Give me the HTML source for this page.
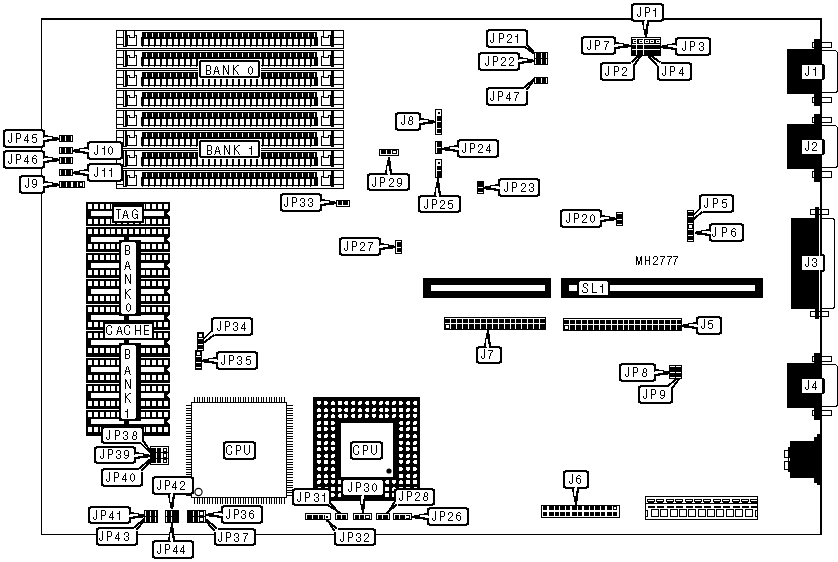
<!DOCTYPE html>
<html><head><meta charset="utf-8"><style>
html,body{margin:0;padding:0;background:#fff;}
svg{display:block;font-family:"Liberation Sans",sans-serif;}
</style></head><body>
<svg width="838" height="562" viewBox="0 0 838 562" shape-rendering="crispEdges">
<defs><filter id="th"><feComponentTransfer><feFuncA type="linear" slope="3" intercept="-1.0"/></feComponentTransfer></filter></defs>
<rect width="838" height="562" fill="#fff"/>
<rect x="41" y="18" width="781" height="2" fill="#000"/>
<rect x="41" y="18" width="1" height="517" fill="#000"/>
<rect x="41" y="534" width="781" height="1" fill="#000"/>
<rect x="820" y="18" width="2" height="517" fill="#000"/>
<rect x="116" y="30" width="25" height="1" fill="#000"/>
<rect x="116" y="31" width="1" height="1" fill="#000"/>
<rect x="123" y="31" width="1" height="1" fill="#000"/>
<rect x="125" y="31" width="2" height="1" fill="#000"/>
<rect x="134" y="31" width="1" height="1" fill="#000"/>
<rect x="116" y="32" width="1" height="1" fill="#000"/>
<rect x="123" y="32" width="1" height="1" fill="#000"/>
<rect x="125" y="32" width="2" height="1" fill="#000"/>
<rect x="134" y="32" width="1" height="1" fill="#000"/>
<rect x="116" y="33" width="1" height="1" fill="#000"/>
<rect x="123" y="33" width="1" height="1" fill="#000"/>
<rect x="125" y="33" width="2" height="1" fill="#000"/>
<rect x="134" y="33" width="1" height="1" fill="#000"/>
<rect x="116" y="34" width="1" height="1" fill="#000"/>
<rect x="123" y="34" width="1" height="1" fill="#000"/>
<rect x="125" y="34" width="2" height="1" fill="#000"/>
<rect x="134" y="34" width="1" height="1" fill="#000"/>
<rect x="116" y="35" width="1" height="1" fill="#000"/>
<rect x="123" y="35" width="1" height="1" fill="#000"/>
<rect x="125" y="35" width="5" height="1" fill="#000"/>
<rect x="134" y="35" width="3" height="1" fill="#000"/>
<rect x="116" y="36" width="1" height="1" fill="#000"/>
<rect x="123" y="36" width="1" height="1" fill="#000"/>
<rect x="125" y="36" width="3" height="1" fill="#000"/>
<rect x="129" y="36" width="1" height="1" fill="#000"/>
<rect x="134" y="36" width="1" height="1" fill="#000"/>
<rect x="136" y="36" width="1" height="1" fill="#000"/>
<rect x="116" y="37" width="8" height="1" fill="#000"/>
<rect x="125" y="37" width="3" height="1" fill="#000"/>
<rect x="129" y="37" width="6" height="1" fill="#000"/>
<rect x="136" y="37" width="1" height="1" fill="#000"/>
<rect x="116" y="38" width="1" height="1" fill="#000"/>
<rect x="123" y="38" width="1" height="1" fill="#000"/>
<rect x="125" y="38" width="3" height="1" fill="#000"/>
<rect x="136" y="38" width="1" height="1" fill="#000"/>
<rect x="116" y="39" width="1" height="1" fill="#000"/>
<rect x="123" y="39" width="1" height="1" fill="#000"/>
<rect x="125" y="39" width="3" height="1" fill="#000"/>
<rect x="136" y="39" width="1" height="1" fill="#000"/>
<rect x="116" y="40" width="1" height="1" fill="#000"/>
<rect x="123" y="40" width="1" height="1" fill="#000"/>
<rect x="125" y="40" width="3" height="1" fill="#000"/>
<rect x="136" y="40" width="1" height="1" fill="#000"/>
<rect x="116" y="41" width="1" height="1" fill="#000"/>
<rect x="123" y="41" width="1" height="1" fill="#000"/>
<rect x="125" y="41" width="3" height="1" fill="#000"/>
<rect x="136" y="41" width="1" height="1" fill="#000"/>
<rect x="116" y="42" width="1" height="1" fill="#000"/>
<rect x="123" y="42" width="1" height="1" fill="#000"/>
<rect x="125" y="42" width="3" height="1" fill="#000"/>
<rect x="136" y="42" width="1" height="1" fill="#000"/>
<rect x="116" y="43" width="1" height="1" fill="#000"/>
<rect x="123" y="43" width="1" height="1" fill="#000"/>
<rect x="125" y="43" width="3" height="1" fill="#000"/>
<rect x="136" y="43" width="1" height="1" fill="#000"/>
<rect x="116" y="44" width="8" height="1" fill="#000"/>
<rect x="125" y="44" width="3" height="1" fill="#000"/>
<rect x="136" y="44" width="1" height="1" fill="#000"/>
<rect x="116" y="45" width="1" height="1" fill="#000"/>
<rect x="123" y="45" width="1" height="1" fill="#000"/>
<rect x="125" y="45" width="12" height="1" fill="#000"/>
<rect x="116" y="46" width="1" height="1" fill="#000"/>
<rect x="123" y="46" width="4" height="1" fill="#000"/>
<rect x="116" y="47" width="1" height="1" fill="#000"/>
<rect x="116" y="48" width="25" height="1" fill="#000"/>
<rect x="316" y="30" width="28" height="1" fill="#000"/>
<rect x="323" y="31" width="1" height="1" fill="#000"/>
<rect x="331" y="31" width="3" height="1" fill="#000"/>
<rect x="343" y="31" width="1" height="1" fill="#000"/>
<rect x="323" y="32" width="1" height="1" fill="#000"/>
<rect x="331" y="32" width="3" height="1" fill="#000"/>
<rect x="343" y="32" width="1" height="1" fill="#000"/>
<rect x="323" y="33" width="1" height="1" fill="#000"/>
<rect x="331" y="33" width="3" height="1" fill="#000"/>
<rect x="343" y="33" width="1" height="1" fill="#000"/>
<rect x="323" y="34" width="1" height="1" fill="#000"/>
<rect x="331" y="34" width="3" height="1" fill="#000"/>
<rect x="343" y="34" width="1" height="1" fill="#000"/>
<rect x="323" y="35" width="1" height="1" fill="#000"/>
<rect x="328" y="35" width="6" height="1" fill="#000"/>
<rect x="343" y="35" width="1" height="1" fill="#000"/>
<rect x="321" y="36" width="3" height="1" fill="#000"/>
<rect x="328" y="36" width="1" height="1" fill="#000"/>
<rect x="330" y="36" width="4" height="1" fill="#000"/>
<rect x="343" y="36" width="1" height="1" fill="#000"/>
<rect x="321" y="37" width="1" height="1" fill="#000"/>
<rect x="323" y="37" width="6" height="1" fill="#000"/>
<rect x="330" y="37" width="14" height="1" fill="#000"/>
<rect x="321" y="38" width="1" height="1" fill="#000"/>
<rect x="330" y="38" width="4" height="1" fill="#000"/>
<rect x="343" y="38" width="1" height="1" fill="#000"/>
<rect x="321" y="39" width="1" height="1" fill="#000"/>
<rect x="330" y="39" width="4" height="1" fill="#000"/>
<rect x="343" y="39" width="1" height="1" fill="#000"/>
<rect x="321" y="40" width="1" height="1" fill="#000"/>
<rect x="330" y="40" width="4" height="1" fill="#000"/>
<rect x="343" y="40" width="1" height="1" fill="#000"/>
<rect x="321" y="41" width="1" height="1" fill="#000"/>
<rect x="330" y="41" width="4" height="1" fill="#000"/>
<rect x="343" y="41" width="1" height="1" fill="#000"/>
<rect x="321" y="42" width="1" height="1" fill="#000"/>
<rect x="330" y="42" width="4" height="1" fill="#000"/>
<rect x="343" y="42" width="1" height="1" fill="#000"/>
<rect x="321" y="43" width="1" height="1" fill="#000"/>
<rect x="330" y="43" width="4" height="1" fill="#000"/>
<rect x="343" y="43" width="1" height="1" fill="#000"/>
<rect x="321" y="44" width="1" height="1" fill="#000"/>
<rect x="330" y="44" width="14" height="1" fill="#000"/>
<rect x="321" y="45" width="13" height="1" fill="#000"/>
<rect x="343" y="45" width="1" height="1" fill="#000"/>
<rect x="331" y="46" width="3" height="1" fill="#000"/>
<rect x="343" y="46" width="1" height="1" fill="#000"/>
<rect x="343" y="47" width="1" height="1" fill="#000"/>
<rect x="316" y="48" width="28" height="1" fill="#000"/>
<rect x="141" y="30" width="176" height="1" fill="#000"/>
<rect x="141" y="48" width="176" height="1" fill="#000"/>
<rect x="142" y="32" width="175" height="5" fill="#000"/>
<rect x="146" y="33" width="1" height="4" fill="#fff"/>
<rect x="152" y="33" width="1" height="4" fill="#fff"/>
<rect x="158" y="33" width="1" height="4" fill="#fff"/>
<rect x="164" y="33" width="1" height="4" fill="#fff"/>
<rect x="170" y="33" width="1" height="4" fill="#fff"/>
<rect x="176" y="33" width="1" height="4" fill="#fff"/>
<rect x="182" y="33" width="1" height="4" fill="#fff"/>
<rect x="188" y="33" width="1" height="4" fill="#fff"/>
<rect x="194" y="33" width="1" height="4" fill="#fff"/>
<rect x="200" y="33" width="1" height="4" fill="#fff"/>
<rect x="206" y="33" width="1" height="4" fill="#fff"/>
<rect x="212" y="33" width="1" height="4" fill="#fff"/>
<rect x="218" y="33" width="1" height="4" fill="#fff"/>
<rect x="224" y="33" width="1" height="4" fill="#fff"/>
<rect x="230" y="33" width="1" height="4" fill="#fff"/>
<rect x="236" y="33" width="1" height="4" fill="#fff"/>
<rect x="242" y="33" width="1" height="4" fill="#fff"/>
<rect x="248" y="33" width="1" height="4" fill="#fff"/>
<rect x="254" y="33" width="1" height="4" fill="#fff"/>
<rect x="260" y="33" width="1" height="4" fill="#fff"/>
<rect x="266" y="33" width="1" height="4" fill="#fff"/>
<rect x="272" y="33" width="1" height="4" fill="#fff"/>
<rect x="278" y="33" width="1" height="4" fill="#fff"/>
<rect x="284" y="33" width="1" height="4" fill="#fff"/>
<rect x="290" y="33" width="1" height="4" fill="#fff"/>
<rect x="296" y="33" width="1" height="4" fill="#fff"/>
<rect x="302" y="33" width="1" height="4" fill="#fff"/>
<rect x="308" y="33" width="1" height="4" fill="#fff"/>
<rect x="314" y="33" width="1" height="4" fill="#fff"/>
<rect x="141" y="37" width="177" height="2" fill="#000"/>
<rect x="141" y="37" width="1" height="9" fill="#000"/>
<rect x="317" y="37" width="1" height="9" fill="#000"/>
<rect x="142" y="39" width="2" height="6" fill="#000"/>
<rect x="142" y="46" width="1" height="1" fill="#000"/>
<rect x="148" y="39" width="2" height="6" fill="#000"/>
<rect x="148" y="46" width="1" height="1" fill="#000"/>
<rect x="154" y="39" width="2" height="6" fill="#000"/>
<rect x="154" y="46" width="1" height="1" fill="#000"/>
<rect x="160" y="39" width="2" height="6" fill="#000"/>
<rect x="160" y="46" width="1" height="1" fill="#000"/>
<rect x="166" y="39" width="2" height="6" fill="#000"/>
<rect x="166" y="46" width="1" height="1" fill="#000"/>
<rect x="172" y="39" width="2" height="6" fill="#000"/>
<rect x="172" y="46" width="1" height="1" fill="#000"/>
<rect x="178" y="39" width="2" height="6" fill="#000"/>
<rect x="178" y="46" width="1" height="1" fill="#000"/>
<rect x="184" y="39" width="2" height="6" fill="#000"/>
<rect x="184" y="46" width="1" height="1" fill="#000"/>
<rect x="190" y="39" width="2" height="6" fill="#000"/>
<rect x="190" y="46" width="1" height="1" fill="#000"/>
<rect x="196" y="39" width="2" height="6" fill="#000"/>
<rect x="196" y="46" width="1" height="1" fill="#000"/>
<rect x="202" y="39" width="2" height="6" fill="#000"/>
<rect x="202" y="46" width="1" height="1" fill="#000"/>
<rect x="208" y="39" width="2" height="6" fill="#000"/>
<rect x="208" y="46" width="1" height="1" fill="#000"/>
<rect x="214" y="39" width="2" height="6" fill="#000"/>
<rect x="214" y="46" width="1" height="1" fill="#000"/>
<rect x="220" y="39" width="2" height="6" fill="#000"/>
<rect x="220" y="46" width="1" height="1" fill="#000"/>
<rect x="226" y="39" width="2" height="6" fill="#000"/>
<rect x="226" y="46" width="1" height="1" fill="#000"/>
<rect x="232" y="39" width="2" height="6" fill="#000"/>
<rect x="232" y="46" width="1" height="1" fill="#000"/>
<rect x="238" y="39" width="2" height="6" fill="#000"/>
<rect x="238" y="46" width="1" height="1" fill="#000"/>
<rect x="244" y="39" width="2" height="6" fill="#000"/>
<rect x="244" y="46" width="1" height="1" fill="#000"/>
<rect x="250" y="39" width="2" height="6" fill="#000"/>
<rect x="250" y="46" width="1" height="1" fill="#000"/>
<rect x="256" y="39" width="2" height="6" fill="#000"/>
<rect x="256" y="46" width="1" height="1" fill="#000"/>
<rect x="262" y="39" width="2" height="6" fill="#000"/>
<rect x="262" y="46" width="1" height="1" fill="#000"/>
<rect x="268" y="39" width="2" height="6" fill="#000"/>
<rect x="268" y="46" width="1" height="1" fill="#000"/>
<rect x="274" y="39" width="2" height="6" fill="#000"/>
<rect x="274" y="46" width="1" height="1" fill="#000"/>
<rect x="280" y="39" width="2" height="6" fill="#000"/>
<rect x="280" y="46" width="1" height="1" fill="#000"/>
<rect x="286" y="39" width="2" height="6" fill="#000"/>
<rect x="286" y="46" width="1" height="1" fill="#000"/>
<rect x="292" y="39" width="2" height="6" fill="#000"/>
<rect x="292" y="46" width="1" height="1" fill="#000"/>
<rect x="298" y="39" width="2" height="6" fill="#000"/>
<rect x="298" y="46" width="1" height="1" fill="#000"/>
<rect x="304" y="39" width="2" height="6" fill="#000"/>
<rect x="304" y="46" width="1" height="1" fill="#000"/>
<rect x="310" y="39" width="2" height="6" fill="#000"/>
<rect x="310" y="46" width="1" height="1" fill="#000"/>
<rect x="142" y="39" width="1" height="6" fill="#000"/>
<rect x="314" y="39" width="3" height="6" fill="#000"/>
<rect x="142" y="45" width="175" height="1" fill="#000"/>
<rect x="116" y="50" width="25" height="1" fill="#000"/>
<rect x="116" y="51" width="1" height="1" fill="#000"/>
<rect x="123" y="51" width="1" height="1" fill="#000"/>
<rect x="125" y="51" width="2" height="1" fill="#000"/>
<rect x="134" y="51" width="1" height="1" fill="#000"/>
<rect x="116" y="52" width="1" height="1" fill="#000"/>
<rect x="123" y="52" width="1" height="1" fill="#000"/>
<rect x="125" y="52" width="2" height="1" fill="#000"/>
<rect x="134" y="52" width="1" height="1" fill="#000"/>
<rect x="116" y="53" width="1" height="1" fill="#000"/>
<rect x="123" y="53" width="1" height="1" fill="#000"/>
<rect x="125" y="53" width="2" height="1" fill="#000"/>
<rect x="134" y="53" width="1" height="1" fill="#000"/>
<rect x="116" y="54" width="1" height="1" fill="#000"/>
<rect x="123" y="54" width="1" height="1" fill="#000"/>
<rect x="125" y="54" width="2" height="1" fill="#000"/>
<rect x="134" y="54" width="1" height="1" fill="#000"/>
<rect x="116" y="55" width="1" height="1" fill="#000"/>
<rect x="123" y="55" width="1" height="1" fill="#000"/>
<rect x="125" y="55" width="5" height="1" fill="#000"/>
<rect x="134" y="55" width="3" height="1" fill="#000"/>
<rect x="116" y="56" width="1" height="1" fill="#000"/>
<rect x="123" y="56" width="1" height="1" fill="#000"/>
<rect x="125" y="56" width="3" height="1" fill="#000"/>
<rect x="129" y="56" width="1" height="1" fill="#000"/>
<rect x="134" y="56" width="1" height="1" fill="#000"/>
<rect x="136" y="56" width="1" height="1" fill="#000"/>
<rect x="116" y="57" width="8" height="1" fill="#000"/>
<rect x="125" y="57" width="3" height="1" fill="#000"/>
<rect x="129" y="57" width="6" height="1" fill="#000"/>
<rect x="136" y="57" width="1" height="1" fill="#000"/>
<rect x="116" y="58" width="1" height="1" fill="#000"/>
<rect x="123" y="58" width="1" height="1" fill="#000"/>
<rect x="125" y="58" width="3" height="1" fill="#000"/>
<rect x="136" y="58" width="1" height="1" fill="#000"/>
<rect x="116" y="59" width="1" height="1" fill="#000"/>
<rect x="123" y="59" width="1" height="1" fill="#000"/>
<rect x="125" y="59" width="3" height="1" fill="#000"/>
<rect x="136" y="59" width="1" height="1" fill="#000"/>
<rect x="116" y="60" width="1" height="1" fill="#000"/>
<rect x="123" y="60" width="1" height="1" fill="#000"/>
<rect x="125" y="60" width="3" height="1" fill="#000"/>
<rect x="136" y="60" width="1" height="1" fill="#000"/>
<rect x="116" y="61" width="1" height="1" fill="#000"/>
<rect x="123" y="61" width="1" height="1" fill="#000"/>
<rect x="125" y="61" width="3" height="1" fill="#000"/>
<rect x="136" y="61" width="1" height="1" fill="#000"/>
<rect x="116" y="62" width="1" height="1" fill="#000"/>
<rect x="123" y="62" width="1" height="1" fill="#000"/>
<rect x="125" y="62" width="3" height="1" fill="#000"/>
<rect x="136" y="62" width="1" height="1" fill="#000"/>
<rect x="116" y="63" width="1" height="1" fill="#000"/>
<rect x="123" y="63" width="1" height="1" fill="#000"/>
<rect x="125" y="63" width="3" height="1" fill="#000"/>
<rect x="136" y="63" width="1" height="1" fill="#000"/>
<rect x="116" y="64" width="8" height="1" fill="#000"/>
<rect x="125" y="64" width="3" height="1" fill="#000"/>
<rect x="136" y="64" width="1" height="1" fill="#000"/>
<rect x="116" y="65" width="1" height="1" fill="#000"/>
<rect x="123" y="65" width="1" height="1" fill="#000"/>
<rect x="125" y="65" width="12" height="1" fill="#000"/>
<rect x="116" y="66" width="1" height="1" fill="#000"/>
<rect x="123" y="66" width="4" height="1" fill="#000"/>
<rect x="116" y="67" width="1" height="1" fill="#000"/>
<rect x="116" y="68" width="25" height="1" fill="#000"/>
<rect x="316" y="50" width="28" height="1" fill="#000"/>
<rect x="323" y="51" width="1" height="1" fill="#000"/>
<rect x="331" y="51" width="3" height="1" fill="#000"/>
<rect x="343" y="51" width="1" height="1" fill="#000"/>
<rect x="323" y="52" width="1" height="1" fill="#000"/>
<rect x="331" y="52" width="3" height="1" fill="#000"/>
<rect x="343" y="52" width="1" height="1" fill="#000"/>
<rect x="323" y="53" width="1" height="1" fill="#000"/>
<rect x="331" y="53" width="3" height="1" fill="#000"/>
<rect x="343" y="53" width="1" height="1" fill="#000"/>
<rect x="323" y="54" width="1" height="1" fill="#000"/>
<rect x="331" y="54" width="3" height="1" fill="#000"/>
<rect x="343" y="54" width="1" height="1" fill="#000"/>
<rect x="323" y="55" width="1" height="1" fill="#000"/>
<rect x="328" y="55" width="6" height="1" fill="#000"/>
<rect x="343" y="55" width="1" height="1" fill="#000"/>
<rect x="321" y="56" width="3" height="1" fill="#000"/>
<rect x="328" y="56" width="1" height="1" fill="#000"/>
<rect x="330" y="56" width="4" height="1" fill="#000"/>
<rect x="343" y="56" width="1" height="1" fill="#000"/>
<rect x="321" y="57" width="1" height="1" fill="#000"/>
<rect x="323" y="57" width="6" height="1" fill="#000"/>
<rect x="330" y="57" width="14" height="1" fill="#000"/>
<rect x="321" y="58" width="1" height="1" fill="#000"/>
<rect x="330" y="58" width="4" height="1" fill="#000"/>
<rect x="343" y="58" width="1" height="1" fill="#000"/>
<rect x="321" y="59" width="1" height="1" fill="#000"/>
<rect x="330" y="59" width="4" height="1" fill="#000"/>
<rect x="343" y="59" width="1" height="1" fill="#000"/>
<rect x="321" y="60" width="1" height="1" fill="#000"/>
<rect x="330" y="60" width="4" height="1" fill="#000"/>
<rect x="343" y="60" width="1" height="1" fill="#000"/>
<rect x="321" y="61" width="1" height="1" fill="#000"/>
<rect x="330" y="61" width="4" height="1" fill="#000"/>
<rect x="343" y="61" width="1" height="1" fill="#000"/>
<rect x="321" y="62" width="1" height="1" fill="#000"/>
<rect x="330" y="62" width="4" height="1" fill="#000"/>
<rect x="343" y="62" width="1" height="1" fill="#000"/>
<rect x="321" y="63" width="1" height="1" fill="#000"/>
<rect x="330" y="63" width="4" height="1" fill="#000"/>
<rect x="343" y="63" width="1" height="1" fill="#000"/>
<rect x="321" y="64" width="1" height="1" fill="#000"/>
<rect x="330" y="64" width="14" height="1" fill="#000"/>
<rect x="321" y="65" width="13" height="1" fill="#000"/>
<rect x="343" y="65" width="1" height="1" fill="#000"/>
<rect x="331" y="66" width="3" height="1" fill="#000"/>
<rect x="343" y="66" width="1" height="1" fill="#000"/>
<rect x="343" y="67" width="1" height="1" fill="#000"/>
<rect x="316" y="68" width="28" height="1" fill="#000"/>
<rect x="141" y="50" width="176" height="1" fill="#000"/>
<rect x="141" y="68" width="176" height="1" fill="#000"/>
<rect x="142" y="52" width="175" height="5" fill="#000"/>
<rect x="146" y="53" width="1" height="4" fill="#fff"/>
<rect x="152" y="53" width="1" height="4" fill="#fff"/>
<rect x="158" y="53" width="1" height="4" fill="#fff"/>
<rect x="164" y="53" width="1" height="4" fill="#fff"/>
<rect x="170" y="53" width="1" height="4" fill="#fff"/>
<rect x="176" y="53" width="1" height="4" fill="#fff"/>
<rect x="182" y="53" width="1" height="4" fill="#fff"/>
<rect x="188" y="53" width="1" height="4" fill="#fff"/>
<rect x="194" y="53" width="1" height="4" fill="#fff"/>
<rect x="200" y="53" width="1" height="4" fill="#fff"/>
<rect x="206" y="53" width="1" height="4" fill="#fff"/>
<rect x="212" y="53" width="1" height="4" fill="#fff"/>
<rect x="218" y="53" width="1" height="4" fill="#fff"/>
<rect x="224" y="53" width="1" height="4" fill="#fff"/>
<rect x="230" y="53" width="1" height="4" fill="#fff"/>
<rect x="236" y="53" width="1" height="4" fill="#fff"/>
<rect x="242" y="53" width="1" height="4" fill="#fff"/>
<rect x="248" y="53" width="1" height="4" fill="#fff"/>
<rect x="254" y="53" width="1" height="4" fill="#fff"/>
<rect x="260" y="53" width="1" height="4" fill="#fff"/>
<rect x="266" y="53" width="1" height="4" fill="#fff"/>
<rect x="272" y="53" width="1" height="4" fill="#fff"/>
<rect x="278" y="53" width="1" height="4" fill="#fff"/>
<rect x="284" y="53" width="1" height="4" fill="#fff"/>
<rect x="290" y="53" width="1" height="4" fill="#fff"/>
<rect x="296" y="53" width="1" height="4" fill="#fff"/>
<rect x="302" y="53" width="1" height="4" fill="#fff"/>
<rect x="308" y="53" width="1" height="4" fill="#fff"/>
<rect x="314" y="53" width="1" height="4" fill="#fff"/>
<rect x="141" y="57" width="177" height="2" fill="#000"/>
<rect x="141" y="57" width="1" height="9" fill="#000"/>
<rect x="317" y="57" width="1" height="9" fill="#000"/>
<rect x="142" y="59" width="2" height="6" fill="#000"/>
<rect x="142" y="66" width="1" height="1" fill="#000"/>
<rect x="148" y="59" width="2" height="6" fill="#000"/>
<rect x="148" y="66" width="1" height="1" fill="#000"/>
<rect x="154" y="59" width="2" height="6" fill="#000"/>
<rect x="154" y="66" width="1" height="1" fill="#000"/>
<rect x="160" y="59" width="2" height="6" fill="#000"/>
<rect x="160" y="66" width="1" height="1" fill="#000"/>
<rect x="166" y="59" width="2" height="6" fill="#000"/>
<rect x="166" y="66" width="1" height="1" fill="#000"/>
<rect x="172" y="59" width="2" height="6" fill="#000"/>
<rect x="172" y="66" width="1" height="1" fill="#000"/>
<rect x="178" y="59" width="2" height="6" fill="#000"/>
<rect x="178" y="66" width="1" height="1" fill="#000"/>
<rect x="184" y="59" width="2" height="6" fill="#000"/>
<rect x="184" y="66" width="1" height="1" fill="#000"/>
<rect x="190" y="59" width="2" height="6" fill="#000"/>
<rect x="190" y="66" width="1" height="1" fill="#000"/>
<rect x="196" y="59" width="2" height="6" fill="#000"/>
<rect x="196" y="66" width="1" height="1" fill="#000"/>
<rect x="202" y="59" width="2" height="6" fill="#000"/>
<rect x="202" y="66" width="1" height="1" fill="#000"/>
<rect x="208" y="59" width="2" height="6" fill="#000"/>
<rect x="208" y="66" width="1" height="1" fill="#000"/>
<rect x="214" y="59" width="2" height="6" fill="#000"/>
<rect x="214" y="66" width="1" height="1" fill="#000"/>
<rect x="220" y="59" width="2" height="6" fill="#000"/>
<rect x="220" y="66" width="1" height="1" fill="#000"/>
<rect x="226" y="59" width="2" height="6" fill="#000"/>
<rect x="226" y="66" width="1" height="1" fill="#000"/>
<rect x="232" y="59" width="2" height="6" fill="#000"/>
<rect x="232" y="66" width="1" height="1" fill="#000"/>
<rect x="238" y="59" width="2" height="6" fill="#000"/>
<rect x="238" y="66" width="1" height="1" fill="#000"/>
<rect x="244" y="59" width="2" height="6" fill="#000"/>
<rect x="244" y="66" width="1" height="1" fill="#000"/>
<rect x="250" y="59" width="2" height="6" fill="#000"/>
<rect x="250" y="66" width="1" height="1" fill="#000"/>
<rect x="256" y="59" width="2" height="6" fill="#000"/>
<rect x="256" y="66" width="1" height="1" fill="#000"/>
<rect x="262" y="59" width="2" height="6" fill="#000"/>
<rect x="262" y="66" width="1" height="1" fill="#000"/>
<rect x="268" y="59" width="2" height="6" fill="#000"/>
<rect x="268" y="66" width="1" height="1" fill="#000"/>
<rect x="274" y="59" width="2" height="6" fill="#000"/>
<rect x="274" y="66" width="1" height="1" fill="#000"/>
<rect x="280" y="59" width="2" height="6" fill="#000"/>
<rect x="280" y="66" width="1" height="1" fill="#000"/>
<rect x="286" y="59" width="2" height="6" fill="#000"/>
<rect x="286" y="66" width="1" height="1" fill="#000"/>
<rect x="292" y="59" width="2" height="6" fill="#000"/>
<rect x="292" y="66" width="1" height="1" fill="#000"/>
<rect x="298" y="59" width="2" height="6" fill="#000"/>
<rect x="298" y="66" width="1" height="1" fill="#000"/>
<rect x="304" y="59" width="2" height="6" fill="#000"/>
<rect x="304" y="66" width="1" height="1" fill="#000"/>
<rect x="310" y="59" width="2" height="6" fill="#000"/>
<rect x="310" y="66" width="1" height="1" fill="#000"/>
<rect x="142" y="59" width="1" height="6" fill="#000"/>
<rect x="314" y="59" width="3" height="6" fill="#000"/>
<rect x="142" y="65" width="175" height="1" fill="#000"/>
<rect x="116" y="70" width="25" height="1" fill="#000"/>
<rect x="116" y="71" width="1" height="1" fill="#000"/>
<rect x="123" y="71" width="1" height="1" fill="#000"/>
<rect x="125" y="71" width="2" height="1" fill="#000"/>
<rect x="134" y="71" width="1" height="1" fill="#000"/>
<rect x="116" y="72" width="1" height="1" fill="#000"/>
<rect x="123" y="72" width="1" height="1" fill="#000"/>
<rect x="125" y="72" width="2" height="1" fill="#000"/>
<rect x="134" y="72" width="1" height="1" fill="#000"/>
<rect x="116" y="73" width="1" height="1" fill="#000"/>
<rect x="123" y="73" width="1" height="1" fill="#000"/>
<rect x="125" y="73" width="2" height="1" fill="#000"/>
<rect x="134" y="73" width="1" height="1" fill="#000"/>
<rect x="116" y="74" width="1" height="1" fill="#000"/>
<rect x="123" y="74" width="1" height="1" fill="#000"/>
<rect x="125" y="74" width="2" height="1" fill="#000"/>
<rect x="134" y="74" width="1" height="1" fill="#000"/>
<rect x="116" y="75" width="1" height="1" fill="#000"/>
<rect x="123" y="75" width="1" height="1" fill="#000"/>
<rect x="125" y="75" width="5" height="1" fill="#000"/>
<rect x="134" y="75" width="3" height="1" fill="#000"/>
<rect x="116" y="76" width="1" height="1" fill="#000"/>
<rect x="123" y="76" width="1" height="1" fill="#000"/>
<rect x="125" y="76" width="3" height="1" fill="#000"/>
<rect x="129" y="76" width="1" height="1" fill="#000"/>
<rect x="134" y="76" width="1" height="1" fill="#000"/>
<rect x="136" y="76" width="1" height="1" fill="#000"/>
<rect x="116" y="77" width="8" height="1" fill="#000"/>
<rect x="125" y="77" width="3" height="1" fill="#000"/>
<rect x="129" y="77" width="6" height="1" fill="#000"/>
<rect x="136" y="77" width="1" height="1" fill="#000"/>
<rect x="116" y="78" width="1" height="1" fill="#000"/>
<rect x="123" y="78" width="1" height="1" fill="#000"/>
<rect x="125" y="78" width="3" height="1" fill="#000"/>
<rect x="136" y="78" width="1" height="1" fill="#000"/>
<rect x="116" y="79" width="1" height="1" fill="#000"/>
<rect x="123" y="79" width="1" height="1" fill="#000"/>
<rect x="125" y="79" width="3" height="1" fill="#000"/>
<rect x="136" y="79" width="1" height="1" fill="#000"/>
<rect x="116" y="80" width="1" height="1" fill="#000"/>
<rect x="123" y="80" width="1" height="1" fill="#000"/>
<rect x="125" y="80" width="3" height="1" fill="#000"/>
<rect x="136" y="80" width="1" height="1" fill="#000"/>
<rect x="116" y="81" width="1" height="1" fill="#000"/>
<rect x="123" y="81" width="1" height="1" fill="#000"/>
<rect x="125" y="81" width="3" height="1" fill="#000"/>
<rect x="136" y="81" width="1" height="1" fill="#000"/>
<rect x="116" y="82" width="1" height="1" fill="#000"/>
<rect x="123" y="82" width="1" height="1" fill="#000"/>
<rect x="125" y="82" width="3" height="1" fill="#000"/>
<rect x="136" y="82" width="1" height="1" fill="#000"/>
<rect x="116" y="83" width="1" height="1" fill="#000"/>
<rect x="123" y="83" width="1" height="1" fill="#000"/>
<rect x="125" y="83" width="3" height="1" fill="#000"/>
<rect x="136" y="83" width="1" height="1" fill="#000"/>
<rect x="116" y="84" width="8" height="1" fill="#000"/>
<rect x="125" y="84" width="3" height="1" fill="#000"/>
<rect x="136" y="84" width="1" height="1" fill="#000"/>
<rect x="116" y="85" width="1" height="1" fill="#000"/>
<rect x="123" y="85" width="1" height="1" fill="#000"/>
<rect x="125" y="85" width="12" height="1" fill="#000"/>
<rect x="116" y="86" width="1" height="1" fill="#000"/>
<rect x="123" y="86" width="4" height="1" fill="#000"/>
<rect x="116" y="87" width="1" height="1" fill="#000"/>
<rect x="116" y="88" width="25" height="1" fill="#000"/>
<rect x="316" y="70" width="28" height="1" fill="#000"/>
<rect x="323" y="71" width="1" height="1" fill="#000"/>
<rect x="331" y="71" width="3" height="1" fill="#000"/>
<rect x="343" y="71" width="1" height="1" fill="#000"/>
<rect x="323" y="72" width="1" height="1" fill="#000"/>
<rect x="331" y="72" width="3" height="1" fill="#000"/>
<rect x="343" y="72" width="1" height="1" fill="#000"/>
<rect x="323" y="73" width="1" height="1" fill="#000"/>
<rect x="331" y="73" width="3" height="1" fill="#000"/>
<rect x="343" y="73" width="1" height="1" fill="#000"/>
<rect x="323" y="74" width="1" height="1" fill="#000"/>
<rect x="331" y="74" width="3" height="1" fill="#000"/>
<rect x="343" y="74" width="1" height="1" fill="#000"/>
<rect x="323" y="75" width="1" height="1" fill="#000"/>
<rect x="328" y="75" width="6" height="1" fill="#000"/>
<rect x="343" y="75" width="1" height="1" fill="#000"/>
<rect x="321" y="76" width="3" height="1" fill="#000"/>
<rect x="328" y="76" width="1" height="1" fill="#000"/>
<rect x="330" y="76" width="4" height="1" fill="#000"/>
<rect x="343" y="76" width="1" height="1" fill="#000"/>
<rect x="321" y="77" width="1" height="1" fill="#000"/>
<rect x="323" y="77" width="6" height="1" fill="#000"/>
<rect x="330" y="77" width="14" height="1" fill="#000"/>
<rect x="321" y="78" width="1" height="1" fill="#000"/>
<rect x="330" y="78" width="4" height="1" fill="#000"/>
<rect x="343" y="78" width="1" height="1" fill="#000"/>
<rect x="321" y="79" width="1" height="1" fill="#000"/>
<rect x="330" y="79" width="4" height="1" fill="#000"/>
<rect x="343" y="79" width="1" height="1" fill="#000"/>
<rect x="321" y="80" width="1" height="1" fill="#000"/>
<rect x="330" y="80" width="4" height="1" fill="#000"/>
<rect x="343" y="80" width="1" height="1" fill="#000"/>
<rect x="321" y="81" width="1" height="1" fill="#000"/>
<rect x="330" y="81" width="4" height="1" fill="#000"/>
<rect x="343" y="81" width="1" height="1" fill="#000"/>
<rect x="321" y="82" width="1" height="1" fill="#000"/>
<rect x="330" y="82" width="4" height="1" fill="#000"/>
<rect x="343" y="82" width="1" height="1" fill="#000"/>
<rect x="321" y="83" width="1" height="1" fill="#000"/>
<rect x="330" y="83" width="4" height="1" fill="#000"/>
<rect x="343" y="83" width="1" height="1" fill="#000"/>
<rect x="321" y="84" width="1" height="1" fill="#000"/>
<rect x="330" y="84" width="14" height="1" fill="#000"/>
<rect x="321" y="85" width="13" height="1" fill="#000"/>
<rect x="343" y="85" width="1" height="1" fill="#000"/>
<rect x="331" y="86" width="3" height="1" fill="#000"/>
<rect x="343" y="86" width="1" height="1" fill="#000"/>
<rect x="343" y="87" width="1" height="1" fill="#000"/>
<rect x="316" y="88" width="28" height="1" fill="#000"/>
<rect x="141" y="70" width="176" height="1" fill="#000"/>
<rect x="141" y="88" width="176" height="1" fill="#000"/>
<rect x="142" y="72" width="175" height="5" fill="#000"/>
<rect x="146" y="73" width="1" height="4" fill="#fff"/>
<rect x="152" y="73" width="1" height="4" fill="#fff"/>
<rect x="158" y="73" width="1" height="4" fill="#fff"/>
<rect x="164" y="73" width="1" height="4" fill="#fff"/>
<rect x="170" y="73" width="1" height="4" fill="#fff"/>
<rect x="176" y="73" width="1" height="4" fill="#fff"/>
<rect x="182" y="73" width="1" height="4" fill="#fff"/>
<rect x="188" y="73" width="1" height="4" fill="#fff"/>
<rect x="194" y="73" width="1" height="4" fill="#fff"/>
<rect x="200" y="73" width="1" height="4" fill="#fff"/>
<rect x="206" y="73" width="1" height="4" fill="#fff"/>
<rect x="212" y="73" width="1" height="4" fill="#fff"/>
<rect x="218" y="73" width="1" height="4" fill="#fff"/>
<rect x="224" y="73" width="1" height="4" fill="#fff"/>
<rect x="230" y="73" width="1" height="4" fill="#fff"/>
<rect x="236" y="73" width="1" height="4" fill="#fff"/>
<rect x="242" y="73" width="1" height="4" fill="#fff"/>
<rect x="248" y="73" width="1" height="4" fill="#fff"/>
<rect x="254" y="73" width="1" height="4" fill="#fff"/>
<rect x="260" y="73" width="1" height="4" fill="#fff"/>
<rect x="266" y="73" width="1" height="4" fill="#fff"/>
<rect x="272" y="73" width="1" height="4" fill="#fff"/>
<rect x="278" y="73" width="1" height="4" fill="#fff"/>
<rect x="284" y="73" width="1" height="4" fill="#fff"/>
<rect x="290" y="73" width="1" height="4" fill="#fff"/>
<rect x="296" y="73" width="1" height="4" fill="#fff"/>
<rect x="302" y="73" width="1" height="4" fill="#fff"/>
<rect x="308" y="73" width="1" height="4" fill="#fff"/>
<rect x="314" y="73" width="1" height="4" fill="#fff"/>
<rect x="141" y="77" width="177" height="2" fill="#000"/>
<rect x="141" y="77" width="1" height="9" fill="#000"/>
<rect x="317" y="77" width="1" height="9" fill="#000"/>
<rect x="142" y="79" width="2" height="6" fill="#000"/>
<rect x="142" y="86" width="1" height="1" fill="#000"/>
<rect x="148" y="79" width="2" height="6" fill="#000"/>
<rect x="148" y="86" width="1" height="1" fill="#000"/>
<rect x="154" y="79" width="2" height="6" fill="#000"/>
<rect x="154" y="86" width="1" height="1" fill="#000"/>
<rect x="160" y="79" width="2" height="6" fill="#000"/>
<rect x="160" y="86" width="1" height="1" fill="#000"/>
<rect x="166" y="79" width="2" height="6" fill="#000"/>
<rect x="166" y="86" width="1" height="1" fill="#000"/>
<rect x="172" y="79" width="2" height="6" fill="#000"/>
<rect x="172" y="86" width="1" height="1" fill="#000"/>
<rect x="178" y="79" width="2" height="6" fill="#000"/>
<rect x="178" y="86" width="1" height="1" fill="#000"/>
<rect x="184" y="79" width="2" height="6" fill="#000"/>
<rect x="184" y="86" width="1" height="1" fill="#000"/>
<rect x="190" y="79" width="2" height="6" fill="#000"/>
<rect x="190" y="86" width="1" height="1" fill="#000"/>
<rect x="196" y="79" width="2" height="6" fill="#000"/>
<rect x="196" y="86" width="1" height="1" fill="#000"/>
<rect x="202" y="79" width="2" height="6" fill="#000"/>
<rect x="202" y="86" width="1" height="1" fill="#000"/>
<rect x="208" y="79" width="2" height="6" fill="#000"/>
<rect x="208" y="86" width="1" height="1" fill="#000"/>
<rect x="214" y="79" width="2" height="6" fill="#000"/>
<rect x="214" y="86" width="1" height="1" fill="#000"/>
<rect x="220" y="79" width="2" height="6" fill="#000"/>
<rect x="220" y="86" width="1" height="1" fill="#000"/>
<rect x="226" y="79" width="2" height="6" fill="#000"/>
<rect x="226" y="86" width="1" height="1" fill="#000"/>
<rect x="232" y="79" width="2" height="6" fill="#000"/>
<rect x="232" y="86" width="1" height="1" fill="#000"/>
<rect x="238" y="79" width="2" height="6" fill="#000"/>
<rect x="238" y="86" width="1" height="1" fill="#000"/>
<rect x="244" y="79" width="2" height="6" fill="#000"/>
<rect x="244" y="86" width="1" height="1" fill="#000"/>
<rect x="250" y="79" width="2" height="6" fill="#000"/>
<rect x="250" y="86" width="1" height="1" fill="#000"/>
<rect x="256" y="79" width="2" height="6" fill="#000"/>
<rect x="256" y="86" width="1" height="1" fill="#000"/>
<rect x="262" y="79" width="2" height="6" fill="#000"/>
<rect x="262" y="86" width="1" height="1" fill="#000"/>
<rect x="268" y="79" width="2" height="6" fill="#000"/>
<rect x="268" y="86" width="1" height="1" fill="#000"/>
<rect x="274" y="79" width="2" height="6" fill="#000"/>
<rect x="274" y="86" width="1" height="1" fill="#000"/>
<rect x="280" y="79" width="2" height="6" fill="#000"/>
<rect x="280" y="86" width="1" height="1" fill="#000"/>
<rect x="286" y="79" width="2" height="6" fill="#000"/>
<rect x="286" y="86" width="1" height="1" fill="#000"/>
<rect x="292" y="79" width="2" height="6" fill="#000"/>
<rect x="292" y="86" width="1" height="1" fill="#000"/>
<rect x="298" y="79" width="2" height="6" fill="#000"/>
<rect x="298" y="86" width="1" height="1" fill="#000"/>
<rect x="304" y="79" width="2" height="6" fill="#000"/>
<rect x="304" y="86" width="1" height="1" fill="#000"/>
<rect x="310" y="79" width="2" height="6" fill="#000"/>
<rect x="310" y="86" width="1" height="1" fill="#000"/>
<rect x="142" y="79" width="1" height="6" fill="#000"/>
<rect x="314" y="79" width="3" height="6" fill="#000"/>
<rect x="142" y="85" width="175" height="1" fill="#000"/>
<rect x="116" y="90" width="25" height="1" fill="#000"/>
<rect x="116" y="91" width="1" height="1" fill="#000"/>
<rect x="123" y="91" width="1" height="1" fill="#000"/>
<rect x="125" y="91" width="2" height="1" fill="#000"/>
<rect x="134" y="91" width="1" height="1" fill="#000"/>
<rect x="116" y="92" width="1" height="1" fill="#000"/>
<rect x="123" y="92" width="1" height="1" fill="#000"/>
<rect x="125" y="92" width="2" height="1" fill="#000"/>
<rect x="134" y="92" width="1" height="1" fill="#000"/>
<rect x="116" y="93" width="1" height="1" fill="#000"/>
<rect x="123" y="93" width="1" height="1" fill="#000"/>
<rect x="125" y="93" width="2" height="1" fill="#000"/>
<rect x="134" y="93" width="1" height="1" fill="#000"/>
<rect x="116" y="94" width="1" height="1" fill="#000"/>
<rect x="123" y="94" width="1" height="1" fill="#000"/>
<rect x="125" y="94" width="2" height="1" fill="#000"/>
<rect x="134" y="94" width="1" height="1" fill="#000"/>
<rect x="116" y="95" width="1" height="1" fill="#000"/>
<rect x="123" y="95" width="1" height="1" fill="#000"/>
<rect x="125" y="95" width="5" height="1" fill="#000"/>
<rect x="134" y="95" width="3" height="1" fill="#000"/>
<rect x="116" y="96" width="1" height="1" fill="#000"/>
<rect x="123" y="96" width="1" height="1" fill="#000"/>
<rect x="125" y="96" width="3" height="1" fill="#000"/>
<rect x="129" y="96" width="1" height="1" fill="#000"/>
<rect x="134" y="96" width="1" height="1" fill="#000"/>
<rect x="136" y="96" width="1" height="1" fill="#000"/>
<rect x="116" y="97" width="8" height="1" fill="#000"/>
<rect x="125" y="97" width="3" height="1" fill="#000"/>
<rect x="129" y="97" width="6" height="1" fill="#000"/>
<rect x="136" y="97" width="1" height="1" fill="#000"/>
<rect x="116" y="98" width="1" height="1" fill="#000"/>
<rect x="123" y="98" width="1" height="1" fill="#000"/>
<rect x="125" y="98" width="3" height="1" fill="#000"/>
<rect x="136" y="98" width="1" height="1" fill="#000"/>
<rect x="116" y="99" width="1" height="1" fill="#000"/>
<rect x="123" y="99" width="1" height="1" fill="#000"/>
<rect x="125" y="99" width="3" height="1" fill="#000"/>
<rect x="136" y="99" width="1" height="1" fill="#000"/>
<rect x="116" y="100" width="1" height="1" fill="#000"/>
<rect x="123" y="100" width="1" height="1" fill="#000"/>
<rect x="125" y="100" width="3" height="1" fill="#000"/>
<rect x="136" y="100" width="1" height="1" fill="#000"/>
<rect x="116" y="101" width="1" height="1" fill="#000"/>
<rect x="123" y="101" width="1" height="1" fill="#000"/>
<rect x="125" y="101" width="3" height="1" fill="#000"/>
<rect x="136" y="101" width="1" height="1" fill="#000"/>
<rect x="116" y="102" width="1" height="1" fill="#000"/>
<rect x="123" y="102" width="1" height="1" fill="#000"/>
<rect x="125" y="102" width="3" height="1" fill="#000"/>
<rect x="136" y="102" width="1" height="1" fill="#000"/>
<rect x="116" y="103" width="1" height="1" fill="#000"/>
<rect x="123" y="103" width="1" height="1" fill="#000"/>
<rect x="125" y="103" width="3" height="1" fill="#000"/>
<rect x="136" y="103" width="1" height="1" fill="#000"/>
<rect x="116" y="104" width="8" height="1" fill="#000"/>
<rect x="125" y="104" width="3" height="1" fill="#000"/>
<rect x="136" y="104" width="1" height="1" fill="#000"/>
<rect x="116" y="105" width="1" height="1" fill="#000"/>
<rect x="123" y="105" width="1" height="1" fill="#000"/>
<rect x="125" y="105" width="12" height="1" fill="#000"/>
<rect x="116" y="106" width="1" height="1" fill="#000"/>
<rect x="123" y="106" width="4" height="1" fill="#000"/>
<rect x="116" y="107" width="1" height="1" fill="#000"/>
<rect x="116" y="108" width="25" height="1" fill="#000"/>
<rect x="316" y="90" width="28" height="1" fill="#000"/>
<rect x="323" y="91" width="1" height="1" fill="#000"/>
<rect x="331" y="91" width="3" height="1" fill="#000"/>
<rect x="343" y="91" width="1" height="1" fill="#000"/>
<rect x="323" y="92" width="1" height="1" fill="#000"/>
<rect x="331" y="92" width="3" height="1" fill="#000"/>
<rect x="343" y="92" width="1" height="1" fill="#000"/>
<rect x="323" y="93" width="1" height="1" fill="#000"/>
<rect x="331" y="93" width="3" height="1" fill="#000"/>
<rect x="343" y="93" width="1" height="1" fill="#000"/>
<rect x="323" y="94" width="1" height="1" fill="#000"/>
<rect x="331" y="94" width="3" height="1" fill="#000"/>
<rect x="343" y="94" width="1" height="1" fill="#000"/>
<rect x="323" y="95" width="1" height="1" fill="#000"/>
<rect x="328" y="95" width="6" height="1" fill="#000"/>
<rect x="343" y="95" width="1" height="1" fill="#000"/>
<rect x="321" y="96" width="3" height="1" fill="#000"/>
<rect x="328" y="96" width="1" height="1" fill="#000"/>
<rect x="330" y="96" width="4" height="1" fill="#000"/>
<rect x="343" y="96" width="1" height="1" fill="#000"/>
<rect x="321" y="97" width="1" height="1" fill="#000"/>
<rect x="323" y="97" width="6" height="1" fill="#000"/>
<rect x="330" y="97" width="14" height="1" fill="#000"/>
<rect x="321" y="98" width="1" height="1" fill="#000"/>
<rect x="330" y="98" width="4" height="1" fill="#000"/>
<rect x="343" y="98" width="1" height="1" fill="#000"/>
<rect x="321" y="99" width="1" height="1" fill="#000"/>
<rect x="330" y="99" width="4" height="1" fill="#000"/>
<rect x="343" y="99" width="1" height="1" fill="#000"/>
<rect x="321" y="100" width="1" height="1" fill="#000"/>
<rect x="330" y="100" width="4" height="1" fill="#000"/>
<rect x="343" y="100" width="1" height="1" fill="#000"/>
<rect x="321" y="101" width="1" height="1" fill="#000"/>
<rect x="330" y="101" width="4" height="1" fill="#000"/>
<rect x="343" y="101" width="1" height="1" fill="#000"/>
<rect x="321" y="102" width="1" height="1" fill="#000"/>
<rect x="330" y="102" width="4" height="1" fill="#000"/>
<rect x="343" y="102" width="1" height="1" fill="#000"/>
<rect x="321" y="103" width="1" height="1" fill="#000"/>
<rect x="330" y="103" width="4" height="1" fill="#000"/>
<rect x="343" y="103" width="1" height="1" fill="#000"/>
<rect x="321" y="104" width="1" height="1" fill="#000"/>
<rect x="330" y="104" width="14" height="1" fill="#000"/>
<rect x="321" y="105" width="13" height="1" fill="#000"/>
<rect x="343" y="105" width="1" height="1" fill="#000"/>
<rect x="331" y="106" width="3" height="1" fill="#000"/>
<rect x="343" y="106" width="1" height="1" fill="#000"/>
<rect x="343" y="107" width="1" height="1" fill="#000"/>
<rect x="316" y="108" width="28" height="1" fill="#000"/>
<rect x="141" y="90" width="176" height="1" fill="#000"/>
<rect x="141" y="108" width="176" height="1" fill="#000"/>
<rect x="142" y="92" width="175" height="5" fill="#000"/>
<rect x="146" y="93" width="1" height="4" fill="#fff"/>
<rect x="152" y="93" width="1" height="4" fill="#fff"/>
<rect x="158" y="93" width="1" height="4" fill="#fff"/>
<rect x="164" y="93" width="1" height="4" fill="#fff"/>
<rect x="170" y="93" width="1" height="4" fill="#fff"/>
<rect x="176" y="93" width="1" height="4" fill="#fff"/>
<rect x="182" y="93" width="1" height="4" fill="#fff"/>
<rect x="188" y="93" width="1" height="4" fill="#fff"/>
<rect x="194" y="93" width="1" height="4" fill="#fff"/>
<rect x="200" y="93" width="1" height="4" fill="#fff"/>
<rect x="206" y="93" width="1" height="4" fill="#fff"/>
<rect x="212" y="93" width="1" height="4" fill="#fff"/>
<rect x="218" y="93" width="1" height="4" fill="#fff"/>
<rect x="224" y="93" width="1" height="4" fill="#fff"/>
<rect x="230" y="93" width="1" height="4" fill="#fff"/>
<rect x="236" y="93" width="1" height="4" fill="#fff"/>
<rect x="242" y="93" width="1" height="4" fill="#fff"/>
<rect x="248" y="93" width="1" height="4" fill="#fff"/>
<rect x="254" y="93" width="1" height="4" fill="#fff"/>
<rect x="260" y="93" width="1" height="4" fill="#fff"/>
<rect x="266" y="93" width="1" height="4" fill="#fff"/>
<rect x="272" y="93" width="1" height="4" fill="#fff"/>
<rect x="278" y="93" width="1" height="4" fill="#fff"/>
<rect x="284" y="93" width="1" height="4" fill="#fff"/>
<rect x="290" y="93" width="1" height="4" fill="#fff"/>
<rect x="296" y="93" width="1" height="4" fill="#fff"/>
<rect x="302" y="93" width="1" height="4" fill="#fff"/>
<rect x="308" y="93" width="1" height="4" fill="#fff"/>
<rect x="314" y="93" width="1" height="4" fill="#fff"/>
<rect x="141" y="97" width="177" height="2" fill="#000"/>
<rect x="141" y="97" width="1" height="9" fill="#000"/>
<rect x="317" y="97" width="1" height="9" fill="#000"/>
<rect x="142" y="99" width="2" height="6" fill="#000"/>
<rect x="142" y="106" width="1" height="1" fill="#000"/>
<rect x="148" y="99" width="2" height="6" fill="#000"/>
<rect x="148" y="106" width="1" height="1" fill="#000"/>
<rect x="154" y="99" width="2" height="6" fill="#000"/>
<rect x="154" y="106" width="1" height="1" fill="#000"/>
<rect x="160" y="99" width="2" height="6" fill="#000"/>
<rect x="160" y="106" width="1" height="1" fill="#000"/>
<rect x="166" y="99" width="2" height="6" fill="#000"/>
<rect x="166" y="106" width="1" height="1" fill="#000"/>
<rect x="172" y="99" width="2" height="6" fill="#000"/>
<rect x="172" y="106" width="1" height="1" fill="#000"/>
<rect x="178" y="99" width="2" height="6" fill="#000"/>
<rect x="178" y="106" width="1" height="1" fill="#000"/>
<rect x="184" y="99" width="2" height="6" fill="#000"/>
<rect x="184" y="106" width="1" height="1" fill="#000"/>
<rect x="190" y="99" width="2" height="6" fill="#000"/>
<rect x="190" y="106" width="1" height="1" fill="#000"/>
<rect x="196" y="99" width="2" height="6" fill="#000"/>
<rect x="196" y="106" width="1" height="1" fill="#000"/>
<rect x="202" y="99" width="2" height="6" fill="#000"/>
<rect x="202" y="106" width="1" height="1" fill="#000"/>
<rect x="208" y="99" width="2" height="6" fill="#000"/>
<rect x="208" y="106" width="1" height="1" fill="#000"/>
<rect x="214" y="99" width="2" height="6" fill="#000"/>
<rect x="214" y="106" width="1" height="1" fill="#000"/>
<rect x="220" y="99" width="2" height="6" fill="#000"/>
<rect x="220" y="106" width="1" height="1" fill="#000"/>
<rect x="226" y="99" width="2" height="6" fill="#000"/>
<rect x="226" y="106" width="1" height="1" fill="#000"/>
<rect x="232" y="99" width="2" height="6" fill="#000"/>
<rect x="232" y="106" width="1" height="1" fill="#000"/>
<rect x="238" y="99" width="2" height="6" fill="#000"/>
<rect x="238" y="106" width="1" height="1" fill="#000"/>
<rect x="244" y="99" width="2" height="6" fill="#000"/>
<rect x="244" y="106" width="1" height="1" fill="#000"/>
<rect x="250" y="99" width="2" height="6" fill="#000"/>
<rect x="250" y="106" width="1" height="1" fill="#000"/>
<rect x="256" y="99" width="2" height="6" fill="#000"/>
<rect x="256" y="106" width="1" height="1" fill="#000"/>
<rect x="262" y="99" width="2" height="6" fill="#000"/>
<rect x="262" y="106" width="1" height="1" fill="#000"/>
<rect x="268" y="99" width="2" height="6" fill="#000"/>
<rect x="268" y="106" width="1" height="1" fill="#000"/>
<rect x="274" y="99" width="2" height="6" fill="#000"/>
<rect x="274" y="106" width="1" height="1" fill="#000"/>
<rect x="280" y="99" width="2" height="6" fill="#000"/>
<rect x="280" y="106" width="1" height="1" fill="#000"/>
<rect x="286" y="99" width="2" height="6" fill="#000"/>
<rect x="286" y="106" width="1" height="1" fill="#000"/>
<rect x="292" y="99" width="2" height="6" fill="#000"/>
<rect x="292" y="106" width="1" height="1" fill="#000"/>
<rect x="298" y="99" width="2" height="6" fill="#000"/>
<rect x="298" y="106" width="1" height="1" fill="#000"/>
<rect x="304" y="99" width="2" height="6" fill="#000"/>
<rect x="304" y="106" width="1" height="1" fill="#000"/>
<rect x="310" y="99" width="2" height="6" fill="#000"/>
<rect x="310" y="106" width="1" height="1" fill="#000"/>
<rect x="142" y="99" width="1" height="6" fill="#000"/>
<rect x="314" y="99" width="3" height="6" fill="#000"/>
<rect x="142" y="105" width="175" height="1" fill="#000"/>
<rect x="116" y="110" width="25" height="1" fill="#000"/>
<rect x="116" y="111" width="1" height="1" fill="#000"/>
<rect x="123" y="111" width="1" height="1" fill="#000"/>
<rect x="125" y="111" width="2" height="1" fill="#000"/>
<rect x="134" y="111" width="1" height="1" fill="#000"/>
<rect x="116" y="112" width="1" height="1" fill="#000"/>
<rect x="123" y="112" width="1" height="1" fill="#000"/>
<rect x="125" y="112" width="2" height="1" fill="#000"/>
<rect x="134" y="112" width="1" height="1" fill="#000"/>
<rect x="116" y="113" width="1" height="1" fill="#000"/>
<rect x="123" y="113" width="1" height="1" fill="#000"/>
<rect x="125" y="113" width="2" height="1" fill="#000"/>
<rect x="134" y="113" width="1" height="1" fill="#000"/>
<rect x="116" y="114" width="1" height="1" fill="#000"/>
<rect x="123" y="114" width="1" height="1" fill="#000"/>
<rect x="125" y="114" width="2" height="1" fill="#000"/>
<rect x="134" y="114" width="1" height="1" fill="#000"/>
<rect x="116" y="115" width="1" height="1" fill="#000"/>
<rect x="123" y="115" width="1" height="1" fill="#000"/>
<rect x="125" y="115" width="5" height="1" fill="#000"/>
<rect x="134" y="115" width="3" height="1" fill="#000"/>
<rect x="116" y="116" width="1" height="1" fill="#000"/>
<rect x="123" y="116" width="1" height="1" fill="#000"/>
<rect x="125" y="116" width="3" height="1" fill="#000"/>
<rect x="129" y="116" width="1" height="1" fill="#000"/>
<rect x="134" y="116" width="1" height="1" fill="#000"/>
<rect x="136" y="116" width="1" height="1" fill="#000"/>
<rect x="116" y="117" width="8" height="1" fill="#000"/>
<rect x="125" y="117" width="3" height="1" fill="#000"/>
<rect x="129" y="117" width="6" height="1" fill="#000"/>
<rect x="136" y="117" width="1" height="1" fill="#000"/>
<rect x="116" y="118" width="1" height="1" fill="#000"/>
<rect x="123" y="118" width="1" height="1" fill="#000"/>
<rect x="125" y="118" width="3" height="1" fill="#000"/>
<rect x="136" y="118" width="1" height="1" fill="#000"/>
<rect x="116" y="119" width="1" height="1" fill="#000"/>
<rect x="123" y="119" width="1" height="1" fill="#000"/>
<rect x="125" y="119" width="3" height="1" fill="#000"/>
<rect x="136" y="119" width="1" height="1" fill="#000"/>
<rect x="116" y="120" width="1" height="1" fill="#000"/>
<rect x="123" y="120" width="1" height="1" fill="#000"/>
<rect x="125" y="120" width="3" height="1" fill="#000"/>
<rect x="136" y="120" width="1" height="1" fill="#000"/>
<rect x="116" y="121" width="1" height="1" fill="#000"/>
<rect x="123" y="121" width="1" height="1" fill="#000"/>
<rect x="125" y="121" width="3" height="1" fill="#000"/>
<rect x="136" y="121" width="1" height="1" fill="#000"/>
<rect x="116" y="122" width="1" height="1" fill="#000"/>
<rect x="123" y="122" width="1" height="1" fill="#000"/>
<rect x="125" y="122" width="3" height="1" fill="#000"/>
<rect x="136" y="122" width="1" height="1" fill="#000"/>
<rect x="116" y="123" width="1" height="1" fill="#000"/>
<rect x="123" y="123" width="1" height="1" fill="#000"/>
<rect x="125" y="123" width="3" height="1" fill="#000"/>
<rect x="136" y="123" width="1" height="1" fill="#000"/>
<rect x="116" y="124" width="8" height="1" fill="#000"/>
<rect x="125" y="124" width="3" height="1" fill="#000"/>
<rect x="136" y="124" width="1" height="1" fill="#000"/>
<rect x="116" y="125" width="1" height="1" fill="#000"/>
<rect x="123" y="125" width="1" height="1" fill="#000"/>
<rect x="125" y="125" width="12" height="1" fill="#000"/>
<rect x="116" y="126" width="1" height="1" fill="#000"/>
<rect x="123" y="126" width="4" height="1" fill="#000"/>
<rect x="116" y="127" width="1" height="1" fill="#000"/>
<rect x="116" y="128" width="25" height="1" fill="#000"/>
<rect x="316" y="110" width="28" height="1" fill="#000"/>
<rect x="323" y="111" width="1" height="1" fill="#000"/>
<rect x="331" y="111" width="3" height="1" fill="#000"/>
<rect x="343" y="111" width="1" height="1" fill="#000"/>
<rect x="323" y="112" width="1" height="1" fill="#000"/>
<rect x="331" y="112" width="3" height="1" fill="#000"/>
<rect x="343" y="112" width="1" height="1" fill="#000"/>
<rect x="323" y="113" width="1" height="1" fill="#000"/>
<rect x="331" y="113" width="3" height="1" fill="#000"/>
<rect x="343" y="113" width="1" height="1" fill="#000"/>
<rect x="323" y="114" width="1" height="1" fill="#000"/>
<rect x="331" y="114" width="3" height="1" fill="#000"/>
<rect x="343" y="114" width="1" height="1" fill="#000"/>
<rect x="323" y="115" width="1" height="1" fill="#000"/>
<rect x="328" y="115" width="6" height="1" fill="#000"/>
<rect x="343" y="115" width="1" height="1" fill="#000"/>
<rect x="321" y="116" width="3" height="1" fill="#000"/>
<rect x="328" y="116" width="1" height="1" fill="#000"/>
<rect x="330" y="116" width="4" height="1" fill="#000"/>
<rect x="343" y="116" width="1" height="1" fill="#000"/>
<rect x="321" y="117" width="1" height="1" fill="#000"/>
<rect x="323" y="117" width="6" height="1" fill="#000"/>
<rect x="330" y="117" width="14" height="1" fill="#000"/>
<rect x="321" y="118" width="1" height="1" fill="#000"/>
<rect x="330" y="118" width="4" height="1" fill="#000"/>
<rect x="343" y="118" width="1" height="1" fill="#000"/>
<rect x="321" y="119" width="1" height="1" fill="#000"/>
<rect x="330" y="119" width="4" height="1" fill="#000"/>
<rect x="343" y="119" width="1" height="1" fill="#000"/>
<rect x="321" y="120" width="1" height="1" fill="#000"/>
<rect x="330" y="120" width="4" height="1" fill="#000"/>
<rect x="343" y="120" width="1" height="1" fill="#000"/>
<rect x="321" y="121" width="1" height="1" fill="#000"/>
<rect x="330" y="121" width="4" height="1" fill="#000"/>
<rect x="343" y="121" width="1" height="1" fill="#000"/>
<rect x="321" y="122" width="1" height="1" fill="#000"/>
<rect x="330" y="122" width="4" height="1" fill="#000"/>
<rect x="343" y="122" width="1" height="1" fill="#000"/>
<rect x="321" y="123" width="1" height="1" fill="#000"/>
<rect x="330" y="123" width="4" height="1" fill="#000"/>
<rect x="343" y="123" width="1" height="1" fill="#000"/>
<rect x="321" y="124" width="1" height="1" fill="#000"/>
<rect x="330" y="124" width="14" height="1" fill="#000"/>
<rect x="321" y="125" width="13" height="1" fill="#000"/>
<rect x="343" y="125" width="1" height="1" fill="#000"/>
<rect x="331" y="126" width="3" height="1" fill="#000"/>
<rect x="343" y="126" width="1" height="1" fill="#000"/>
<rect x="343" y="127" width="1" height="1" fill="#000"/>
<rect x="316" y="128" width="28" height="1" fill="#000"/>
<rect x="141" y="110" width="176" height="1" fill="#000"/>
<rect x="141" y="128" width="176" height="1" fill="#000"/>
<rect x="142" y="112" width="175" height="5" fill="#000"/>
<rect x="146" y="113" width="1" height="4" fill="#fff"/>
<rect x="152" y="113" width="1" height="4" fill="#fff"/>
<rect x="158" y="113" width="1" height="4" fill="#fff"/>
<rect x="164" y="113" width="1" height="4" fill="#fff"/>
<rect x="170" y="113" width="1" height="4" fill="#fff"/>
<rect x="176" y="113" width="1" height="4" fill="#fff"/>
<rect x="182" y="113" width="1" height="4" fill="#fff"/>
<rect x="188" y="113" width="1" height="4" fill="#fff"/>
<rect x="194" y="113" width="1" height="4" fill="#fff"/>
<rect x="200" y="113" width="1" height="4" fill="#fff"/>
<rect x="206" y="113" width="1" height="4" fill="#fff"/>
<rect x="212" y="113" width="1" height="4" fill="#fff"/>
<rect x="218" y="113" width="1" height="4" fill="#fff"/>
<rect x="224" y="113" width="1" height="4" fill="#fff"/>
<rect x="230" y="113" width="1" height="4" fill="#fff"/>
<rect x="236" y="113" width="1" height="4" fill="#fff"/>
<rect x="242" y="113" width="1" height="4" fill="#fff"/>
<rect x="248" y="113" width="1" height="4" fill="#fff"/>
<rect x="254" y="113" width="1" height="4" fill="#fff"/>
<rect x="260" y="113" width="1" height="4" fill="#fff"/>
<rect x="266" y="113" width="1" height="4" fill="#fff"/>
<rect x="272" y="113" width="1" height="4" fill="#fff"/>
<rect x="278" y="113" width="1" height="4" fill="#fff"/>
<rect x="284" y="113" width="1" height="4" fill="#fff"/>
<rect x="290" y="113" width="1" height="4" fill="#fff"/>
<rect x="296" y="113" width="1" height="4" fill="#fff"/>
<rect x="302" y="113" width="1" height="4" fill="#fff"/>
<rect x="308" y="113" width="1" height="4" fill="#fff"/>
<rect x="314" y="113" width="1" height="4" fill="#fff"/>
<rect x="141" y="117" width="177" height="2" fill="#000"/>
<rect x="141" y="117" width="1" height="9" fill="#000"/>
<rect x="317" y="117" width="1" height="9" fill="#000"/>
<rect x="142" y="119" width="2" height="6" fill="#000"/>
<rect x="142" y="126" width="1" height="1" fill="#000"/>
<rect x="148" y="119" width="2" height="6" fill="#000"/>
<rect x="148" y="126" width="1" height="1" fill="#000"/>
<rect x="154" y="119" width="2" height="6" fill="#000"/>
<rect x="154" y="126" width="1" height="1" fill="#000"/>
<rect x="160" y="119" width="2" height="6" fill="#000"/>
<rect x="160" y="126" width="1" height="1" fill="#000"/>
<rect x="166" y="119" width="2" height="6" fill="#000"/>
<rect x="166" y="126" width="1" height="1" fill="#000"/>
<rect x="172" y="119" width="2" height="6" fill="#000"/>
<rect x="172" y="126" width="1" height="1" fill="#000"/>
<rect x="178" y="119" width="2" height="6" fill="#000"/>
<rect x="178" y="126" width="1" height="1" fill="#000"/>
<rect x="184" y="119" width="2" height="6" fill="#000"/>
<rect x="184" y="126" width="1" height="1" fill="#000"/>
<rect x="190" y="119" width="2" height="6" fill="#000"/>
<rect x="190" y="126" width="1" height="1" fill="#000"/>
<rect x="196" y="119" width="2" height="6" fill="#000"/>
<rect x="196" y="126" width="1" height="1" fill="#000"/>
<rect x="202" y="119" width="2" height="6" fill="#000"/>
<rect x="202" y="126" width="1" height="1" fill="#000"/>
<rect x="208" y="119" width="2" height="6" fill="#000"/>
<rect x="208" y="126" width="1" height="1" fill="#000"/>
<rect x="214" y="119" width="2" height="6" fill="#000"/>
<rect x="214" y="126" width="1" height="1" fill="#000"/>
<rect x="220" y="119" width="2" height="6" fill="#000"/>
<rect x="220" y="126" width="1" height="1" fill="#000"/>
<rect x="226" y="119" width="2" height="6" fill="#000"/>
<rect x="226" y="126" width="1" height="1" fill="#000"/>
<rect x="232" y="119" width="2" height="6" fill="#000"/>
<rect x="232" y="126" width="1" height="1" fill="#000"/>
<rect x="238" y="119" width="2" height="6" fill="#000"/>
<rect x="238" y="126" width="1" height="1" fill="#000"/>
<rect x="244" y="119" width="2" height="6" fill="#000"/>
<rect x="244" y="126" width="1" height="1" fill="#000"/>
<rect x="250" y="119" width="2" height="6" fill="#000"/>
<rect x="250" y="126" width="1" height="1" fill="#000"/>
<rect x="256" y="119" width="2" height="6" fill="#000"/>
<rect x="256" y="126" width="1" height="1" fill="#000"/>
<rect x="262" y="119" width="2" height="6" fill="#000"/>
<rect x="262" y="126" width="1" height="1" fill="#000"/>
<rect x="268" y="119" width="2" height="6" fill="#000"/>
<rect x="268" y="126" width="1" height="1" fill="#000"/>
<rect x="274" y="119" width="2" height="6" fill="#000"/>
<rect x="274" y="126" width="1" height="1" fill="#000"/>
<rect x="280" y="119" width="2" height="6" fill="#000"/>
<rect x="280" y="126" width="1" height="1" fill="#000"/>
<rect x="286" y="119" width="2" height="6" fill="#000"/>
<rect x="286" y="126" width="1" height="1" fill="#000"/>
<rect x="292" y="119" width="2" height="6" fill="#000"/>
<rect x="292" y="126" width="1" height="1" fill="#000"/>
<rect x="298" y="119" width="2" height="6" fill="#000"/>
<rect x="298" y="126" width="1" height="1" fill="#000"/>
<rect x="304" y="119" width="2" height="6" fill="#000"/>
<rect x="304" y="126" width="1" height="1" fill="#000"/>
<rect x="310" y="119" width="2" height="6" fill="#000"/>
<rect x="310" y="126" width="1" height="1" fill="#000"/>
<rect x="142" y="119" width="1" height="6" fill="#000"/>
<rect x="314" y="119" width="3" height="6" fill="#000"/>
<rect x="142" y="125" width="175" height="1" fill="#000"/>
<rect x="116" y="130" width="25" height="1" fill="#000"/>
<rect x="116" y="131" width="1" height="1" fill="#000"/>
<rect x="123" y="131" width="1" height="1" fill="#000"/>
<rect x="125" y="131" width="2" height="1" fill="#000"/>
<rect x="134" y="131" width="1" height="1" fill="#000"/>
<rect x="116" y="132" width="1" height="1" fill="#000"/>
<rect x="123" y="132" width="1" height="1" fill="#000"/>
<rect x="125" y="132" width="2" height="1" fill="#000"/>
<rect x="134" y="132" width="1" height="1" fill="#000"/>
<rect x="116" y="133" width="1" height="1" fill="#000"/>
<rect x="123" y="133" width="1" height="1" fill="#000"/>
<rect x="125" y="133" width="2" height="1" fill="#000"/>
<rect x="134" y="133" width="1" height="1" fill="#000"/>
<rect x="116" y="134" width="1" height="1" fill="#000"/>
<rect x="123" y="134" width="1" height="1" fill="#000"/>
<rect x="125" y="134" width="2" height="1" fill="#000"/>
<rect x="134" y="134" width="1" height="1" fill="#000"/>
<rect x="116" y="135" width="1" height="1" fill="#000"/>
<rect x="123" y="135" width="1" height="1" fill="#000"/>
<rect x="125" y="135" width="5" height="1" fill="#000"/>
<rect x="134" y="135" width="3" height="1" fill="#000"/>
<rect x="116" y="136" width="1" height="1" fill="#000"/>
<rect x="123" y="136" width="1" height="1" fill="#000"/>
<rect x="125" y="136" width="3" height="1" fill="#000"/>
<rect x="129" y="136" width="1" height="1" fill="#000"/>
<rect x="134" y="136" width="1" height="1" fill="#000"/>
<rect x="136" y="136" width="1" height="1" fill="#000"/>
<rect x="116" y="137" width="8" height="1" fill="#000"/>
<rect x="125" y="137" width="3" height="1" fill="#000"/>
<rect x="129" y="137" width="6" height="1" fill="#000"/>
<rect x="136" y="137" width="1" height="1" fill="#000"/>
<rect x="116" y="138" width="1" height="1" fill="#000"/>
<rect x="123" y="138" width="1" height="1" fill="#000"/>
<rect x="125" y="138" width="3" height="1" fill="#000"/>
<rect x="136" y="138" width="1" height="1" fill="#000"/>
<rect x="116" y="139" width="1" height="1" fill="#000"/>
<rect x="123" y="139" width="1" height="1" fill="#000"/>
<rect x="125" y="139" width="3" height="1" fill="#000"/>
<rect x="136" y="139" width="1" height="1" fill="#000"/>
<rect x="116" y="140" width="1" height="1" fill="#000"/>
<rect x="123" y="140" width="1" height="1" fill="#000"/>
<rect x="125" y="140" width="3" height="1" fill="#000"/>
<rect x="136" y="140" width="1" height="1" fill="#000"/>
<rect x="116" y="141" width="1" height="1" fill="#000"/>
<rect x="123" y="141" width="1" height="1" fill="#000"/>
<rect x="125" y="141" width="3" height="1" fill="#000"/>
<rect x="136" y="141" width="1" height="1" fill="#000"/>
<rect x="116" y="142" width="1" height="1" fill="#000"/>
<rect x="123" y="142" width="1" height="1" fill="#000"/>
<rect x="125" y="142" width="3" height="1" fill="#000"/>
<rect x="136" y="142" width="1" height="1" fill="#000"/>
<rect x="116" y="143" width="1" height="1" fill="#000"/>
<rect x="123" y="143" width="1" height="1" fill="#000"/>
<rect x="125" y="143" width="3" height="1" fill="#000"/>
<rect x="136" y="143" width="1" height="1" fill="#000"/>
<rect x="116" y="144" width="8" height="1" fill="#000"/>
<rect x="125" y="144" width="3" height="1" fill="#000"/>
<rect x="136" y="144" width="1" height="1" fill="#000"/>
<rect x="116" y="145" width="1" height="1" fill="#000"/>
<rect x="123" y="145" width="1" height="1" fill="#000"/>
<rect x="125" y="145" width="12" height="1" fill="#000"/>
<rect x="116" y="146" width="1" height="1" fill="#000"/>
<rect x="123" y="146" width="4" height="1" fill="#000"/>
<rect x="116" y="147" width="1" height="1" fill="#000"/>
<rect x="116" y="148" width="25" height="1" fill="#000"/>
<rect x="316" y="130" width="28" height="1" fill="#000"/>
<rect x="323" y="131" width="1" height="1" fill="#000"/>
<rect x="331" y="131" width="3" height="1" fill="#000"/>
<rect x="343" y="131" width="1" height="1" fill="#000"/>
<rect x="323" y="132" width="1" height="1" fill="#000"/>
<rect x="331" y="132" width="3" height="1" fill="#000"/>
<rect x="343" y="132" width="1" height="1" fill="#000"/>
<rect x="323" y="133" width="1" height="1" fill="#000"/>
<rect x="331" y="133" width="3" height="1" fill="#000"/>
<rect x="343" y="133" width="1" height="1" fill="#000"/>
<rect x="323" y="134" width="1" height="1" fill="#000"/>
<rect x="331" y="134" width="3" height="1" fill="#000"/>
<rect x="343" y="134" width="1" height="1" fill="#000"/>
<rect x="323" y="135" width="1" height="1" fill="#000"/>
<rect x="328" y="135" width="6" height="1" fill="#000"/>
<rect x="343" y="135" width="1" height="1" fill="#000"/>
<rect x="321" y="136" width="3" height="1" fill="#000"/>
<rect x="328" y="136" width="1" height="1" fill="#000"/>
<rect x="330" y="136" width="4" height="1" fill="#000"/>
<rect x="343" y="136" width="1" height="1" fill="#000"/>
<rect x="321" y="137" width="1" height="1" fill="#000"/>
<rect x="323" y="137" width="6" height="1" fill="#000"/>
<rect x="330" y="137" width="14" height="1" fill="#000"/>
<rect x="321" y="138" width="1" height="1" fill="#000"/>
<rect x="330" y="138" width="4" height="1" fill="#000"/>
<rect x="343" y="138" width="1" height="1" fill="#000"/>
<rect x="321" y="139" width="1" height="1" fill="#000"/>
<rect x="330" y="139" width="4" height="1" fill="#000"/>
<rect x="343" y="139" width="1" height="1" fill="#000"/>
<rect x="321" y="140" width="1" height="1" fill="#000"/>
<rect x="330" y="140" width="4" height="1" fill="#000"/>
<rect x="343" y="140" width="1" height="1" fill="#000"/>
<rect x="321" y="141" width="1" height="1" fill="#000"/>
<rect x="330" y="141" width="4" height="1" fill="#000"/>
<rect x="343" y="141" width="1" height="1" fill="#000"/>
<rect x="321" y="142" width="1" height="1" fill="#000"/>
<rect x="330" y="142" width="4" height="1" fill="#000"/>
<rect x="343" y="142" width="1" height="1" fill="#000"/>
<rect x="321" y="143" width="1" height="1" fill="#000"/>
<rect x="330" y="143" width="4" height="1" fill="#000"/>
<rect x="343" y="143" width="1" height="1" fill="#000"/>
<rect x="321" y="144" width="1" height="1" fill="#000"/>
<rect x="330" y="144" width="14" height="1" fill="#000"/>
<rect x="321" y="145" width="13" height="1" fill="#000"/>
<rect x="343" y="145" width="1" height="1" fill="#000"/>
<rect x="331" y="146" width="3" height="1" fill="#000"/>
<rect x="343" y="146" width="1" height="1" fill="#000"/>
<rect x="343" y="147" width="1" height="1" fill="#000"/>
<rect x="316" y="148" width="28" height="1" fill="#000"/>
<rect x="141" y="130" width="176" height="1" fill="#000"/>
<rect x="141" y="148" width="176" height="1" fill="#000"/>
<rect x="142" y="132" width="175" height="5" fill="#000"/>
<rect x="146" y="133" width="1" height="4" fill="#fff"/>
<rect x="152" y="133" width="1" height="4" fill="#fff"/>
<rect x="158" y="133" width="1" height="4" fill="#fff"/>
<rect x="164" y="133" width="1" height="4" fill="#fff"/>
<rect x="170" y="133" width="1" height="4" fill="#fff"/>
<rect x="176" y="133" width="1" height="4" fill="#fff"/>
<rect x="182" y="133" width="1" height="4" fill="#fff"/>
<rect x="188" y="133" width="1" height="4" fill="#fff"/>
<rect x="194" y="133" width="1" height="4" fill="#fff"/>
<rect x="200" y="133" width="1" height="4" fill="#fff"/>
<rect x="206" y="133" width="1" height="4" fill="#fff"/>
<rect x="212" y="133" width="1" height="4" fill="#fff"/>
<rect x="218" y="133" width="1" height="4" fill="#fff"/>
<rect x="224" y="133" width="1" height="4" fill="#fff"/>
<rect x="230" y="133" width="1" height="4" fill="#fff"/>
<rect x="236" y="133" width="1" height="4" fill="#fff"/>
<rect x="242" y="133" width="1" height="4" fill="#fff"/>
<rect x="248" y="133" width="1" height="4" fill="#fff"/>
<rect x="254" y="133" width="1" height="4" fill="#fff"/>
<rect x="260" y="133" width="1" height="4" fill="#fff"/>
<rect x="266" y="133" width="1" height="4" fill="#fff"/>
<rect x="272" y="133" width="1" height="4" fill="#fff"/>
<rect x="278" y="133" width="1" height="4" fill="#fff"/>
<rect x="284" y="133" width="1" height="4" fill="#fff"/>
<rect x="290" y="133" width="1" height="4" fill="#fff"/>
<rect x="296" y="133" width="1" height="4" fill="#fff"/>
<rect x="302" y="133" width="1" height="4" fill="#fff"/>
<rect x="308" y="133" width="1" height="4" fill="#fff"/>
<rect x="314" y="133" width="1" height="4" fill="#fff"/>
<rect x="141" y="137" width="177" height="2" fill="#000"/>
<rect x="141" y="137" width="1" height="9" fill="#000"/>
<rect x="317" y="137" width="1" height="9" fill="#000"/>
<rect x="142" y="139" width="2" height="6" fill="#000"/>
<rect x="142" y="146" width="1" height="1" fill="#000"/>
<rect x="148" y="139" width="2" height="6" fill="#000"/>
<rect x="148" y="146" width="1" height="1" fill="#000"/>
<rect x="154" y="139" width="2" height="6" fill="#000"/>
<rect x="154" y="146" width="1" height="1" fill="#000"/>
<rect x="160" y="139" width="2" height="6" fill="#000"/>
<rect x="160" y="146" width="1" height="1" fill="#000"/>
<rect x="166" y="139" width="2" height="6" fill="#000"/>
<rect x="166" y="146" width="1" height="1" fill="#000"/>
<rect x="172" y="139" width="2" height="6" fill="#000"/>
<rect x="172" y="146" width="1" height="1" fill="#000"/>
<rect x="178" y="139" width="2" height="6" fill="#000"/>
<rect x="178" y="146" width="1" height="1" fill="#000"/>
<rect x="184" y="139" width="2" height="6" fill="#000"/>
<rect x="184" y="146" width="1" height="1" fill="#000"/>
<rect x="190" y="139" width="2" height="6" fill="#000"/>
<rect x="190" y="146" width="1" height="1" fill="#000"/>
<rect x="196" y="139" width="2" height="6" fill="#000"/>
<rect x="196" y="146" width="1" height="1" fill="#000"/>
<rect x="202" y="139" width="2" height="6" fill="#000"/>
<rect x="202" y="146" width="1" height="1" fill="#000"/>
<rect x="208" y="139" width="2" height="6" fill="#000"/>
<rect x="208" y="146" width="1" height="1" fill="#000"/>
<rect x="214" y="139" width="2" height="6" fill="#000"/>
<rect x="214" y="146" width="1" height="1" fill="#000"/>
<rect x="220" y="139" width="2" height="6" fill="#000"/>
<rect x="220" y="146" width="1" height="1" fill="#000"/>
<rect x="226" y="139" width="2" height="6" fill="#000"/>
<rect x="226" y="146" width="1" height="1" fill="#000"/>
<rect x="232" y="139" width="2" height="6" fill="#000"/>
<rect x="232" y="146" width="1" height="1" fill="#000"/>
<rect x="238" y="139" width="2" height="6" fill="#000"/>
<rect x="238" y="146" width="1" height="1" fill="#000"/>
<rect x="244" y="139" width="2" height="6" fill="#000"/>
<rect x="244" y="146" width="1" height="1" fill="#000"/>
<rect x="250" y="139" width="2" height="6" fill="#000"/>
<rect x="250" y="146" width="1" height="1" fill="#000"/>
<rect x="256" y="139" width="2" height="6" fill="#000"/>
<rect x="256" y="146" width="1" height="1" fill="#000"/>
<rect x="262" y="139" width="2" height="6" fill="#000"/>
<rect x="262" y="146" width="1" height="1" fill="#000"/>
<rect x="268" y="139" width="2" height="6" fill="#000"/>
<rect x="268" y="146" width="1" height="1" fill="#000"/>
<rect x="274" y="139" width="2" height="6" fill="#000"/>
<rect x="274" y="146" width="1" height="1" fill="#000"/>
<rect x="280" y="139" width="2" height="6" fill="#000"/>
<rect x="280" y="146" width="1" height="1" fill="#000"/>
<rect x="286" y="139" width="2" height="6" fill="#000"/>
<rect x="286" y="146" width="1" height="1" fill="#000"/>
<rect x="292" y="139" width="2" height="6" fill="#000"/>
<rect x="292" y="146" width="1" height="1" fill="#000"/>
<rect x="298" y="139" width="2" height="6" fill="#000"/>
<rect x="298" y="146" width="1" height="1" fill="#000"/>
<rect x="304" y="139" width="2" height="6" fill="#000"/>
<rect x="304" y="146" width="1" height="1" fill="#000"/>
<rect x="310" y="139" width="2" height="6" fill="#000"/>
<rect x="310" y="146" width="1" height="1" fill="#000"/>
<rect x="142" y="139" width="1" height="6" fill="#000"/>
<rect x="314" y="139" width="3" height="6" fill="#000"/>
<rect x="142" y="145" width="175" height="1" fill="#000"/>
<rect x="116" y="150" width="25" height="1" fill="#000"/>
<rect x="116" y="151" width="1" height="1" fill="#000"/>
<rect x="123" y="151" width="1" height="1" fill="#000"/>
<rect x="125" y="151" width="2" height="1" fill="#000"/>
<rect x="134" y="151" width="1" height="1" fill="#000"/>
<rect x="116" y="152" width="1" height="1" fill="#000"/>
<rect x="123" y="152" width="1" height="1" fill="#000"/>
<rect x="125" y="152" width="2" height="1" fill="#000"/>
<rect x="134" y="152" width="1" height="1" fill="#000"/>
<rect x="116" y="153" width="1" height="1" fill="#000"/>
<rect x="123" y="153" width="1" height="1" fill="#000"/>
<rect x="125" y="153" width="2" height="1" fill="#000"/>
<rect x="134" y="153" width="1" height="1" fill="#000"/>
<rect x="116" y="154" width="1" height="1" fill="#000"/>
<rect x="123" y="154" width="1" height="1" fill="#000"/>
<rect x="125" y="154" width="2" height="1" fill="#000"/>
<rect x="134" y="154" width="1" height="1" fill="#000"/>
<rect x="116" y="155" width="1" height="1" fill="#000"/>
<rect x="123" y="155" width="1" height="1" fill="#000"/>
<rect x="125" y="155" width="5" height="1" fill="#000"/>
<rect x="134" y="155" width="3" height="1" fill="#000"/>
<rect x="116" y="156" width="1" height="1" fill="#000"/>
<rect x="123" y="156" width="1" height="1" fill="#000"/>
<rect x="125" y="156" width="3" height="1" fill="#000"/>
<rect x="129" y="156" width="1" height="1" fill="#000"/>
<rect x="134" y="156" width="1" height="1" fill="#000"/>
<rect x="136" y="156" width="1" height="1" fill="#000"/>
<rect x="116" y="157" width="8" height="1" fill="#000"/>
<rect x="125" y="157" width="3" height="1" fill="#000"/>
<rect x="129" y="157" width="6" height="1" fill="#000"/>
<rect x="136" y="157" width="1" height="1" fill="#000"/>
<rect x="116" y="158" width="1" height="1" fill="#000"/>
<rect x="123" y="158" width="1" height="1" fill="#000"/>
<rect x="125" y="158" width="3" height="1" fill="#000"/>
<rect x="136" y="158" width="1" height="1" fill="#000"/>
<rect x="116" y="159" width="1" height="1" fill="#000"/>
<rect x="123" y="159" width="1" height="1" fill="#000"/>
<rect x="125" y="159" width="3" height="1" fill="#000"/>
<rect x="136" y="159" width="1" height="1" fill="#000"/>
<rect x="116" y="160" width="1" height="1" fill="#000"/>
<rect x="123" y="160" width="1" height="1" fill="#000"/>
<rect x="125" y="160" width="3" height="1" fill="#000"/>
<rect x="136" y="160" width="1" height="1" fill="#000"/>
<rect x="116" y="161" width="1" height="1" fill="#000"/>
<rect x="123" y="161" width="1" height="1" fill="#000"/>
<rect x="125" y="161" width="3" height="1" fill="#000"/>
<rect x="136" y="161" width="1" height="1" fill="#000"/>
<rect x="116" y="162" width="1" height="1" fill="#000"/>
<rect x="123" y="162" width="1" height="1" fill="#000"/>
<rect x="125" y="162" width="3" height="1" fill="#000"/>
<rect x="136" y="162" width="1" height="1" fill="#000"/>
<rect x="116" y="163" width="1" height="1" fill="#000"/>
<rect x="123" y="163" width="1" height="1" fill="#000"/>
<rect x="125" y="163" width="3" height="1" fill="#000"/>
<rect x="136" y="163" width="1" height="1" fill="#000"/>
<rect x="116" y="164" width="8" height="1" fill="#000"/>
<rect x="125" y="164" width="3" height="1" fill="#000"/>
<rect x="136" y="164" width="1" height="1" fill="#000"/>
<rect x="116" y="165" width="1" height="1" fill="#000"/>
<rect x="123" y="165" width="1" height="1" fill="#000"/>
<rect x="125" y="165" width="12" height="1" fill="#000"/>
<rect x="116" y="166" width="1" height="1" fill="#000"/>
<rect x="123" y="166" width="4" height="1" fill="#000"/>
<rect x="116" y="167" width="1" height="1" fill="#000"/>
<rect x="116" y="168" width="25" height="1" fill="#000"/>
<rect x="316" y="150" width="28" height="1" fill="#000"/>
<rect x="323" y="151" width="1" height="1" fill="#000"/>
<rect x="331" y="151" width="3" height="1" fill="#000"/>
<rect x="343" y="151" width="1" height="1" fill="#000"/>
<rect x="323" y="152" width="1" height="1" fill="#000"/>
<rect x="331" y="152" width="3" height="1" fill="#000"/>
<rect x="343" y="152" width="1" height="1" fill="#000"/>
<rect x="323" y="153" width="1" height="1" fill="#000"/>
<rect x="331" y="153" width="3" height="1" fill="#000"/>
<rect x="343" y="153" width="1" height="1" fill="#000"/>
<rect x="323" y="154" width="1" height="1" fill="#000"/>
<rect x="331" y="154" width="3" height="1" fill="#000"/>
<rect x="343" y="154" width="1" height="1" fill="#000"/>
<rect x="323" y="155" width="1" height="1" fill="#000"/>
<rect x="328" y="155" width="6" height="1" fill="#000"/>
<rect x="343" y="155" width="1" height="1" fill="#000"/>
<rect x="321" y="156" width="3" height="1" fill="#000"/>
<rect x="328" y="156" width="1" height="1" fill="#000"/>
<rect x="330" y="156" width="4" height="1" fill="#000"/>
<rect x="343" y="156" width="1" height="1" fill="#000"/>
<rect x="321" y="157" width="1" height="1" fill="#000"/>
<rect x="323" y="157" width="6" height="1" fill="#000"/>
<rect x="330" y="157" width="14" height="1" fill="#000"/>
<rect x="321" y="158" width="1" height="1" fill="#000"/>
<rect x="330" y="158" width="4" height="1" fill="#000"/>
<rect x="343" y="158" width="1" height="1" fill="#000"/>
<rect x="321" y="159" width="1" height="1" fill="#000"/>
<rect x="330" y="159" width="4" height="1" fill="#000"/>
<rect x="343" y="159" width="1" height="1" fill="#000"/>
<rect x="321" y="160" width="1" height="1" fill="#000"/>
<rect x="330" y="160" width="4" height="1" fill="#000"/>
<rect x="343" y="160" width="1" height="1" fill="#000"/>
<rect x="321" y="161" width="1" height="1" fill="#000"/>
<rect x="330" y="161" width="4" height="1" fill="#000"/>
<rect x="343" y="161" width="1" height="1" fill="#000"/>
<rect x="321" y="162" width="1" height="1" fill="#000"/>
<rect x="330" y="162" width="4" height="1" fill="#000"/>
<rect x="343" y="162" width="1" height="1" fill="#000"/>
<rect x="321" y="163" width="1" height="1" fill="#000"/>
<rect x="330" y="163" width="4" height="1" fill="#000"/>
<rect x="343" y="163" width="1" height="1" fill="#000"/>
<rect x="321" y="164" width="1" height="1" fill="#000"/>
<rect x="330" y="164" width="14" height="1" fill="#000"/>
<rect x="321" y="165" width="13" height="1" fill="#000"/>
<rect x="343" y="165" width="1" height="1" fill="#000"/>
<rect x="331" y="166" width="3" height="1" fill="#000"/>
<rect x="343" y="166" width="1" height="1" fill="#000"/>
<rect x="343" y="167" width="1" height="1" fill="#000"/>
<rect x="316" y="168" width="28" height="1" fill="#000"/>
<rect x="141" y="150" width="176" height="1" fill="#000"/>
<rect x="141" y="168" width="176" height="1" fill="#000"/>
<rect x="142" y="152" width="175" height="5" fill="#000"/>
<rect x="146" y="153" width="1" height="4" fill="#fff"/>
<rect x="152" y="153" width="1" height="4" fill="#fff"/>
<rect x="158" y="153" width="1" height="4" fill="#fff"/>
<rect x="164" y="153" width="1" height="4" fill="#fff"/>
<rect x="170" y="153" width="1" height="4" fill="#fff"/>
<rect x="176" y="153" width="1" height="4" fill="#fff"/>
<rect x="182" y="153" width="1" height="4" fill="#fff"/>
<rect x="188" y="153" width="1" height="4" fill="#fff"/>
<rect x="194" y="153" width="1" height="4" fill="#fff"/>
<rect x="200" y="153" width="1" height="4" fill="#fff"/>
<rect x="206" y="153" width="1" height="4" fill="#fff"/>
<rect x="212" y="153" width="1" height="4" fill="#fff"/>
<rect x="218" y="153" width="1" height="4" fill="#fff"/>
<rect x="224" y="153" width="1" height="4" fill="#fff"/>
<rect x="230" y="153" width="1" height="4" fill="#fff"/>
<rect x="236" y="153" width="1" height="4" fill="#fff"/>
<rect x="242" y="153" width="1" height="4" fill="#fff"/>
<rect x="248" y="153" width="1" height="4" fill="#fff"/>
<rect x="254" y="153" width="1" height="4" fill="#fff"/>
<rect x="260" y="153" width="1" height="4" fill="#fff"/>
<rect x="266" y="153" width="1" height="4" fill="#fff"/>
<rect x="272" y="153" width="1" height="4" fill="#fff"/>
<rect x="278" y="153" width="1" height="4" fill="#fff"/>
<rect x="284" y="153" width="1" height="4" fill="#fff"/>
<rect x="290" y="153" width="1" height="4" fill="#fff"/>
<rect x="296" y="153" width="1" height="4" fill="#fff"/>
<rect x="302" y="153" width="1" height="4" fill="#fff"/>
<rect x="308" y="153" width="1" height="4" fill="#fff"/>
<rect x="314" y="153" width="1" height="4" fill="#fff"/>
<rect x="141" y="157" width="177" height="2" fill="#000"/>
<rect x="141" y="157" width="1" height="9" fill="#000"/>
<rect x="317" y="157" width="1" height="9" fill="#000"/>
<rect x="142" y="159" width="2" height="6" fill="#000"/>
<rect x="142" y="166" width="1" height="1" fill="#000"/>
<rect x="148" y="159" width="2" height="6" fill="#000"/>
<rect x="148" y="166" width="1" height="1" fill="#000"/>
<rect x="154" y="159" width="2" height="6" fill="#000"/>
<rect x="154" y="166" width="1" height="1" fill="#000"/>
<rect x="160" y="159" width="2" height="6" fill="#000"/>
<rect x="160" y="166" width="1" height="1" fill="#000"/>
<rect x="166" y="159" width="2" height="6" fill="#000"/>
<rect x="166" y="166" width="1" height="1" fill="#000"/>
<rect x="172" y="159" width="2" height="6" fill="#000"/>
<rect x="172" y="166" width="1" height="1" fill="#000"/>
<rect x="178" y="159" width="2" height="6" fill="#000"/>
<rect x="178" y="166" width="1" height="1" fill="#000"/>
<rect x="184" y="159" width="2" height="6" fill="#000"/>
<rect x="184" y="166" width="1" height="1" fill="#000"/>
<rect x="190" y="159" width="2" height="6" fill="#000"/>
<rect x="190" y="166" width="1" height="1" fill="#000"/>
<rect x="196" y="159" width="2" height="6" fill="#000"/>
<rect x="196" y="166" width="1" height="1" fill="#000"/>
<rect x="202" y="159" width="2" height="6" fill="#000"/>
<rect x="202" y="166" width="1" height="1" fill="#000"/>
<rect x="208" y="159" width="2" height="6" fill="#000"/>
<rect x="208" y="166" width="1" height="1" fill="#000"/>
<rect x="214" y="159" width="2" height="6" fill="#000"/>
<rect x="214" y="166" width="1" height="1" fill="#000"/>
<rect x="220" y="159" width="2" height="6" fill="#000"/>
<rect x="220" y="166" width="1" height="1" fill="#000"/>
<rect x="226" y="159" width="2" height="6" fill="#000"/>
<rect x="226" y="166" width="1" height="1" fill="#000"/>
<rect x="232" y="159" width="2" height="6" fill="#000"/>
<rect x="232" y="166" width="1" height="1" fill="#000"/>
<rect x="238" y="159" width="2" height="6" fill="#000"/>
<rect x="238" y="166" width="1" height="1" fill="#000"/>
<rect x="244" y="159" width="2" height="6" fill="#000"/>
<rect x="244" y="166" width="1" height="1" fill="#000"/>
<rect x="250" y="159" width="2" height="6" fill="#000"/>
<rect x="250" y="166" width="1" height="1" fill="#000"/>
<rect x="256" y="159" width="2" height="6" fill="#000"/>
<rect x="256" y="166" width="1" height="1" fill="#000"/>
<rect x="262" y="159" width="2" height="6" fill="#000"/>
<rect x="262" y="166" width="1" height="1" fill="#000"/>
<rect x="268" y="159" width="2" height="6" fill="#000"/>
<rect x="268" y="166" width="1" height="1" fill="#000"/>
<rect x="274" y="159" width="2" height="6" fill="#000"/>
<rect x="274" y="166" width="1" height="1" fill="#000"/>
<rect x="280" y="159" width="2" height="6" fill="#000"/>
<rect x="280" y="166" width="1" height="1" fill="#000"/>
<rect x="286" y="159" width="2" height="6" fill="#000"/>
<rect x="286" y="166" width="1" height="1" fill="#000"/>
<rect x="292" y="159" width="2" height="6" fill="#000"/>
<rect x="292" y="166" width="1" height="1" fill="#000"/>
<rect x="298" y="159" width="2" height="6" fill="#000"/>
<rect x="298" y="166" width="1" height="1" fill="#000"/>
<rect x="304" y="159" width="2" height="6" fill="#000"/>
<rect x="304" y="166" width="1" height="1" fill="#000"/>
<rect x="310" y="159" width="2" height="6" fill="#000"/>
<rect x="310" y="166" width="1" height="1" fill="#000"/>
<rect x="142" y="159" width="1" height="6" fill="#000"/>
<rect x="314" y="159" width="3" height="6" fill="#000"/>
<rect x="142" y="165" width="175" height="1" fill="#000"/>
<rect x="116" y="170" width="25" height="1" fill="#000"/>
<rect x="116" y="171" width="1" height="1" fill="#000"/>
<rect x="123" y="171" width="1" height="1" fill="#000"/>
<rect x="125" y="171" width="2" height="1" fill="#000"/>
<rect x="134" y="171" width="1" height="1" fill="#000"/>
<rect x="116" y="172" width="1" height="1" fill="#000"/>
<rect x="123" y="172" width="1" height="1" fill="#000"/>
<rect x="125" y="172" width="2" height="1" fill="#000"/>
<rect x="134" y="172" width="1" height="1" fill="#000"/>
<rect x="116" y="173" width="1" height="1" fill="#000"/>
<rect x="123" y="173" width="1" height="1" fill="#000"/>
<rect x="125" y="173" width="2" height="1" fill="#000"/>
<rect x="134" y="173" width="1" height="1" fill="#000"/>
<rect x="116" y="174" width="1" height="1" fill="#000"/>
<rect x="123" y="174" width="1" height="1" fill="#000"/>
<rect x="125" y="174" width="2" height="1" fill="#000"/>
<rect x="134" y="174" width="1" height="1" fill="#000"/>
<rect x="116" y="175" width="1" height="1" fill="#000"/>
<rect x="123" y="175" width="1" height="1" fill="#000"/>
<rect x="125" y="175" width="5" height="1" fill="#000"/>
<rect x="134" y="175" width="3" height="1" fill="#000"/>
<rect x="116" y="176" width="1" height="1" fill="#000"/>
<rect x="123" y="176" width="1" height="1" fill="#000"/>
<rect x="125" y="176" width="3" height="1" fill="#000"/>
<rect x="129" y="176" width="1" height="1" fill="#000"/>
<rect x="134" y="176" width="1" height="1" fill="#000"/>
<rect x="136" y="176" width="1" height="1" fill="#000"/>
<rect x="116" y="177" width="8" height="1" fill="#000"/>
<rect x="125" y="177" width="3" height="1" fill="#000"/>
<rect x="129" y="177" width="6" height="1" fill="#000"/>
<rect x="136" y="177" width="1" height="1" fill="#000"/>
<rect x="116" y="178" width="1" height="1" fill="#000"/>
<rect x="123" y="178" width="1" height="1" fill="#000"/>
<rect x="125" y="178" width="3" height="1" fill="#000"/>
<rect x="136" y="178" width="1" height="1" fill="#000"/>
<rect x="116" y="179" width="1" height="1" fill="#000"/>
<rect x="123" y="179" width="1" height="1" fill="#000"/>
<rect x="125" y="179" width="3" height="1" fill="#000"/>
<rect x="136" y="179" width="1" height="1" fill="#000"/>
<rect x="116" y="180" width="1" height="1" fill="#000"/>
<rect x="123" y="180" width="1" height="1" fill="#000"/>
<rect x="125" y="180" width="3" height="1" fill="#000"/>
<rect x="136" y="180" width="1" height="1" fill="#000"/>
<rect x="116" y="181" width="1" height="1" fill="#000"/>
<rect x="123" y="181" width="1" height="1" fill="#000"/>
<rect x="125" y="181" width="3" height="1" fill="#000"/>
<rect x="136" y="181" width="1" height="1" fill="#000"/>
<rect x="116" y="182" width="1" height="1" fill="#000"/>
<rect x="123" y="182" width="1" height="1" fill="#000"/>
<rect x="125" y="182" width="3" height="1" fill="#000"/>
<rect x="136" y="182" width="1" height="1" fill="#000"/>
<rect x="116" y="183" width="1" height="1" fill="#000"/>
<rect x="123" y="183" width="1" height="1" fill="#000"/>
<rect x="125" y="183" width="3" height="1" fill="#000"/>
<rect x="136" y="183" width="1" height="1" fill="#000"/>
<rect x="116" y="184" width="8" height="1" fill="#000"/>
<rect x="125" y="184" width="3" height="1" fill="#000"/>
<rect x="136" y="184" width="1" height="1" fill="#000"/>
<rect x="116" y="185" width="1" height="1" fill="#000"/>
<rect x="123" y="185" width="1" height="1" fill="#000"/>
<rect x="125" y="185" width="12" height="1" fill="#000"/>
<rect x="116" y="186" width="1" height="1" fill="#000"/>
<rect x="123" y="186" width="4" height="1" fill="#000"/>
<rect x="116" y="187" width="1" height="1" fill="#000"/>
<rect x="116" y="188" width="25" height="1" fill="#000"/>
<rect x="316" y="170" width="28" height="1" fill="#000"/>
<rect x="323" y="171" width="1" height="1" fill="#000"/>
<rect x="331" y="171" width="3" height="1" fill="#000"/>
<rect x="343" y="171" width="1" height="1" fill="#000"/>
<rect x="323" y="172" width="1" height="1" fill="#000"/>
<rect x="331" y="172" width="3" height="1" fill="#000"/>
<rect x="343" y="172" width="1" height="1" fill="#000"/>
<rect x="323" y="173" width="1" height="1" fill="#000"/>
<rect x="331" y="173" width="3" height="1" fill="#000"/>
<rect x="343" y="173" width="1" height="1" fill="#000"/>
<rect x="323" y="174" width="1" height="1" fill="#000"/>
<rect x="331" y="174" width="3" height="1" fill="#000"/>
<rect x="343" y="174" width="1" height="1" fill="#000"/>
<rect x="323" y="175" width="1" height="1" fill="#000"/>
<rect x="328" y="175" width="6" height="1" fill="#000"/>
<rect x="343" y="175" width="1" height="1" fill="#000"/>
<rect x="321" y="176" width="3" height="1" fill="#000"/>
<rect x="328" y="176" width="1" height="1" fill="#000"/>
<rect x="330" y="176" width="4" height="1" fill="#000"/>
<rect x="343" y="176" width="1" height="1" fill="#000"/>
<rect x="321" y="177" width="1" height="1" fill="#000"/>
<rect x="323" y="177" width="6" height="1" fill="#000"/>
<rect x="330" y="177" width="14" height="1" fill="#000"/>
<rect x="321" y="178" width="1" height="1" fill="#000"/>
<rect x="330" y="178" width="4" height="1" fill="#000"/>
<rect x="343" y="178" width="1" height="1" fill="#000"/>
<rect x="321" y="179" width="1" height="1" fill="#000"/>
<rect x="330" y="179" width="4" height="1" fill="#000"/>
<rect x="343" y="179" width="1" height="1" fill="#000"/>
<rect x="321" y="180" width="1" height="1" fill="#000"/>
<rect x="330" y="180" width="4" height="1" fill="#000"/>
<rect x="343" y="180" width="1" height="1" fill="#000"/>
<rect x="321" y="181" width="1" height="1" fill="#000"/>
<rect x="330" y="181" width="4" height="1" fill="#000"/>
<rect x="343" y="181" width="1" height="1" fill="#000"/>
<rect x="321" y="182" width="1" height="1" fill="#000"/>
<rect x="330" y="182" width="4" height="1" fill="#000"/>
<rect x="343" y="182" width="1" height="1" fill="#000"/>
<rect x="321" y="183" width="1" height="1" fill="#000"/>
<rect x="330" y="183" width="4" height="1" fill="#000"/>
<rect x="343" y="183" width="1" height="1" fill="#000"/>
<rect x="321" y="184" width="1" height="1" fill="#000"/>
<rect x="330" y="184" width="14" height="1" fill="#000"/>
<rect x="321" y="185" width="13" height="1" fill="#000"/>
<rect x="343" y="185" width="1" height="1" fill="#000"/>
<rect x="331" y="186" width="3" height="1" fill="#000"/>
<rect x="343" y="186" width="1" height="1" fill="#000"/>
<rect x="343" y="187" width="1" height="1" fill="#000"/>
<rect x="316" y="188" width="28" height="1" fill="#000"/>
<rect x="141" y="170" width="176" height="1" fill="#000"/>
<rect x="141" y="188" width="176" height="1" fill="#000"/>
<rect x="142" y="172" width="175" height="5" fill="#000"/>
<rect x="146" y="173" width="1" height="4" fill="#fff"/>
<rect x="152" y="173" width="1" height="4" fill="#fff"/>
<rect x="158" y="173" width="1" height="4" fill="#fff"/>
<rect x="164" y="173" width="1" height="4" fill="#fff"/>
<rect x="170" y="173" width="1" height="4" fill="#fff"/>
<rect x="176" y="173" width="1" height="4" fill="#fff"/>
<rect x="182" y="173" width="1" height="4" fill="#fff"/>
<rect x="188" y="173" width="1" height="4" fill="#fff"/>
<rect x="194" y="173" width="1" height="4" fill="#fff"/>
<rect x="200" y="173" width="1" height="4" fill="#fff"/>
<rect x="206" y="173" width="1" height="4" fill="#fff"/>
<rect x="212" y="173" width="1" height="4" fill="#fff"/>
<rect x="218" y="173" width="1" height="4" fill="#fff"/>
<rect x="224" y="173" width="1" height="4" fill="#fff"/>
<rect x="230" y="173" width="1" height="4" fill="#fff"/>
<rect x="236" y="173" width="1" height="4" fill="#fff"/>
<rect x="242" y="173" width="1" height="4" fill="#fff"/>
<rect x="248" y="173" width="1" height="4" fill="#fff"/>
<rect x="254" y="173" width="1" height="4" fill="#fff"/>
<rect x="260" y="173" width="1" height="4" fill="#fff"/>
<rect x="266" y="173" width="1" height="4" fill="#fff"/>
<rect x="272" y="173" width="1" height="4" fill="#fff"/>
<rect x="278" y="173" width="1" height="4" fill="#fff"/>
<rect x="284" y="173" width="1" height="4" fill="#fff"/>
<rect x="290" y="173" width="1" height="4" fill="#fff"/>
<rect x="296" y="173" width="1" height="4" fill="#fff"/>
<rect x="302" y="173" width="1" height="4" fill="#fff"/>
<rect x="308" y="173" width="1" height="4" fill="#fff"/>
<rect x="314" y="173" width="1" height="4" fill="#fff"/>
<rect x="141" y="177" width="177" height="2" fill="#000"/>
<rect x="141" y="177" width="1" height="9" fill="#000"/>
<rect x="317" y="177" width="1" height="9" fill="#000"/>
<rect x="142" y="179" width="2" height="6" fill="#000"/>
<rect x="142" y="186" width="1" height="1" fill="#000"/>
<rect x="148" y="179" width="2" height="6" fill="#000"/>
<rect x="148" y="186" width="1" height="1" fill="#000"/>
<rect x="154" y="179" width="2" height="6" fill="#000"/>
<rect x="154" y="186" width="1" height="1" fill="#000"/>
<rect x="160" y="179" width="2" height="6" fill="#000"/>
<rect x="160" y="186" width="1" height="1" fill="#000"/>
<rect x="166" y="179" width="2" height="6" fill="#000"/>
<rect x="166" y="186" width="1" height="1" fill="#000"/>
<rect x="172" y="179" width="2" height="6" fill="#000"/>
<rect x="172" y="186" width="1" height="1" fill="#000"/>
<rect x="178" y="179" width="2" height="6" fill="#000"/>
<rect x="178" y="186" width="1" height="1" fill="#000"/>
<rect x="184" y="179" width="2" height="6" fill="#000"/>
<rect x="184" y="186" width="1" height="1" fill="#000"/>
<rect x="190" y="179" width="2" height="6" fill="#000"/>
<rect x="190" y="186" width="1" height="1" fill="#000"/>
<rect x="196" y="179" width="2" height="6" fill="#000"/>
<rect x="196" y="186" width="1" height="1" fill="#000"/>
<rect x="202" y="179" width="2" height="6" fill="#000"/>
<rect x="202" y="186" width="1" height="1" fill="#000"/>
<rect x="208" y="179" width="2" height="6" fill="#000"/>
<rect x="208" y="186" width="1" height="1" fill="#000"/>
<rect x="214" y="179" width="2" height="6" fill="#000"/>
<rect x="214" y="186" width="1" height="1" fill="#000"/>
<rect x="220" y="179" width="2" height="6" fill="#000"/>
<rect x="220" y="186" width="1" height="1" fill="#000"/>
<rect x="226" y="179" width="2" height="6" fill="#000"/>
<rect x="226" y="186" width="1" height="1" fill="#000"/>
<rect x="232" y="179" width="2" height="6" fill="#000"/>
<rect x="232" y="186" width="1" height="1" fill="#000"/>
<rect x="238" y="179" width="2" height="6" fill="#000"/>
<rect x="238" y="186" width="1" height="1" fill="#000"/>
<rect x="244" y="179" width="2" height="6" fill="#000"/>
<rect x="244" y="186" width="1" height="1" fill="#000"/>
<rect x="250" y="179" width="2" height="6" fill="#000"/>
<rect x="250" y="186" width="1" height="1" fill="#000"/>
<rect x="256" y="179" width="2" height="6" fill="#000"/>
<rect x="256" y="186" width="1" height="1" fill="#000"/>
<rect x="262" y="179" width="2" height="6" fill="#000"/>
<rect x="262" y="186" width="1" height="1" fill="#000"/>
<rect x="268" y="179" width="2" height="6" fill="#000"/>
<rect x="268" y="186" width="1" height="1" fill="#000"/>
<rect x="274" y="179" width="2" height="6" fill="#000"/>
<rect x="274" y="186" width="1" height="1" fill="#000"/>
<rect x="280" y="179" width="2" height="6" fill="#000"/>
<rect x="280" y="186" width="1" height="1" fill="#000"/>
<rect x="286" y="179" width="2" height="6" fill="#000"/>
<rect x="286" y="186" width="1" height="1" fill="#000"/>
<rect x="292" y="179" width="2" height="6" fill="#000"/>
<rect x="292" y="186" width="1" height="1" fill="#000"/>
<rect x="298" y="179" width="2" height="6" fill="#000"/>
<rect x="298" y="186" width="1" height="1" fill="#000"/>
<rect x="304" y="179" width="2" height="6" fill="#000"/>
<rect x="304" y="186" width="1" height="1" fill="#000"/>
<rect x="310" y="179" width="2" height="6" fill="#000"/>
<rect x="310" y="186" width="1" height="1" fill="#000"/>
<rect x="142" y="179" width="1" height="6" fill="#000"/>
<rect x="314" y="179" width="3" height="6" fill="#000"/>
<rect x="142" y="185" width="175" height="1" fill="#000"/>
<rect x="198" y="59" width="63" height="20" fill="#fff"/>
<rect x="200" y="60" width="59" height="18" fill="#000"/>
<rect x="199" y="61" width="61" height="16" fill="#000"/>
<rect x="201" y="62" width="57" height="14" fill="#fff"/>
<rect x="198" y="139" width="63" height="20" fill="#fff"/>
<rect x="200" y="140" width="59" height="18" fill="#000"/>
<rect x="199" y="141" width="61" height="16" fill="#000"/>
<rect x="201" y="142" width="57" height="14" fill="#fff"/>
<rect x="206" y="65" width="1" height="10" fill="#000"/>
<rect x="206" y="65" width="4" height="1" fill="#000"/>
<rect x="210" y="66" width="1" height="4" fill="#000"/>
<rect x="206" y="70" width="4" height="1" fill="#000"/>
<rect x="210" y="71" width="1" height="3" fill="#000"/>
<rect x="206" y="74" width="4" height="1" fill="#000"/>
<rect x="216" y="66" width="1" height="1" fill="#000"/>
<rect x="215" y="67" width="1" height="3" fill="#000"/>
<rect x="217" y="67" width="1" height="3" fill="#000"/>
<rect x="214" y="70" width="1" height="4" fill="#000"/>
<rect x="218" y="70" width="1" height="4" fill="#000"/>
<rect x="214" y="71" width="5" height="1" fill="#000"/>
<rect x="213" y="74" width="1" height="1" fill="#000"/>
<rect x="219" y="74" width="1" height="1" fill="#000"/>
<rect x="223" y="65" width="1" height="10" fill="#000"/>
<rect x="228" y="65" width="1" height="10" fill="#000"/>
<rect x="224" y="66" width="1" height="2" fill="#000"/>
<rect x="225" y="68" width="1" height="2" fill="#000"/>
<rect x="226" y="70" width="1" height="2" fill="#000"/>
<rect x="227" y="72" width="1" height="2" fill="#000"/>
<rect x="233" y="65" width="1" height="10" fill="#000"/>
<rect x="237" y="65" width="2" height="1" fill="#000"/>
<rect x="236" y="66" width="1" height="1" fill="#000"/>
<rect x="235" y="67" width="1" height="1" fill="#000"/>
<rect x="234" y="68" width="1" height="2" fill="#000"/>
<rect x="235" y="70" width="1" height="1" fill="#000"/>
<rect x="236" y="71" width="1" height="1" fill="#000"/>
<rect x="237" y="72" width="1" height="2" fill="#000"/>
<rect x="238" y="74" width="1" height="1" fill="#000"/>
<rect x="250" y="66" width="1" height="1" fill="#000"/>
<rect x="249" y="67" width="1" height="1" fill="#000"/>
<rect x="251" y="67" width="1" height="1" fill="#000"/>
<rect x="248" y="68" width="1" height="5" fill="#000"/>
<rect x="252" y="68" width="1" height="5" fill="#000"/>
<rect x="249" y="73" width="1" height="1" fill="#000"/>
<rect x="251" y="73" width="1" height="1" fill="#000"/>
<rect x="250" y="74" width="1" height="1" fill="#000"/>
<rect x="207" y="145" width="1" height="10" fill="#000"/>
<rect x="207" y="145" width="4" height="1" fill="#000"/>
<rect x="211" y="146" width="1" height="4" fill="#000"/>
<rect x="207" y="150" width="4" height="1" fill="#000"/>
<rect x="211" y="151" width="1" height="3" fill="#000"/>
<rect x="207" y="154" width="4" height="1" fill="#000"/>
<rect x="217" y="146" width="1" height="1" fill="#000"/>
<rect x="216" y="147" width="1" height="3" fill="#000"/>
<rect x="218" y="147" width="1" height="3" fill="#000"/>
<rect x="215" y="150" width="1" height="4" fill="#000"/>
<rect x="219" y="150" width="1" height="4" fill="#000"/>
<rect x="215" y="151" width="5" height="1" fill="#000"/>
<rect x="214" y="154" width="1" height="1" fill="#000"/>
<rect x="220" y="154" width="1" height="1" fill="#000"/>
<rect x="224" y="145" width="1" height="10" fill="#000"/>
<rect x="229" y="145" width="1" height="10" fill="#000"/>
<rect x="225" y="146" width="1" height="2" fill="#000"/>
<rect x="226" y="148" width="1" height="2" fill="#000"/>
<rect x="227" y="150" width="1" height="2" fill="#000"/>
<rect x="228" y="152" width="1" height="2" fill="#000"/>
<rect x="234" y="145" width="1" height="10" fill="#000"/>
<rect x="238" y="145" width="2" height="1" fill="#000"/>
<rect x="237" y="146" width="1" height="1" fill="#000"/>
<rect x="236" y="147" width="1" height="1" fill="#000"/>
<rect x="235" y="148" width="1" height="2" fill="#000"/>
<rect x="236" y="150" width="1" height="1" fill="#000"/>
<rect x="237" y="151" width="1" height="1" fill="#000"/>
<rect x="238" y="152" width="1" height="2" fill="#000"/>
<rect x="239" y="154" width="1" height="1" fill="#000"/>
<rect x="251" y="146" width="1" height="9" fill="#000"/>
<rect x="249" y="148" width="2" height="1" fill="#000"/>
<rect x="86" y="202" width="84" height="234" fill="#000"/>
<rect x="88" y="204" width="4" height="5" fill="#fff"/>
<rect x="88" y="219" width="4" height="5" fill="#fff"/>
<rect x="94" y="204" width="4" height="5" fill="#fff"/>
<rect x="94" y="219" width="4" height="5" fill="#fff"/>
<rect x="100" y="204" width="4" height="5" fill="#fff"/>
<rect x="100" y="219" width="4" height="5" fill="#fff"/>
<rect x="106" y="204" width="4" height="5" fill="#fff"/>
<rect x="106" y="219" width="4" height="5" fill="#fff"/>
<rect x="111" y="204" width="4" height="5" fill="#fff"/>
<rect x="111" y="219" width="4" height="5" fill="#fff"/>
<rect x="117" y="204" width="4" height="5" fill="#fff"/>
<rect x="117" y="219" width="4" height="5" fill="#fff"/>
<rect x="123" y="204" width="4" height="5" fill="#fff"/>
<rect x="123" y="219" width="4" height="5" fill="#fff"/>
<rect x="129" y="204" width="4" height="5" fill="#fff"/>
<rect x="129" y="219" width="4" height="5" fill="#fff"/>
<rect x="135" y="204" width="4" height="5" fill="#fff"/>
<rect x="135" y="219" width="4" height="5" fill="#fff"/>
<rect x="141" y="204" width="4" height="5" fill="#fff"/>
<rect x="141" y="219" width="4" height="5" fill="#fff"/>
<rect x="146" y="204" width="4" height="5" fill="#fff"/>
<rect x="146" y="219" width="4" height="5" fill="#fff"/>
<rect x="152" y="204" width="4" height="5" fill="#fff"/>
<rect x="152" y="219" width="4" height="5" fill="#fff"/>
<rect x="158" y="204" width="4" height="5" fill="#fff"/>
<rect x="158" y="219" width="4" height="5" fill="#fff"/>
<rect x="164" y="204" width="4" height="5" fill="#fff"/>
<rect x="164" y="219" width="4" height="5" fill="#fff"/>
<rect x="91" y="211" width="73" height="5" fill="#fff"/>
<rect x="169" y="211" width="1" height="5" fill="#fff"/>
<rect x="168" y="212" width="1" height="3" fill="#fff"/>
<rect x="167" y="213" width="1" height="1" fill="#fff"/>
<rect x="86" y="226" width="84" height="1" fill="#fff"/>
<rect x="88" y="229" width="4" height="5" fill="#fff"/>
<rect x="88" y="244" width="4" height="5" fill="#fff"/>
<rect x="94" y="229" width="4" height="5" fill="#fff"/>
<rect x="94" y="244" width="4" height="5" fill="#fff"/>
<rect x="100" y="229" width="4" height="5" fill="#fff"/>
<rect x="100" y="244" width="4" height="5" fill="#fff"/>
<rect x="106" y="229" width="4" height="5" fill="#fff"/>
<rect x="106" y="244" width="4" height="5" fill="#fff"/>
<rect x="111" y="229" width="4" height="5" fill="#fff"/>
<rect x="111" y="244" width="4" height="5" fill="#fff"/>
<rect x="117" y="229" width="4" height="5" fill="#fff"/>
<rect x="117" y="244" width="4" height="5" fill="#fff"/>
<rect x="123" y="229" width="4" height="5" fill="#fff"/>
<rect x="123" y="244" width="4" height="5" fill="#fff"/>
<rect x="129" y="229" width="4" height="5" fill="#fff"/>
<rect x="129" y="244" width="4" height="5" fill="#fff"/>
<rect x="135" y="229" width="4" height="5" fill="#fff"/>
<rect x="135" y="244" width="4" height="5" fill="#fff"/>
<rect x="141" y="229" width="4" height="5" fill="#fff"/>
<rect x="141" y="244" width="4" height="5" fill="#fff"/>
<rect x="146" y="229" width="4" height="5" fill="#fff"/>
<rect x="146" y="244" width="4" height="5" fill="#fff"/>
<rect x="152" y="229" width="4" height="5" fill="#fff"/>
<rect x="152" y="244" width="4" height="5" fill="#fff"/>
<rect x="158" y="229" width="4" height="5" fill="#fff"/>
<rect x="158" y="244" width="4" height="5" fill="#fff"/>
<rect x="164" y="229" width="4" height="5" fill="#fff"/>
<rect x="164" y="244" width="4" height="5" fill="#fff"/>
<rect x="91" y="237" width="73" height="5" fill="#fff"/>
<rect x="169" y="237" width="1" height="5" fill="#fff"/>
<rect x="168" y="238" width="1" height="3" fill="#fff"/>
<rect x="167" y="239" width="1" height="1" fill="#fff"/>
<rect x="86" y="252" width="84" height="1" fill="#fff"/>
<rect x="88" y="255" width="4" height="5" fill="#fff"/>
<rect x="88" y="270" width="4" height="5" fill="#fff"/>
<rect x="94" y="255" width="4" height="5" fill="#fff"/>
<rect x="94" y="270" width="4" height="5" fill="#fff"/>
<rect x="100" y="255" width="4" height="5" fill="#fff"/>
<rect x="100" y="270" width="4" height="5" fill="#fff"/>
<rect x="106" y="255" width="4" height="5" fill="#fff"/>
<rect x="106" y="270" width="4" height="5" fill="#fff"/>
<rect x="111" y="255" width="4" height="5" fill="#fff"/>
<rect x="111" y="270" width="4" height="5" fill="#fff"/>
<rect x="117" y="255" width="4" height="5" fill="#fff"/>
<rect x="117" y="270" width="4" height="5" fill="#fff"/>
<rect x="123" y="255" width="4" height="5" fill="#fff"/>
<rect x="123" y="270" width="4" height="5" fill="#fff"/>
<rect x="129" y="255" width="4" height="5" fill="#fff"/>
<rect x="129" y="270" width="4" height="5" fill="#fff"/>
<rect x="135" y="255" width="4" height="5" fill="#fff"/>
<rect x="135" y="270" width="4" height="5" fill="#fff"/>
<rect x="141" y="255" width="4" height="5" fill="#fff"/>
<rect x="141" y="270" width="4" height="5" fill="#fff"/>
<rect x="146" y="255" width="4" height="5" fill="#fff"/>
<rect x="146" y="270" width="4" height="5" fill="#fff"/>
<rect x="152" y="255" width="4" height="5" fill="#fff"/>
<rect x="152" y="270" width="4" height="5" fill="#fff"/>
<rect x="158" y="255" width="4" height="5" fill="#fff"/>
<rect x="158" y="270" width="4" height="5" fill="#fff"/>
<rect x="164" y="255" width="4" height="5" fill="#fff"/>
<rect x="164" y="270" width="4" height="5" fill="#fff"/>
<rect x="91" y="263" width="73" height="5" fill="#fff"/>
<rect x="169" y="263" width="1" height="5" fill="#fff"/>
<rect x="168" y="264" width="1" height="3" fill="#fff"/>
<rect x="167" y="265" width="1" height="1" fill="#fff"/>
<rect x="86" y="278" width="84" height="1" fill="#fff"/>
<rect x="88" y="281" width="4" height="5" fill="#fff"/>
<rect x="88" y="296" width="4" height="5" fill="#fff"/>
<rect x="94" y="281" width="4" height="5" fill="#fff"/>
<rect x="94" y="296" width="4" height="5" fill="#fff"/>
<rect x="100" y="281" width="4" height="5" fill="#fff"/>
<rect x="100" y="296" width="4" height="5" fill="#fff"/>
<rect x="106" y="281" width="4" height="5" fill="#fff"/>
<rect x="106" y="296" width="4" height="5" fill="#fff"/>
<rect x="111" y="281" width="4" height="5" fill="#fff"/>
<rect x="111" y="296" width="4" height="5" fill="#fff"/>
<rect x="117" y="281" width="4" height="5" fill="#fff"/>
<rect x="117" y="296" width="4" height="5" fill="#fff"/>
<rect x="123" y="281" width="4" height="5" fill="#fff"/>
<rect x="123" y="296" width="4" height="5" fill="#fff"/>
<rect x="129" y="281" width="4" height="5" fill="#fff"/>
<rect x="129" y="296" width="4" height="5" fill="#fff"/>
<rect x="135" y="281" width="4" height="5" fill="#fff"/>
<rect x="135" y="296" width="4" height="5" fill="#fff"/>
<rect x="141" y="281" width="4" height="5" fill="#fff"/>
<rect x="141" y="296" width="4" height="5" fill="#fff"/>
<rect x="146" y="281" width="4" height="5" fill="#fff"/>
<rect x="146" y="296" width="4" height="5" fill="#fff"/>
<rect x="152" y="281" width="4" height="5" fill="#fff"/>
<rect x="152" y="296" width="4" height="5" fill="#fff"/>
<rect x="158" y="281" width="4" height="5" fill="#fff"/>
<rect x="158" y="296" width="4" height="5" fill="#fff"/>
<rect x="164" y="281" width="4" height="5" fill="#fff"/>
<rect x="164" y="296" width="4" height="5" fill="#fff"/>
<rect x="91" y="289" width="73" height="5" fill="#fff"/>
<rect x="169" y="289" width="1" height="5" fill="#fff"/>
<rect x="168" y="290" width="1" height="3" fill="#fff"/>
<rect x="167" y="291" width="1" height="1" fill="#fff"/>
<rect x="86" y="304" width="84" height="1" fill="#fff"/>
<rect x="88" y="307" width="4" height="5" fill="#fff"/>
<rect x="88" y="322" width="4" height="5" fill="#fff"/>
<rect x="94" y="307" width="4" height="5" fill="#fff"/>
<rect x="94" y="322" width="4" height="5" fill="#fff"/>
<rect x="100" y="307" width="4" height="5" fill="#fff"/>
<rect x="100" y="322" width="4" height="5" fill="#fff"/>
<rect x="106" y="307" width="4" height="5" fill="#fff"/>
<rect x="106" y="322" width="4" height="5" fill="#fff"/>
<rect x="111" y="307" width="4" height="5" fill="#fff"/>
<rect x="111" y="322" width="4" height="5" fill="#fff"/>
<rect x="117" y="307" width="4" height="5" fill="#fff"/>
<rect x="117" y="322" width="4" height="5" fill="#fff"/>
<rect x="123" y="307" width="4" height="5" fill="#fff"/>
<rect x="123" y="322" width="4" height="5" fill="#fff"/>
<rect x="129" y="307" width="4" height="5" fill="#fff"/>
<rect x="129" y="322" width="4" height="5" fill="#fff"/>
<rect x="135" y="307" width="4" height="5" fill="#fff"/>
<rect x="135" y="322" width="4" height="5" fill="#fff"/>
<rect x="141" y="307" width="4" height="5" fill="#fff"/>
<rect x="141" y="322" width="4" height="5" fill="#fff"/>
<rect x="146" y="307" width="4" height="5" fill="#fff"/>
<rect x="146" y="322" width="4" height="5" fill="#fff"/>
<rect x="152" y="307" width="4" height="5" fill="#fff"/>
<rect x="152" y="322" width="4" height="5" fill="#fff"/>
<rect x="158" y="307" width="4" height="5" fill="#fff"/>
<rect x="158" y="322" width="4" height="5" fill="#fff"/>
<rect x="164" y="307" width="4" height="5" fill="#fff"/>
<rect x="164" y="322" width="4" height="5" fill="#fff"/>
<rect x="91" y="315" width="73" height="5" fill="#fff"/>
<rect x="169" y="315" width="1" height="5" fill="#fff"/>
<rect x="168" y="316" width="1" height="3" fill="#fff"/>
<rect x="167" y="317" width="1" height="1" fill="#fff"/>
<rect x="86" y="330" width="84" height="1" fill="#fff"/>
<rect x="88" y="333" width="4" height="5" fill="#fff"/>
<rect x="88" y="348" width="4" height="5" fill="#fff"/>
<rect x="94" y="333" width="4" height="5" fill="#fff"/>
<rect x="94" y="348" width="4" height="5" fill="#fff"/>
<rect x="100" y="333" width="4" height="5" fill="#fff"/>
<rect x="100" y="348" width="4" height="5" fill="#fff"/>
<rect x="106" y="333" width="4" height="5" fill="#fff"/>
<rect x="106" y="348" width="4" height="5" fill="#fff"/>
<rect x="111" y="333" width="4" height="5" fill="#fff"/>
<rect x="111" y="348" width="4" height="5" fill="#fff"/>
<rect x="117" y="333" width="4" height="5" fill="#fff"/>
<rect x="117" y="348" width="4" height="5" fill="#fff"/>
<rect x="123" y="333" width="4" height="5" fill="#fff"/>
<rect x="123" y="348" width="4" height="5" fill="#fff"/>
<rect x="129" y="333" width="4" height="5" fill="#fff"/>
<rect x="129" y="348" width="4" height="5" fill="#fff"/>
<rect x="135" y="333" width="4" height="5" fill="#fff"/>
<rect x="135" y="348" width="4" height="5" fill="#fff"/>
<rect x="141" y="333" width="4" height="5" fill="#fff"/>
<rect x="141" y="348" width="4" height="5" fill="#fff"/>
<rect x="146" y="333" width="4" height="5" fill="#fff"/>
<rect x="146" y="348" width="4" height="5" fill="#fff"/>
<rect x="152" y="333" width="4" height="5" fill="#fff"/>
<rect x="152" y="348" width="4" height="5" fill="#fff"/>
<rect x="158" y="333" width="4" height="5" fill="#fff"/>
<rect x="158" y="348" width="4" height="5" fill="#fff"/>
<rect x="164" y="333" width="4" height="5" fill="#fff"/>
<rect x="164" y="348" width="4" height="5" fill="#fff"/>
<rect x="91" y="340" width="73" height="5" fill="#fff"/>
<rect x="169" y="340" width="1" height="5" fill="#fff"/>
<rect x="168" y="341" width="1" height="3" fill="#fff"/>
<rect x="167" y="342" width="1" height="1" fill="#fff"/>
<rect x="86" y="357" width="84" height="1" fill="#fff"/>
<rect x="88" y="360" width="4" height="5" fill="#fff"/>
<rect x="88" y="375" width="4" height="5" fill="#fff"/>
<rect x="94" y="360" width="4" height="5" fill="#fff"/>
<rect x="94" y="375" width="4" height="5" fill="#fff"/>
<rect x="100" y="360" width="4" height="5" fill="#fff"/>
<rect x="100" y="375" width="4" height="5" fill="#fff"/>
<rect x="106" y="360" width="4" height="5" fill="#fff"/>
<rect x="106" y="375" width="4" height="5" fill="#fff"/>
<rect x="111" y="360" width="4" height="5" fill="#fff"/>
<rect x="111" y="375" width="4" height="5" fill="#fff"/>
<rect x="117" y="360" width="4" height="5" fill="#fff"/>
<rect x="117" y="375" width="4" height="5" fill="#fff"/>
<rect x="123" y="360" width="4" height="5" fill="#fff"/>
<rect x="123" y="375" width="4" height="5" fill="#fff"/>
<rect x="129" y="360" width="4" height="5" fill="#fff"/>
<rect x="129" y="375" width="4" height="5" fill="#fff"/>
<rect x="135" y="360" width="4" height="5" fill="#fff"/>
<rect x="135" y="375" width="4" height="5" fill="#fff"/>
<rect x="141" y="360" width="4" height="5" fill="#fff"/>
<rect x="141" y="375" width="4" height="5" fill="#fff"/>
<rect x="146" y="360" width="4" height="5" fill="#fff"/>
<rect x="146" y="375" width="4" height="5" fill="#fff"/>
<rect x="152" y="360" width="4" height="5" fill="#fff"/>
<rect x="152" y="375" width="4" height="5" fill="#fff"/>
<rect x="158" y="360" width="4" height="5" fill="#fff"/>
<rect x="158" y="375" width="4" height="5" fill="#fff"/>
<rect x="164" y="360" width="4" height="5" fill="#fff"/>
<rect x="164" y="375" width="4" height="5" fill="#fff"/>
<rect x="91" y="367" width="73" height="5" fill="#fff"/>
<rect x="169" y="367" width="1" height="5" fill="#fff"/>
<rect x="168" y="368" width="1" height="3" fill="#fff"/>
<rect x="167" y="369" width="1" height="1" fill="#fff"/>
<rect x="86" y="383" width="84" height="1" fill="#fff"/>
<rect x="88" y="386" width="4" height="5" fill="#fff"/>
<rect x="88" y="401" width="4" height="5" fill="#fff"/>
<rect x="94" y="386" width="4" height="5" fill="#fff"/>
<rect x="94" y="401" width="4" height="5" fill="#fff"/>
<rect x="100" y="386" width="4" height="5" fill="#fff"/>
<rect x="100" y="401" width="4" height="5" fill="#fff"/>
<rect x="106" y="386" width="4" height="5" fill="#fff"/>
<rect x="106" y="401" width="4" height="5" fill="#fff"/>
<rect x="111" y="386" width="4" height="5" fill="#fff"/>
<rect x="111" y="401" width="4" height="5" fill="#fff"/>
<rect x="117" y="386" width="4" height="5" fill="#fff"/>
<rect x="117" y="401" width="4" height="5" fill="#fff"/>
<rect x="123" y="386" width="4" height="5" fill="#fff"/>
<rect x="123" y="401" width="4" height="5" fill="#fff"/>
<rect x="129" y="386" width="4" height="5" fill="#fff"/>
<rect x="129" y="401" width="4" height="5" fill="#fff"/>
<rect x="135" y="386" width="4" height="5" fill="#fff"/>
<rect x="135" y="401" width="4" height="5" fill="#fff"/>
<rect x="141" y="386" width="4" height="5" fill="#fff"/>
<rect x="141" y="401" width="4" height="5" fill="#fff"/>
<rect x="146" y="386" width="4" height="5" fill="#fff"/>
<rect x="146" y="401" width="4" height="5" fill="#fff"/>
<rect x="152" y="386" width="4" height="5" fill="#fff"/>
<rect x="152" y="401" width="4" height="5" fill="#fff"/>
<rect x="158" y="386" width="4" height="5" fill="#fff"/>
<rect x="158" y="401" width="4" height="5" fill="#fff"/>
<rect x="164" y="386" width="4" height="5" fill="#fff"/>
<rect x="164" y="401" width="4" height="5" fill="#fff"/>
<rect x="91" y="393" width="73" height="5" fill="#fff"/>
<rect x="169" y="393" width="1" height="5" fill="#fff"/>
<rect x="168" y="394" width="1" height="3" fill="#fff"/>
<rect x="167" y="395" width="1" height="1" fill="#fff"/>
<rect x="86" y="409" width="84" height="1" fill="#fff"/>
<rect x="88" y="412" width="4" height="5" fill="#fff"/>
<rect x="88" y="427" width="4" height="5" fill="#fff"/>
<rect x="94" y="412" width="4" height="5" fill="#fff"/>
<rect x="94" y="427" width="4" height="5" fill="#fff"/>
<rect x="100" y="412" width="4" height="5" fill="#fff"/>
<rect x="100" y="427" width="4" height="5" fill="#fff"/>
<rect x="106" y="412" width="4" height="5" fill="#fff"/>
<rect x="106" y="427" width="4" height="5" fill="#fff"/>
<rect x="111" y="412" width="4" height="5" fill="#fff"/>
<rect x="111" y="427" width="4" height="5" fill="#fff"/>
<rect x="117" y="412" width="4" height="5" fill="#fff"/>
<rect x="117" y="427" width="4" height="5" fill="#fff"/>
<rect x="123" y="412" width="4" height="5" fill="#fff"/>
<rect x="123" y="427" width="4" height="5" fill="#fff"/>
<rect x="129" y="412" width="4" height="5" fill="#fff"/>
<rect x="129" y="427" width="4" height="5" fill="#fff"/>
<rect x="135" y="412" width="4" height="5" fill="#fff"/>
<rect x="135" y="427" width="4" height="5" fill="#fff"/>
<rect x="141" y="412" width="4" height="5" fill="#fff"/>
<rect x="141" y="427" width="4" height="5" fill="#fff"/>
<rect x="146" y="412" width="4" height="5" fill="#fff"/>
<rect x="146" y="427" width="4" height="5" fill="#fff"/>
<rect x="152" y="412" width="4" height="5" fill="#fff"/>
<rect x="152" y="427" width="4" height="5" fill="#fff"/>
<rect x="158" y="412" width="4" height="5" fill="#fff"/>
<rect x="158" y="427" width="4" height="5" fill="#fff"/>
<rect x="164" y="412" width="4" height="5" fill="#fff"/>
<rect x="164" y="427" width="4" height="5" fill="#fff"/>
<rect x="91" y="419" width="73" height="5" fill="#fff"/>
<rect x="169" y="419" width="1" height="5" fill="#fff"/>
<rect x="168" y="420" width="1" height="3" fill="#fff"/>
<rect x="167" y="421" width="1" height="1" fill="#fff"/>
<rect x="112" y="204" width="32" height="19" fill="#000"/>
<rect x="112" y="205" width="32" height="18" fill="#000"/>
<rect x="114" y="207" width="28" height="14" fill="#fff"/>
<rect x="116" y="209" width="5" height="1" fill="#000"/>
<rect x="118" y="210" width="1" height="9" fill="#000"/>
<rect x="125" y="210" width="1" height="1" fill="#000"/>
<rect x="124" y="211" width="1" height="3" fill="#000"/>
<rect x="126" y="211" width="1" height="3" fill="#000"/>
<rect x="123" y="214" width="1" height="4" fill="#000"/>
<rect x="127" y="214" width="1" height="4" fill="#000"/>
<rect x="123" y="215" width="5" height="1" fill="#000"/>
<rect x="122" y="218" width="1" height="1" fill="#000"/>
<rect x="128" y="218" width="1" height="1" fill="#000"/>
<rect x="134" y="209" width="2" height="1" fill="#000"/>
<rect x="133" y="210" width="1" height="1" fill="#000"/>
<rect x="136" y="210" width="1" height="1" fill="#000"/>
<rect x="137" y="211" width="1" height="1" fill="#000"/>
<rect x="132" y="211" width="1" height="6" fill="#000"/>
<rect x="135" y="214" width="3" height="1" fill="#000"/>
<rect x="137" y="215" width="1" height="4" fill="#000"/>
<rect x="133" y="217" width="1" height="1" fill="#000"/>
<rect x="136" y="217" width="1" height="1" fill="#000"/>
<rect x="134" y="218" width="2" height="1" fill="#000"/>
<rect x="103" y="322" width="51" height="18" fill="#000"/>
<rect x="105" y="324" width="47" height="14" fill="#fff"/>
<rect x="108" y="325" width="3" height="1" fill="#000"/>
<rect x="107" y="326" width="1" height="1" fill="#000"/>
<rect x="111" y="326" width="1" height="2" fill="#000"/>
<rect x="106" y="327" width="1" height="6" fill="#000"/>
<rect x="107" y="333" width="1" height="1" fill="#000"/>
<rect x="111" y="331" width="1" height="3" fill="#000"/>
<rect x="108" y="334" width="3" height="1" fill="#000"/>
<rect x="119" y="326" width="1" height="1" fill="#000"/>
<rect x="118" y="327" width="1" height="3" fill="#000"/>
<rect x="120" y="327" width="1" height="3" fill="#000"/>
<rect x="117" y="330" width="1" height="4" fill="#000"/>
<rect x="121" y="330" width="1" height="4" fill="#000"/>
<rect x="117" y="331" width="5" height="1" fill="#000"/>
<rect x="116" y="334" width="1" height="1" fill="#000"/>
<rect x="122" y="334" width="1" height="1" fill="#000"/>
<rect x="126" y="325" width="3" height="1" fill="#000"/>
<rect x="125" y="326" width="1" height="1" fill="#000"/>
<rect x="129" y="326" width="1" height="2" fill="#000"/>
<rect x="124" y="327" width="1" height="6" fill="#000"/>
<rect x="125" y="333" width="1" height="1" fill="#000"/>
<rect x="129" y="331" width="1" height="3" fill="#000"/>
<rect x="126" y="334" width="3" height="1" fill="#000"/>
<rect x="135" y="325" width="1" height="10" fill="#000"/>
<rect x="140" y="325" width="1" height="10" fill="#000"/>
<rect x="136" y="330" width="4" height="1" fill="#000"/>
<rect x="144" y="325" width="1" height="10" fill="#000"/>
<rect x="144" y="325" width="5" height="1" fill="#000"/>
<rect x="145" y="330" width="4" height="1" fill="#000"/>
<rect x="144" y="334" width="5" height="1" fill="#000"/>
<rect x="119" y="240" width="22" height="76" fill="#000"/>
<rect x="121" y="242" width="15" height="72" fill="#fff"/>
<rect x="121" y="242" width="1" height="1" fill="#000"/>
<rect x="135" y="242" width="1" height="1" fill="#000"/>
<rect x="121" y="313" width="1" height="1" fill="#000"/>
<rect x="135" y="313" width="1" height="1" fill="#000"/>
<rect x="119" y="343" width="22" height="78" fill="#000"/>
<rect x="121" y="345" width="15" height="74" fill="#fff"/>
<rect x="121" y="345" width="1" height="1" fill="#000"/>
<rect x="135" y="345" width="1" height="1" fill="#000"/>
<rect x="121" y="418" width="1" height="1" fill="#000"/>
<rect x="135" y="418" width="1" height="1" fill="#000"/>
<rect x="124" y="235" width="5" height="6" fill="#000"/>
<rect x="124" y="314" width="5" height="9" fill="#000"/>
<rect x="124" y="338" width="5" height="7" fill="#000"/>
<rect x="124" y="419" width="5" height="6" fill="#000"/>
<rect x="125" y="245" width="1" height="10" fill="#000"/>
<rect x="125" y="245" width="4" height="1" fill="#000"/>
<rect x="129" y="246" width="1" height="4" fill="#000"/>
<rect x="125" y="250" width="4" height="1" fill="#000"/>
<rect x="129" y="251" width="1" height="3" fill="#000"/>
<rect x="125" y="254" width="4" height="1" fill="#000"/>
<rect x="127" y="261" width="1" height="1" fill="#000"/>
<rect x="126" y="262" width="1" height="3" fill="#000"/>
<rect x="128" y="262" width="1" height="3" fill="#000"/>
<rect x="125" y="265" width="1" height="4" fill="#000"/>
<rect x="129" y="265" width="1" height="4" fill="#000"/>
<rect x="125" y="266" width="5" height="1" fill="#000"/>
<rect x="124" y="269" width="1" height="1" fill="#000"/>
<rect x="130" y="269" width="1" height="1" fill="#000"/>
<rect x="125" y="274" width="1" height="10" fill="#000"/>
<rect x="130" y="274" width="1" height="10" fill="#000"/>
<rect x="126" y="275" width="1" height="2" fill="#000"/>
<rect x="127" y="277" width="1" height="2" fill="#000"/>
<rect x="128" y="279" width="1" height="2" fill="#000"/>
<rect x="129" y="281" width="1" height="2" fill="#000"/>
<rect x="125" y="289" width="1" height="10" fill="#000"/>
<rect x="129" y="289" width="2" height="1" fill="#000"/>
<rect x="128" y="290" width="1" height="1" fill="#000"/>
<rect x="127" y="291" width="1" height="1" fill="#000"/>
<rect x="126" y="292" width="1" height="2" fill="#000"/>
<rect x="127" y="294" width="1" height="1" fill="#000"/>
<rect x="128" y="295" width="1" height="1" fill="#000"/>
<rect x="129" y="296" width="1" height="2" fill="#000"/>
<rect x="130" y="298" width="1" height="1" fill="#000"/>
<rect x="128" y="303" width="1" height="1" fill="#000"/>
<rect x="127" y="304" width="1" height="1" fill="#000"/>
<rect x="129" y="304" width="1" height="1" fill="#000"/>
<rect x="126" y="305" width="1" height="5" fill="#000"/>
<rect x="130" y="305" width="1" height="5" fill="#000"/>
<rect x="127" y="310" width="1" height="1" fill="#000"/>
<rect x="129" y="310" width="1" height="1" fill="#000"/>
<rect x="128" y="311" width="1" height="1" fill="#000"/>
<rect x="125" y="349" width="1" height="10" fill="#000"/>
<rect x="125" y="349" width="4" height="1" fill="#000"/>
<rect x="129" y="350" width="1" height="4" fill="#000"/>
<rect x="125" y="354" width="4" height="1" fill="#000"/>
<rect x="129" y="355" width="1" height="3" fill="#000"/>
<rect x="125" y="358" width="4" height="1" fill="#000"/>
<rect x="127" y="366" width="1" height="1" fill="#000"/>
<rect x="126" y="367" width="1" height="3" fill="#000"/>
<rect x="128" y="367" width="1" height="3" fill="#000"/>
<rect x="125" y="370" width="1" height="4" fill="#000"/>
<rect x="129" y="370" width="1" height="4" fill="#000"/>
<rect x="125" y="371" width="5" height="1" fill="#000"/>
<rect x="124" y="374" width="1" height="1" fill="#000"/>
<rect x="130" y="374" width="1" height="1" fill="#000"/>
<rect x="125" y="379" width="1" height="10" fill="#000"/>
<rect x="130" y="379" width="1" height="10" fill="#000"/>
<rect x="126" y="380" width="1" height="2" fill="#000"/>
<rect x="127" y="382" width="1" height="2" fill="#000"/>
<rect x="128" y="384" width="1" height="2" fill="#000"/>
<rect x="129" y="386" width="1" height="2" fill="#000"/>
<rect x="125" y="393" width="1" height="10" fill="#000"/>
<rect x="129" y="393" width="2" height="1" fill="#000"/>
<rect x="128" y="394" width="1" height="1" fill="#000"/>
<rect x="127" y="395" width="1" height="1" fill="#000"/>
<rect x="126" y="396" width="1" height="2" fill="#000"/>
<rect x="127" y="398" width="1" height="1" fill="#000"/>
<rect x="128" y="399" width="1" height="1" fill="#000"/>
<rect x="129" y="400" width="1" height="2" fill="#000"/>
<rect x="130" y="402" width="1" height="1" fill="#000"/>
<rect x="127" y="409" width="1" height="9" fill="#000"/>
<rect x="125" y="411" width="2" height="1" fill="#000"/>
<rect x="787" y="49" width="33" height="45" fill="#000"/>
<rect x="814" y="39" width="8" height="67" fill="#000"/>
<rect x="812" y="42" width="20" height="1" fill="#000"/>
<rect x="812" y="47" width="20" height="1" fill="#000"/>
<rect x="812" y="42" width="1" height="6" fill="#000"/>
<rect x="831" y="42" width="1" height="6" fill="#000"/>
<rect x="813" y="43" width="1" height="4" fill="#fff"/>
<rect x="822" y="43" width="9" height="4" fill="#fff"/>
<rect x="812" y="97" width="20" height="1" fill="#000"/>
<rect x="812" y="102" width="20" height="1" fill="#000"/>
<rect x="812" y="97" width="1" height="6" fill="#000"/>
<rect x="831" y="97" width="1" height="6" fill="#000"/>
<rect x="813" y="98" width="1" height="4" fill="#fff"/>
<rect x="822" y="98" width="9" height="4" fill="#fff"/>
<path d="M821.5 50.5 H834.5 Q837.5 50.5 837.5 53.5 V89.5 Q837.5 92.5 834.5 92.5 H821.5" fill="none" stroke="#000" stroke-width="1"/>
<rect x="822" y="64" width="3" height="16" fill="#000"/>
<rect x="824" y="64" width="1" height="1" fill="#fff"/>
<rect x="824" y="79" width="1" height="1" fill="#fff"/>
<rect x="802" y="65" width="20" height="14" fill="#fff"/>
<rect x="808" y="66" width="1" height="9" fill="#000"/>
<rect x="806" y="75" width="2" height="1" fill="#000"/>
<rect x="805" y="73" width="1" height="2" fill="#000"/>
<rect x="815" y="67" width="1" height="9" fill="#000"/>
<rect x="813" y="69" width="2" height="1" fill="#000"/>
<rect x="787" y="124" width="33" height="45" fill="#000"/>
<rect x="814" y="114" width="8" height="68" fill="#000"/>
<rect x="812" y="117" width="20" height="1" fill="#000"/>
<rect x="812" y="122" width="20" height="1" fill="#000"/>
<rect x="812" y="117" width="1" height="6" fill="#000"/>
<rect x="831" y="117" width="1" height="6" fill="#000"/>
<rect x="813" y="118" width="1" height="4" fill="#fff"/>
<rect x="822" y="118" width="9" height="4" fill="#fff"/>
<rect x="812" y="171" width="20" height="1" fill="#000"/>
<rect x="812" y="177" width="20" height="1" fill="#000"/>
<rect x="812" y="171" width="1" height="7" fill="#000"/>
<rect x="831" y="171" width="1" height="7" fill="#000"/>
<rect x="813" y="172" width="1" height="5" fill="#fff"/>
<rect x="822" y="172" width="9" height="5" fill="#fff"/>
<path d="M821.5 125.5 H834.5 Q837.5 125.5 837.5 128.5 V164.5 Q837.5 167.5 834.5 167.5 H821.5" fill="none" stroke="#000" stroke-width="1"/>
<rect x="822" y="139" width="3" height="16" fill="#000"/>
<rect x="824" y="139" width="1" height="1" fill="#fff"/>
<rect x="824" y="154" width="1" height="1" fill="#fff"/>
<rect x="802" y="140" width="20" height="14" fill="#fff"/>
<rect x="808" y="141" width="1" height="9" fill="#000"/>
<rect x="806" y="150" width="2" height="1" fill="#000"/>
<rect x="805" y="148" width="1" height="2" fill="#000"/>
<rect x="813" y="142" width="3" height="1" fill="#000"/>
<rect x="812" y="143" width="1" height="2" fill="#000"/>
<rect x="816" y="143" width="1" height="3" fill="#000"/>
<rect x="815" y="146" width="1" height="1" fill="#000"/>
<rect x="814" y="147" width="1" height="1" fill="#000"/>
<rect x="813" y="148" width="1" height="1" fill="#000"/>
<rect x="812" y="149" width="1" height="1" fill="#000"/>
<rect x="812" y="150" width="5" height="1" fill="#000"/>
<rect x="787" y="363" width="33" height="45" fill="#000"/>
<rect x="814" y="353" width="8" height="67" fill="#000"/>
<rect x="812" y="356" width="20" height="1" fill="#000"/>
<rect x="812" y="361" width="20" height="1" fill="#000"/>
<rect x="812" y="356" width="1" height="6" fill="#000"/>
<rect x="831" y="356" width="1" height="6" fill="#000"/>
<rect x="813" y="357" width="1" height="4" fill="#fff"/>
<rect x="822" y="357" width="9" height="4" fill="#fff"/>
<rect x="812" y="410" width="20" height="1" fill="#000"/>
<rect x="812" y="415" width="20" height="1" fill="#000"/>
<rect x="812" y="410" width="1" height="6" fill="#000"/>
<rect x="831" y="410" width="1" height="6" fill="#000"/>
<rect x="813" y="411" width="1" height="4" fill="#fff"/>
<rect x="822" y="411" width="9" height="4" fill="#fff"/>
<path d="M821.5 364.5 H834.5 Q837.5 364.5 837.5 367.5 V403.5 Q837.5 406.5 834.5 406.5 H821.5" fill="none" stroke="#000" stroke-width="1"/>
<rect x="822" y="378" width="3" height="16" fill="#000"/>
<rect x="824" y="378" width="1" height="1" fill="#fff"/>
<rect x="824" y="393" width="1" height="1" fill="#fff"/>
<rect x="802" y="379" width="20" height="14" fill="#fff"/>
<rect x="808" y="380" width="1" height="9" fill="#000"/>
<rect x="806" y="389" width="2" height="1" fill="#000"/>
<rect x="805" y="387" width="1" height="2" fill="#000"/>
<rect x="815" y="381" width="1" height="9" fill="#000"/>
<rect x="814" y="383" width="1" height="1" fill="#000"/>
<rect x="813" y="384" width="1" height="2" fill="#000"/>
<rect x="812" y="386" width="1" height="2" fill="#000"/>
<rect x="812" y="387" width="5" height="1" fill="#000"/>
<rect x="791" y="218" width="28" height="91" fill="#000"/>
<rect x="815" y="207" width="4" height="112" fill="#000"/>
<rect x="819" y="207" width="1" height="112" fill="#fff"/>
<rect x="810" y="209" width="19" height="1" fill="#000"/>
<rect x="810" y="214" width="19" height="1" fill="#000"/>
<rect x="810" y="209" width="1" height="6" fill="#000"/>
<rect x="828" y="209" width="1" height="6" fill="#000"/>
<rect x="811" y="210" width="4" height="4" fill="#fff"/>
<rect x="822" y="210" width="6" height="4" fill="#fff"/>
<rect x="810" y="311" width="19" height="1" fill="#000"/>
<rect x="810" y="316" width="19" height="1" fill="#000"/>
<rect x="810" y="311" width="1" height="6" fill="#000"/>
<rect x="828" y="311" width="1" height="6" fill="#000"/>
<rect x="811" y="312" width="4" height="4" fill="#fff"/>
<rect x="822" y="312" width="6" height="4" fill="#fff"/>
<path d="M821.5 218.5 H832.5 Q834.5 218.5 834.5 221.5 V305.5 Q834.5 308.5 832.5 308.5 H821.5" fill="none" stroke="#000" stroke-width="1"/>
<rect x="822" y="254" width="3" height="18" fill="#000"/>
<rect x="824" y="254" width="1" height="1" fill="#fff"/>
<rect x="824" y="271" width="1" height="1" fill="#fff"/>
<rect x="802" y="256" width="21" height="14" fill="#fff"/>
<rect x="808" y="257" width="1" height="9" fill="#000"/>
<rect x="806" y="266" width="2" height="1" fill="#000"/>
<rect x="805" y="264" width="1" height="2" fill="#000"/>
<rect x="813" y="258" width="3" height="1" fill="#000"/>
<rect x="812" y="259" width="1" height="2" fill="#000"/>
<rect x="816" y="259" width="1" height="3" fill="#000"/>
<rect x="814" y="262" width="2" height="1" fill="#000"/>
<rect x="816" y="263" width="1" height="3" fill="#000"/>
<rect x="812" y="264" width="1" height="2" fill="#000"/>
<rect x="813" y="266" width="3" height="1" fill="#000"/>
<rect x="817" y="434" width="5" height="51" fill="#000"/>
<rect x="814" y="437" width="8" height="46" fill="#000"/>
<rect x="790" y="441" width="32" height="37" fill="#000"/>
<rect x="788" y="447" width="34" height="25" fill="#000"/>
<rect x="784" y="450" width="5" height="1" fill="#000"/>
<rect x="784" y="457" width="5" height="1" fill="#000"/>
<rect x="784" y="450" width="1" height="8" fill="#000"/>
<rect x="788" y="450" width="1" height="8" fill="#000"/>
<rect x="785" y="451" width="3" height="6" fill="#fff"/>
<rect x="784" y="461" width="5" height="1" fill="#000"/>
<rect x="784" y="469" width="5" height="1" fill="#000"/>
<rect x="784" y="461" width="1" height="9" fill="#000"/>
<rect x="788" y="461" width="1" height="9" fill="#000"/>
<rect x="785" y="462" width="3" height="7" fill="#fff"/>
<rect x="788" y="457" width="3" height="1" fill="#000"/>
<rect x="788" y="461" width="3" height="1" fill="#000"/>
<rect x="788" y="457" width="1" height="5" fill="#000"/>
<rect x="790" y="457" width="1" height="5" fill="#000"/>
<rect x="789" y="458" width="1" height="3" fill="#fff"/>
<rect x="423" y="278" width="128" height="20" fill="#000"/>
<rect x="431" y="285" width="114" height="6" fill="#fff"/>
<rect x="561" y="278" width="202" height="20" fill="#000"/>
<rect x="569" y="285" width="8" height="6" fill="#fff"/>
<rect x="610" y="285" width="145" height="6" fill="#fff"/>
<rect x="579" y="281" width="29" height="14" fill="#fff"/>
<rect x="579" y="281" width="1" height="1" fill="#000"/>
<rect x="607" y="281" width="1" height="1" fill="#000"/>
<rect x="584" y="283" width="3" height="1" fill="#000"/>
<rect x="583" y="284" width="1" height="3" fill="#000"/>
<rect x="587" y="284" width="1" height="2" fill="#000"/>
<rect x="584" y="287" width="2" height="1" fill="#000"/>
<rect x="586" y="288" width="1" height="1" fill="#000"/>
<rect x="587" y="289" width="1" height="3" fill="#000"/>
<rect x="582" y="290" width="1" height="2" fill="#000"/>
<rect x="583" y="292" width="4" height="1" fill="#000"/>
<rect x="592" y="283" width="1" height="10" fill="#000"/>
<rect x="592" y="292" width="5" height="1" fill="#000"/>
<rect x="602" y="284" width="1" height="9" fill="#000"/>
<rect x="600" y="286" width="2" height="1" fill="#000"/>
<rect x="444" y="317" width="102" height="13" fill="#000"/>
<rect x="445" y="318" width="100" height="1" fill="#fff"/>
<rect x="445" y="323" width="100" height="1" fill="#fff"/>
<rect x="450" y="318" width="1" height="11" fill="#fff"/>
<rect x="456" y="318" width="1" height="11" fill="#fff"/>
<rect x="462" y="318" width="1" height="11" fill="#fff"/>
<rect x="468" y="318" width="1" height="11" fill="#fff"/>
<rect x="474" y="318" width="1" height="11" fill="#fff"/>
<rect x="480" y="318" width="1" height="11" fill="#fff"/>
<rect x="486" y="318" width="1" height="11" fill="#fff"/>
<rect x="492" y="318" width="1" height="11" fill="#fff"/>
<rect x="498" y="318" width="1" height="11" fill="#fff"/>
<rect x="504" y="318" width="1" height="11" fill="#fff"/>
<rect x="510" y="318" width="1" height="11" fill="#fff"/>
<rect x="515" y="318" width="1" height="11" fill="#fff"/>
<rect x="521" y="318" width="1" height="11" fill="#fff"/>
<rect x="527" y="318" width="1" height="11" fill="#fff"/>
<rect x="533" y="318" width="1" height="11" fill="#fff"/>
<rect x="539" y="318" width="1" height="11" fill="#fff"/>
<rect x="446" y="325" width="3" height="3" fill="#fff"/>
<rect x="563" y="318" width="119" height="13" fill="#000"/>
<rect x="564" y="319" width="117" height="1" fill="#fff"/>
<rect x="564" y="324" width="117" height="1" fill="#fff"/>
<rect x="569" y="319" width="1" height="11" fill="#fff"/>
<rect x="575" y="319" width="1" height="11" fill="#fff"/>
<rect x="581" y="319" width="1" height="11" fill="#fff"/>
<rect x="587" y="319" width="1" height="11" fill="#fff"/>
<rect x="593" y="319" width="1" height="11" fill="#fff"/>
<rect x="599" y="319" width="1" height="11" fill="#fff"/>
<rect x="605" y="319" width="1" height="11" fill="#fff"/>
<rect x="611" y="319" width="1" height="11" fill="#fff"/>
<rect x="617" y="319" width="1" height="11" fill="#fff"/>
<rect x="623" y="319" width="1" height="11" fill="#fff"/>
<rect x="628" y="319" width="1" height="11" fill="#fff"/>
<rect x="634" y="319" width="1" height="11" fill="#fff"/>
<rect x="640" y="319" width="1" height="11" fill="#fff"/>
<rect x="646" y="319" width="1" height="11" fill="#fff"/>
<rect x="652" y="319" width="1" height="11" fill="#fff"/>
<rect x="658" y="319" width="1" height="11" fill="#fff"/>
<rect x="664" y="319" width="1" height="11" fill="#fff"/>
<rect x="670" y="319" width="1" height="11" fill="#fff"/>
<rect x="676" y="319" width="1" height="11" fill="#fff"/>
<rect x="565" y="326" width="3" height="3" fill="#fff"/>
<rect x="541" y="505" width="79" height="1" fill="#000"/>
<rect x="541" y="517" width="79" height="1" fill="#000"/>
<rect x="541" y="505" width="1" height="13" fill="#000"/>
<rect x="619" y="505" width="1" height="13" fill="#000"/>
<rect x="543" y="506" width="4" height="4" fill="#000"/>
<rect x="543" y="512" width="4" height="4" fill="#000"/>
<rect x="549" y="506" width="5" height="4" fill="#000"/>
<rect x="549" y="512" width="5" height="4" fill="#000"/>
<rect x="555" y="506" width="4" height="4" fill="#000"/>
<rect x="555" y="512" width="4" height="4" fill="#000"/>
<rect x="560" y="506" width="5" height="4" fill="#000"/>
<rect x="560" y="512" width="5" height="4" fill="#000"/>
<rect x="566" y="506" width="4" height="4" fill="#000"/>
<rect x="566" y="512" width="4" height="4" fill="#000"/>
<rect x="572" y="506" width="5" height="4" fill="#000"/>
<rect x="572" y="512" width="5" height="4" fill="#000"/>
<rect x="578" y="506" width="4" height="4" fill="#000"/>
<rect x="578" y="512" width="4" height="4" fill="#000"/>
<rect x="584" y="506" width="5" height="4" fill="#000"/>
<rect x="584" y="512" width="5" height="4" fill="#000"/>
<rect x="590" y="506" width="4" height="4" fill="#000"/>
<rect x="590" y="512" width="4" height="4" fill="#000"/>
<rect x="595" y="506" width="5" height="4" fill="#000"/>
<rect x="595" y="512" width="5" height="4" fill="#000"/>
<rect x="601" y="506" width="4" height="4" fill="#000"/>
<rect x="601" y="512" width="4" height="4" fill="#000"/>
<rect x="607" y="506" width="5" height="4" fill="#000"/>
<rect x="607" y="512" width="5" height="4" fill="#000"/>
<rect x="613" y="506" width="4" height="4" fill="#000"/>
<rect x="613" y="512" width="4" height="4" fill="#000"/>
<rect x="614" y="507" width="2" height="2" fill="#fff"/>
<rect x="645" y="496" width="113" height="1" fill="#000"/>
<rect x="645" y="519" width="113" height="1" fill="#000"/>
<rect x="645" y="496" width="1" height="24" fill="#000"/>
<rect x="757" y="496" width="1" height="24" fill="#000"/>
<rect x="646" y="503" width="111" height="1" fill="#000"/>
<rect x="647" y="499" width="8" height="1" fill="#000"/>
<rect x="647" y="501" width="8" height="1" fill="#000"/>
<rect x="647" y="499" width="1" height="3" fill="#000"/>
<rect x="654" y="499" width="1" height="3" fill="#000"/>
<rect x="648" y="502" width="6" height="1" fill="#000"/>
<rect x="648" y="506" width="7" height="2" fill="#000"/>
<rect x="656" y="499" width="8" height="1" fill="#000"/>
<rect x="656" y="501" width="8" height="1" fill="#000"/>
<rect x="656" y="499" width="1" height="3" fill="#000"/>
<rect x="663" y="499" width="1" height="3" fill="#000"/>
<rect x="657" y="502" width="6" height="1" fill="#000"/>
<rect x="657" y="506" width="7" height="2" fill="#000"/>
<rect x="666" y="499" width="8" height="1" fill="#000"/>
<rect x="666" y="501" width="8" height="1" fill="#000"/>
<rect x="666" y="499" width="1" height="3" fill="#000"/>
<rect x="673" y="499" width="1" height="3" fill="#000"/>
<rect x="667" y="502" width="6" height="1" fill="#000"/>
<rect x="667" y="506" width="7" height="2" fill="#000"/>
<rect x="675" y="499" width="8" height="1" fill="#000"/>
<rect x="675" y="501" width="8" height="1" fill="#000"/>
<rect x="675" y="499" width="1" height="3" fill="#000"/>
<rect x="682" y="499" width="1" height="3" fill="#000"/>
<rect x="676" y="502" width="6" height="1" fill="#000"/>
<rect x="676" y="506" width="7" height="2" fill="#000"/>
<rect x="685" y="499" width="8" height="1" fill="#000"/>
<rect x="685" y="501" width="8" height="1" fill="#000"/>
<rect x="685" y="499" width="1" height="3" fill="#000"/>
<rect x="692" y="499" width="1" height="3" fill="#000"/>
<rect x="686" y="502" width="6" height="1" fill="#000"/>
<rect x="686" y="506" width="7" height="2" fill="#000"/>
<rect x="694" y="499" width="8" height="1" fill="#000"/>
<rect x="694" y="501" width="8" height="1" fill="#000"/>
<rect x="694" y="499" width="1" height="3" fill="#000"/>
<rect x="701" y="499" width="1" height="3" fill="#000"/>
<rect x="695" y="502" width="6" height="1" fill="#000"/>
<rect x="695" y="506" width="7" height="2" fill="#000"/>
<rect x="703" y="499" width="8" height="1" fill="#000"/>
<rect x="703" y="501" width="8" height="1" fill="#000"/>
<rect x="703" y="499" width="1" height="3" fill="#000"/>
<rect x="710" y="499" width="1" height="3" fill="#000"/>
<rect x="704" y="502" width="6" height="1" fill="#000"/>
<rect x="704" y="506" width="7" height="2" fill="#000"/>
<rect x="713" y="499" width="8" height="1" fill="#000"/>
<rect x="713" y="501" width="8" height="1" fill="#000"/>
<rect x="713" y="499" width="1" height="3" fill="#000"/>
<rect x="720" y="499" width="1" height="3" fill="#000"/>
<rect x="714" y="502" width="6" height="1" fill="#000"/>
<rect x="714" y="506" width="7" height="2" fill="#000"/>
<rect x="722" y="499" width="8" height="1" fill="#000"/>
<rect x="722" y="501" width="8" height="1" fill="#000"/>
<rect x="722" y="499" width="1" height="3" fill="#000"/>
<rect x="729" y="499" width="1" height="3" fill="#000"/>
<rect x="723" y="502" width="6" height="1" fill="#000"/>
<rect x="723" y="506" width="7" height="2" fill="#000"/>
<rect x="732" y="499" width="8" height="1" fill="#000"/>
<rect x="732" y="501" width="8" height="1" fill="#000"/>
<rect x="732" y="499" width="1" height="3" fill="#000"/>
<rect x="739" y="499" width="1" height="3" fill="#000"/>
<rect x="733" y="502" width="6" height="1" fill="#000"/>
<rect x="733" y="506" width="7" height="2" fill="#000"/>
<rect x="741" y="499" width="8" height="1" fill="#000"/>
<rect x="741" y="501" width="8" height="1" fill="#000"/>
<rect x="741" y="499" width="1" height="3" fill="#000"/>
<rect x="748" y="499" width="1" height="3" fill="#000"/>
<rect x="742" y="502" width="6" height="1" fill="#000"/>
<rect x="742" y="506" width="7" height="2" fill="#000"/>
<rect x="750" y="499" width="8" height="1" fill="#000"/>
<rect x="750" y="501" width="8" height="1" fill="#000"/>
<rect x="750" y="499" width="1" height="3" fill="#000"/>
<rect x="757" y="499" width="1" height="3" fill="#000"/>
<rect x="751" y="502" width="6" height="1" fill="#000"/>
<rect x="751" y="506" width="7" height="2" fill="#000"/>
<rect x="651" y="509" width="8" height="1" fill="#000"/>
<rect x="651" y="516" width="8" height="1" fill="#000"/>
<rect x="651" y="509" width="1" height="8" fill="#000"/>
<rect x="658" y="509" width="1" height="8" fill="#000"/>
<rect x="660" y="509" width="8" height="1" fill="#000"/>
<rect x="660" y="516" width="8" height="1" fill="#000"/>
<rect x="660" y="509" width="1" height="8" fill="#000"/>
<rect x="667" y="509" width="1" height="8" fill="#000"/>
<rect x="670" y="509" width="8" height="1" fill="#000"/>
<rect x="670" y="516" width="8" height="1" fill="#000"/>
<rect x="670" y="509" width="1" height="8" fill="#000"/>
<rect x="677" y="509" width="1" height="8" fill="#000"/>
<rect x="679" y="509" width="8" height="1" fill="#000"/>
<rect x="679" y="516" width="8" height="1" fill="#000"/>
<rect x="679" y="509" width="1" height="8" fill="#000"/>
<rect x="686" y="509" width="1" height="8" fill="#000"/>
<rect x="688" y="509" width="8" height="1" fill="#000"/>
<rect x="688" y="516" width="8" height="1" fill="#000"/>
<rect x="688" y="509" width="1" height="8" fill="#000"/>
<rect x="695" y="509" width="1" height="8" fill="#000"/>
<rect x="698" y="509" width="8" height="1" fill="#000"/>
<rect x="698" y="516" width="8" height="1" fill="#000"/>
<rect x="698" y="509" width="1" height="8" fill="#000"/>
<rect x="705" y="509" width="1" height="8" fill="#000"/>
<rect x="707" y="509" width="8" height="1" fill="#000"/>
<rect x="707" y="516" width="8" height="1" fill="#000"/>
<rect x="707" y="509" width="1" height="8" fill="#000"/>
<rect x="714" y="509" width="1" height="8" fill="#000"/>
<rect x="716" y="509" width="8" height="1" fill="#000"/>
<rect x="716" y="516" width="8" height="1" fill="#000"/>
<rect x="716" y="509" width="1" height="8" fill="#000"/>
<rect x="723" y="509" width="1" height="8" fill="#000"/>
<rect x="726" y="509" width="8" height="1" fill="#000"/>
<rect x="726" y="516" width="8" height="1" fill="#000"/>
<rect x="726" y="509" width="1" height="8" fill="#000"/>
<rect x="733" y="509" width="1" height="8" fill="#000"/>
<rect x="735" y="509" width="8" height="1" fill="#000"/>
<rect x="735" y="516" width="8" height="1" fill="#000"/>
<rect x="735" y="509" width="1" height="8" fill="#000"/>
<rect x="742" y="509" width="1" height="8" fill="#000"/>
<rect x="745" y="509" width="8" height="1" fill="#000"/>
<rect x="745" y="516" width="8" height="1" fill="#000"/>
<rect x="745" y="509" width="1" height="8" fill="#000"/>
<rect x="752" y="509" width="1" height="8" fill="#000"/>
<rect x="645" y="510" width="3" height="1" fill="#000"/>
<rect x="645" y="516" width="3" height="1" fill="#000"/>
<rect x="645" y="510" width="1" height="7" fill="#000"/>
<rect x="647" y="510" width="1" height="7" fill="#000"/>
<rect x="646" y="511" width="1" height="5" fill="#fff"/>
<rect x="755" y="510" width="3" height="1" fill="#000"/>
<rect x="755" y="516" width="3" height="1" fill="#000"/>
<rect x="755" y="510" width="1" height="7" fill="#000"/>
<rect x="757" y="510" width="1" height="7" fill="#000"/>
<rect x="756" y="511" width="1" height="5" fill="#fff"/>
<rect x="191" y="402" width="96" height="1" fill="#000"/>
<rect x="191" y="497" width="96" height="1" fill="#000"/>
<rect x="191" y="402" width="1" height="96" fill="#000"/>
<rect x="286" y="402" width="1" height="96" fill="#000"/>
<rect x="194" y="397" width="1" height="5" fill="#000"/>
<rect x="194" y="498" width="1" height="6" fill="#000"/>
<rect x="197" y="397" width="1" height="5" fill="#000"/>
<rect x="197" y="498" width="1" height="6" fill="#000"/>
<rect x="199" y="397" width="1" height="5" fill="#000"/>
<rect x="199" y="498" width="1" height="6" fill="#000"/>
<rect x="202" y="397" width="1" height="5" fill="#000"/>
<rect x="202" y="498" width="1" height="6" fill="#000"/>
<rect x="204" y="397" width="1" height="5" fill="#000"/>
<rect x="204" y="498" width="1" height="6" fill="#000"/>
<rect x="207" y="397" width="1" height="5" fill="#000"/>
<rect x="207" y="498" width="1" height="6" fill="#000"/>
<rect x="209" y="397" width="1" height="5" fill="#000"/>
<rect x="209" y="498" width="1" height="6" fill="#000"/>
<rect x="212" y="397" width="1" height="5" fill="#000"/>
<rect x="212" y="498" width="1" height="6" fill="#000"/>
<rect x="215" y="397" width="1" height="5" fill="#000"/>
<rect x="215" y="498" width="1" height="6" fill="#000"/>
<rect x="217" y="397" width="1" height="5" fill="#000"/>
<rect x="217" y="498" width="1" height="6" fill="#000"/>
<rect x="220" y="397" width="1" height="5" fill="#000"/>
<rect x="220" y="498" width="1" height="6" fill="#000"/>
<rect x="222" y="397" width="1" height="5" fill="#000"/>
<rect x="222" y="498" width="1" height="6" fill="#000"/>
<rect x="225" y="397" width="1" height="5" fill="#000"/>
<rect x="225" y="498" width="1" height="6" fill="#000"/>
<rect x="227" y="397" width="1" height="5" fill="#000"/>
<rect x="227" y="498" width="1" height="6" fill="#000"/>
<rect x="230" y="397" width="1" height="5" fill="#000"/>
<rect x="230" y="498" width="1" height="6" fill="#000"/>
<rect x="233" y="397" width="1" height="5" fill="#000"/>
<rect x="233" y="498" width="1" height="6" fill="#000"/>
<rect x="235" y="397" width="1" height="5" fill="#000"/>
<rect x="235" y="498" width="1" height="6" fill="#000"/>
<rect x="238" y="397" width="1" height="5" fill="#000"/>
<rect x="238" y="498" width="1" height="6" fill="#000"/>
<rect x="240" y="397" width="1" height="5" fill="#000"/>
<rect x="240" y="498" width="1" height="6" fill="#000"/>
<rect x="243" y="397" width="1" height="5" fill="#000"/>
<rect x="243" y="498" width="1" height="6" fill="#000"/>
<rect x="245" y="397" width="1" height="5" fill="#000"/>
<rect x="245" y="498" width="1" height="6" fill="#000"/>
<rect x="248" y="397" width="1" height="5" fill="#000"/>
<rect x="248" y="498" width="1" height="6" fill="#000"/>
<rect x="251" y="397" width="1" height="5" fill="#000"/>
<rect x="251" y="498" width="1" height="6" fill="#000"/>
<rect x="253" y="397" width="1" height="5" fill="#000"/>
<rect x="253" y="498" width="1" height="6" fill="#000"/>
<rect x="256" y="397" width="1" height="5" fill="#000"/>
<rect x="256" y="498" width="1" height="6" fill="#000"/>
<rect x="258" y="397" width="1" height="5" fill="#000"/>
<rect x="258" y="498" width="1" height="6" fill="#000"/>
<rect x="261" y="397" width="1" height="5" fill="#000"/>
<rect x="261" y="498" width="1" height="6" fill="#000"/>
<rect x="263" y="397" width="1" height="5" fill="#000"/>
<rect x="263" y="498" width="1" height="6" fill="#000"/>
<rect x="266" y="397" width="1" height="5" fill="#000"/>
<rect x="266" y="498" width="1" height="6" fill="#000"/>
<rect x="269" y="397" width="1" height="5" fill="#000"/>
<rect x="269" y="498" width="1" height="6" fill="#000"/>
<rect x="271" y="397" width="1" height="5" fill="#000"/>
<rect x="271" y="498" width="1" height="6" fill="#000"/>
<rect x="274" y="397" width="1" height="5" fill="#000"/>
<rect x="274" y="498" width="1" height="6" fill="#000"/>
<rect x="276" y="397" width="1" height="5" fill="#000"/>
<rect x="276" y="498" width="1" height="6" fill="#000"/>
<rect x="279" y="397" width="1" height="5" fill="#000"/>
<rect x="279" y="498" width="1" height="6" fill="#000"/>
<rect x="281" y="397" width="1" height="5" fill="#000"/>
<rect x="281" y="498" width="1" height="6" fill="#000"/>
<rect x="284" y="397" width="1" height="5" fill="#000"/>
<rect x="284" y="498" width="1" height="6" fill="#000"/>
<rect x="186" y="405" width="5" height="1" fill="#000"/>
<rect x="287" y="405" width="6" height="1" fill="#000"/>
<rect x="186" y="408" width="5" height="1" fill="#000"/>
<rect x="287" y="408" width="6" height="1" fill="#000"/>
<rect x="186" y="410" width="5" height="1" fill="#000"/>
<rect x="287" y="410" width="6" height="1" fill="#000"/>
<rect x="186" y="413" width="5" height="1" fill="#000"/>
<rect x="287" y="413" width="6" height="1" fill="#000"/>
<rect x="186" y="415" width="5" height="1" fill="#000"/>
<rect x="287" y="415" width="6" height="1" fill="#000"/>
<rect x="186" y="418" width="5" height="1" fill="#000"/>
<rect x="287" y="418" width="6" height="1" fill="#000"/>
<rect x="186" y="420" width="5" height="1" fill="#000"/>
<rect x="287" y="420" width="6" height="1" fill="#000"/>
<rect x="186" y="423" width="5" height="1" fill="#000"/>
<rect x="287" y="423" width="6" height="1" fill="#000"/>
<rect x="186" y="426" width="5" height="1" fill="#000"/>
<rect x="287" y="426" width="6" height="1" fill="#000"/>
<rect x="186" y="428" width="5" height="1" fill="#000"/>
<rect x="287" y="428" width="6" height="1" fill="#000"/>
<rect x="186" y="431" width="5" height="1" fill="#000"/>
<rect x="287" y="431" width="6" height="1" fill="#000"/>
<rect x="186" y="433" width="5" height="1" fill="#000"/>
<rect x="287" y="433" width="6" height="1" fill="#000"/>
<rect x="186" y="436" width="5" height="1" fill="#000"/>
<rect x="287" y="436" width="6" height="1" fill="#000"/>
<rect x="186" y="438" width="5" height="1" fill="#000"/>
<rect x="287" y="438" width="6" height="1" fill="#000"/>
<rect x="186" y="441" width="5" height="1" fill="#000"/>
<rect x="287" y="441" width="6" height="1" fill="#000"/>
<rect x="186" y="444" width="5" height="1" fill="#000"/>
<rect x="287" y="444" width="6" height="1" fill="#000"/>
<rect x="186" y="446" width="5" height="1" fill="#000"/>
<rect x="287" y="446" width="6" height="1" fill="#000"/>
<rect x="186" y="449" width="5" height="1" fill="#000"/>
<rect x="287" y="449" width="6" height="1" fill="#000"/>
<rect x="186" y="451" width="5" height="1" fill="#000"/>
<rect x="287" y="451" width="6" height="1" fill="#000"/>
<rect x="186" y="454" width="5" height="1" fill="#000"/>
<rect x="287" y="454" width="6" height="1" fill="#000"/>
<rect x="186" y="456" width="5" height="1" fill="#000"/>
<rect x="287" y="456" width="6" height="1" fill="#000"/>
<rect x="186" y="459" width="5" height="1" fill="#000"/>
<rect x="287" y="459" width="6" height="1" fill="#000"/>
<rect x="186" y="462" width="5" height="1" fill="#000"/>
<rect x="287" y="462" width="6" height="1" fill="#000"/>
<rect x="186" y="464" width="5" height="1" fill="#000"/>
<rect x="287" y="464" width="6" height="1" fill="#000"/>
<rect x="186" y="467" width="5" height="1" fill="#000"/>
<rect x="287" y="467" width="6" height="1" fill="#000"/>
<rect x="186" y="469" width="5" height="1" fill="#000"/>
<rect x="287" y="469" width="6" height="1" fill="#000"/>
<rect x="186" y="472" width="5" height="1" fill="#000"/>
<rect x="287" y="472" width="6" height="1" fill="#000"/>
<rect x="186" y="474" width="5" height="1" fill="#000"/>
<rect x="287" y="474" width="6" height="1" fill="#000"/>
<rect x="186" y="477" width="5" height="1" fill="#000"/>
<rect x="287" y="477" width="6" height="1" fill="#000"/>
<rect x="186" y="480" width="5" height="1" fill="#000"/>
<rect x="287" y="480" width="6" height="1" fill="#000"/>
<rect x="186" y="482" width="5" height="1" fill="#000"/>
<rect x="287" y="482" width="6" height="1" fill="#000"/>
<rect x="186" y="485" width="5" height="1" fill="#000"/>
<rect x="287" y="485" width="6" height="1" fill="#000"/>
<rect x="186" y="487" width="5" height="1" fill="#000"/>
<rect x="287" y="487" width="6" height="1" fill="#000"/>
<rect x="186" y="490" width="5" height="1" fill="#000"/>
<rect x="287" y="490" width="6" height="1" fill="#000"/>
<rect x="186" y="492" width="5" height="1" fill="#000"/>
<rect x="287" y="492" width="6" height="1" fill="#000"/>
<rect x="186" y="495" width="5" height="1" fill="#000"/>
<rect x="287" y="495" width="6" height="1" fill="#000"/>
<circle cx="198.5" cy="492" r="3.6" fill="#fff" stroke="#000" stroke-width="1.1" shape-rendering="auto"/>
<rect x="225" y="441" width="29" height="19" fill="#000"/>
<rect x="223" y="442" width="33" height="17" fill="#000"/>
<rect x="225" y="443" width="29" height="15" fill="#fff"/>
<rect x="225" y="443" width="1" height="1" fill="#000"/>
<rect x="253" y="443" width="1" height="1" fill="#000"/>
<rect x="225" y="457" width="1" height="1" fill="#000"/>
<rect x="253" y="457" width="1" height="1" fill="#000"/>
<rect x="228" y="445" width="3" height="1" fill="#000"/>
<rect x="227" y="446" width="1" height="1" fill="#000"/>
<rect x="231" y="446" width="1" height="2" fill="#000"/>
<rect x="226" y="447" width="1" height="6" fill="#000"/>
<rect x="227" y="453" width="1" height="1" fill="#000"/>
<rect x="231" y="451" width="1" height="3" fill="#000"/>
<rect x="228" y="454" width="3" height="1" fill="#000"/>
<rect x="236" y="445" width="1" height="10" fill="#000"/>
<rect x="236" y="445" width="4" height="1" fill="#000"/>
<rect x="240" y="446" width="1" height="4" fill="#000"/>
<rect x="236" y="450" width="4" height="1" fill="#000"/>
<rect x="244" y="445" width="1" height="8" fill="#000"/>
<rect x="249" y="445" width="1" height="8" fill="#000"/>
<rect x="245" y="453" width="1" height="1" fill="#000"/>
<rect x="248" y="453" width="1" height="1" fill="#000"/>
<rect x="246" y="454" width="2" height="1" fill="#000"/>
<rect x="313" y="397" width="107" height="104" fill="#000"/>
<rect x="341" y="423" width="52" height="54" fill="#fff"/>
<rect x="317" y="401" width="4" height="4" fill="#fff"/>
<rect x="317" y="404" width="1" height="1" fill="#000"/>
<rect x="320" y="404" width="1" height="1" fill="#000"/>
<rect x="324" y="401" width="4" height="4" fill="#fff"/>
<rect x="327" y="401" width="1" height="1" fill="#000"/>
<rect x="327" y="404" width="1" height="1" fill="#000"/>
<rect x="331" y="401" width="4" height="4" fill="#fff"/>
<rect x="331" y="401" width="1" height="1" fill="#000"/>
<rect x="334" y="401" width="1" height="1" fill="#000"/>
<rect x="338" y="401" width="4" height="4" fill="#fff"/>
<rect x="344" y="401" width="4" height="4" fill="#fff"/>
<rect x="344" y="401" width="1" height="1" fill="#000"/>
<rect x="344" y="404" width="1" height="1" fill="#000"/>
<rect x="351" y="401" width="4" height="4" fill="#fff"/>
<rect x="351" y="401" width="1" height="1" fill="#000"/>
<rect x="351" y="404" width="1" height="1" fill="#000"/>
<rect x="358" y="401" width="4" height="4" fill="#fff"/>
<rect x="358" y="401" width="1" height="1" fill="#000"/>
<rect x="361" y="404" width="1" height="1" fill="#000"/>
<rect x="365" y="401" width="4" height="4" fill="#fff"/>
<rect x="365" y="401" width="1" height="1" fill="#000"/>
<rect x="365" y="404" width="1" height="1" fill="#000"/>
<rect x="372" y="401" width="4" height="4" fill="#fff"/>
<rect x="372" y="404" width="1" height="1" fill="#000"/>
<rect x="375" y="404" width="1" height="1" fill="#000"/>
<rect x="379" y="401" width="4" height="4" fill="#fff"/>
<rect x="379" y="401" width="1" height="1" fill="#000"/>
<rect x="382" y="404" width="1" height="1" fill="#000"/>
<rect x="385" y="401" width="4" height="4" fill="#fff"/>
<rect x="385" y="401" width="1" height="1" fill="#000"/>
<rect x="385" y="404" width="1" height="1" fill="#000"/>
<rect x="392" y="401" width="4" height="4" fill="#fff"/>
<rect x="392" y="401" width="1" height="1" fill="#000"/>
<rect x="395" y="404" width="1" height="1" fill="#000"/>
<rect x="399" y="401" width="4" height="4" fill="#fff"/>
<rect x="402" y="401" width="1" height="1" fill="#000"/>
<rect x="402" y="404" width="1" height="1" fill="#000"/>
<rect x="406" y="401" width="4" height="4" fill="#fff"/>
<rect x="406" y="401" width="1" height="1" fill="#000"/>
<rect x="406" y="404" width="1" height="1" fill="#000"/>
<rect x="413" y="401" width="4" height="4" fill="#fff"/>
<rect x="413" y="401" width="1" height="1" fill="#000"/>
<rect x="413" y="404" width="1" height="1" fill="#000"/>
<rect x="317" y="408" width="4" height="4" fill="#fff"/>
<rect x="317" y="408" width="1" height="1" fill="#000"/>
<rect x="320" y="408" width="1" height="1" fill="#000"/>
<rect x="324" y="408" width="4" height="4" fill="#fff"/>
<rect x="324" y="408" width="1" height="1" fill="#000"/>
<rect x="327" y="408" width="1" height="1" fill="#000"/>
<rect x="331" y="408" width="4" height="4" fill="#fff"/>
<rect x="331" y="408" width="1" height="1" fill="#000"/>
<rect x="331" y="411" width="1" height="1" fill="#000"/>
<rect x="338" y="408" width="4" height="4" fill="#fff"/>
<rect x="341" y="408" width="1" height="1" fill="#000"/>
<rect x="341" y="411" width="1" height="1" fill="#000"/>
<rect x="344" y="408" width="4" height="4" fill="#fff"/>
<rect x="344" y="408" width="1" height="1" fill="#000"/>
<rect x="344" y="411" width="1" height="1" fill="#000"/>
<rect x="351" y="408" width="4" height="4" fill="#fff"/>
<rect x="351" y="408" width="1" height="1" fill="#000"/>
<rect x="354" y="411" width="1" height="1" fill="#000"/>
<rect x="358" y="408" width="4" height="4" fill="#fff"/>
<rect x="358" y="408" width="1" height="1" fill="#000"/>
<rect x="361" y="408" width="1" height="1" fill="#000"/>
<rect x="365" y="408" width="4" height="4" fill="#fff"/>
<rect x="365" y="408" width="1" height="1" fill="#000"/>
<rect x="365" y="411" width="1" height="1" fill="#000"/>
<rect x="372" y="408" width="4" height="4" fill="#fff"/>
<rect x="372" y="408" width="1" height="1" fill="#000"/>
<rect x="375" y="411" width="1" height="1" fill="#000"/>
<rect x="379" y="408" width="4" height="4" fill="#fff"/>
<rect x="379" y="408" width="1" height="1" fill="#000"/>
<rect x="379" y="411" width="1" height="1" fill="#000"/>
<rect x="385" y="408" width="4" height="4" fill="#fff"/>
<rect x="388" y="408" width="1" height="1" fill="#000"/>
<rect x="388" y="411" width="1" height="1" fill="#000"/>
<rect x="392" y="408" width="4" height="4" fill="#fff"/>
<rect x="399" y="408" width="4" height="4" fill="#fff"/>
<rect x="406" y="408" width="4" height="4" fill="#fff"/>
<rect x="406" y="408" width="1" height="1" fill="#000"/>
<rect x="409" y="411" width="1" height="1" fill="#000"/>
<rect x="413" y="408" width="4" height="4" fill="#fff"/>
<rect x="413" y="408" width="1" height="1" fill="#000"/>
<rect x="413" y="411" width="1" height="1" fill="#000"/>
<rect x="317" y="414" width="4" height="4" fill="#fff"/>
<rect x="317" y="414" width="1" height="1" fill="#000"/>
<rect x="320" y="417" width="1" height="1" fill="#000"/>
<rect x="324" y="414" width="4" height="4" fill="#fff"/>
<rect x="324" y="414" width="1" height="1" fill="#000"/>
<rect x="327" y="417" width="1" height="1" fill="#000"/>
<rect x="331" y="414" width="4" height="4" fill="#fff"/>
<rect x="331" y="414" width="1" height="1" fill="#000"/>
<rect x="334" y="414" width="1" height="1" fill="#000"/>
<rect x="338" y="414" width="4" height="4" fill="#fff"/>
<rect x="338" y="414" width="1" height="1" fill="#000"/>
<rect x="338" y="417" width="1" height="1" fill="#000"/>
<rect x="344" y="414" width="4" height="4" fill="#fff"/>
<rect x="347" y="414" width="1" height="1" fill="#000"/>
<rect x="347" y="417" width="1" height="1" fill="#000"/>
<rect x="351" y="414" width="4" height="4" fill="#fff"/>
<rect x="351" y="414" width="1" height="1" fill="#000"/>
<rect x="351" y="417" width="1" height="1" fill="#000"/>
<rect x="358" y="414" width="4" height="4" fill="#fff"/>
<rect x="358" y="414" width="1" height="1" fill="#000"/>
<rect x="361" y="417" width="1" height="1" fill="#000"/>
<rect x="365" y="414" width="4" height="4" fill="#fff"/>
<rect x="368" y="414" width="1" height="1" fill="#000"/>
<rect x="368" y="417" width="1" height="1" fill="#000"/>
<rect x="372" y="414" width="4" height="4" fill="#fff"/>
<rect x="372" y="417" width="1" height="1" fill="#000"/>
<rect x="375" y="417" width="1" height="1" fill="#000"/>
<rect x="379" y="414" width="4" height="4" fill="#fff"/>
<rect x="379" y="414" width="1" height="1" fill="#000"/>
<rect x="382" y="414" width="1" height="1" fill="#000"/>
<rect x="385" y="414" width="4" height="4" fill="#fff"/>
<rect x="388" y="414" width="1" height="1" fill="#000"/>
<rect x="388" y="417" width="1" height="1" fill="#000"/>
<rect x="392" y="414" width="4" height="4" fill="#fff"/>
<rect x="392" y="414" width="1" height="1" fill="#000"/>
<rect x="395" y="417" width="1" height="1" fill="#000"/>
<rect x="399" y="414" width="4" height="4" fill="#fff"/>
<rect x="399" y="414" width="1" height="1" fill="#000"/>
<rect x="399" y="417" width="1" height="1" fill="#000"/>
<rect x="406" y="414" width="4" height="4" fill="#fff"/>
<rect x="406" y="414" width="1" height="1" fill="#000"/>
<rect x="409" y="417" width="1" height="1" fill="#000"/>
<rect x="413" y="414" width="4" height="4" fill="#fff"/>
<rect x="413" y="417" width="1" height="1" fill="#000"/>
<rect x="416" y="417" width="1" height="1" fill="#000"/>
<rect x="317" y="421" width="4" height="4" fill="#fff"/>
<rect x="317" y="421" width="1" height="1" fill="#000"/>
<rect x="320" y="424" width="1" height="1" fill="#000"/>
<rect x="324" y="421" width="4" height="4" fill="#fff"/>
<rect x="331" y="421" width="4" height="4" fill="#fff"/>
<rect x="334" y="421" width="1" height="1" fill="#000"/>
<rect x="334" y="424" width="1" height="1" fill="#000"/>
<rect x="399" y="421" width="4" height="4" fill="#fff"/>
<rect x="399" y="421" width="1" height="1" fill="#000"/>
<rect x="399" y="424" width="1" height="1" fill="#000"/>
<rect x="406" y="421" width="4" height="4" fill="#fff"/>
<rect x="406" y="421" width="1" height="1" fill="#000"/>
<rect x="409" y="424" width="1" height="1" fill="#000"/>
<rect x="413" y="421" width="4" height="4" fill="#fff"/>
<rect x="413" y="421" width="1" height="1" fill="#000"/>
<rect x="416" y="424" width="1" height="1" fill="#000"/>
<rect x="317" y="427" width="4" height="4" fill="#fff"/>
<rect x="324" y="427" width="4" height="4" fill="#fff"/>
<rect x="327" y="427" width="1" height="1" fill="#000"/>
<rect x="327" y="430" width="1" height="1" fill="#000"/>
<rect x="331" y="427" width="4" height="4" fill="#fff"/>
<rect x="331" y="430" width="1" height="1" fill="#000"/>
<rect x="334" y="430" width="1" height="1" fill="#000"/>
<rect x="399" y="427" width="4" height="4" fill="#fff"/>
<rect x="399" y="427" width="1" height="1" fill="#000"/>
<rect x="399" y="430" width="1" height="1" fill="#000"/>
<rect x="406" y="427" width="4" height="4" fill="#fff"/>
<rect x="406" y="427" width="1" height="1" fill="#000"/>
<rect x="409" y="430" width="1" height="1" fill="#000"/>
<rect x="413" y="427" width="4" height="4" fill="#fff"/>
<rect x="317" y="434" width="4" height="4" fill="#fff"/>
<rect x="317" y="434" width="1" height="1" fill="#000"/>
<rect x="317" y="437" width="1" height="1" fill="#000"/>
<rect x="324" y="434" width="4" height="4" fill="#fff"/>
<rect x="324" y="434" width="1" height="1" fill="#000"/>
<rect x="327" y="437" width="1" height="1" fill="#000"/>
<rect x="331" y="434" width="4" height="4" fill="#fff"/>
<rect x="331" y="434" width="1" height="1" fill="#000"/>
<rect x="331" y="437" width="1" height="1" fill="#000"/>
<rect x="399" y="434" width="4" height="4" fill="#fff"/>
<rect x="399" y="434" width="1" height="1" fill="#000"/>
<rect x="402" y="437" width="1" height="1" fill="#000"/>
<rect x="406" y="434" width="4" height="4" fill="#fff"/>
<rect x="409" y="434" width="1" height="1" fill="#000"/>
<rect x="409" y="437" width="1" height="1" fill="#000"/>
<rect x="413" y="434" width="4" height="4" fill="#fff"/>
<rect x="413" y="434" width="1" height="1" fill="#000"/>
<rect x="416" y="434" width="1" height="1" fill="#000"/>
<rect x="317" y="441" width="4" height="4" fill="#fff"/>
<rect x="324" y="441" width="4" height="4" fill="#fff"/>
<rect x="324" y="441" width="1" height="1" fill="#000"/>
<rect x="327" y="444" width="1" height="1" fill="#000"/>
<rect x="331" y="441" width="4" height="4" fill="#fff"/>
<rect x="331" y="441" width="1" height="1" fill="#000"/>
<rect x="334" y="441" width="1" height="1" fill="#000"/>
<rect x="399" y="441" width="4" height="4" fill="#fff"/>
<rect x="399" y="444" width="1" height="1" fill="#000"/>
<rect x="402" y="444" width="1" height="1" fill="#000"/>
<rect x="406" y="441" width="4" height="4" fill="#fff"/>
<rect x="406" y="441" width="1" height="1" fill="#000"/>
<rect x="409" y="441" width="1" height="1" fill="#000"/>
<rect x="413" y="441" width="4" height="4" fill="#fff"/>
<rect x="413" y="441" width="1" height="1" fill="#000"/>
<rect x="416" y="444" width="1" height="1" fill="#000"/>
<rect x="317" y="447" width="4" height="4" fill="#fff"/>
<rect x="317" y="447" width="1" height="1" fill="#000"/>
<rect x="320" y="447" width="1" height="1" fill="#000"/>
<rect x="324" y="447" width="4" height="4" fill="#fff"/>
<rect x="324" y="450" width="1" height="1" fill="#000"/>
<rect x="327" y="450" width="1" height="1" fill="#000"/>
<rect x="331" y="447" width="4" height="4" fill="#fff"/>
<rect x="331" y="450" width="1" height="1" fill="#000"/>
<rect x="334" y="450" width="1" height="1" fill="#000"/>
<rect x="399" y="447" width="4" height="4" fill="#fff"/>
<rect x="402" y="447" width="1" height="1" fill="#000"/>
<rect x="402" y="450" width="1" height="1" fill="#000"/>
<rect x="406" y="447" width="4" height="4" fill="#fff"/>
<rect x="409" y="447" width="1" height="1" fill="#000"/>
<rect x="409" y="450" width="1" height="1" fill="#000"/>
<rect x="413" y="447" width="4" height="4" fill="#fff"/>
<rect x="317" y="454" width="4" height="4" fill="#fff"/>
<rect x="320" y="454" width="1" height="1" fill="#000"/>
<rect x="320" y="457" width="1" height="1" fill="#000"/>
<rect x="324" y="454" width="4" height="4" fill="#fff"/>
<rect x="324" y="454" width="1" height="1" fill="#000"/>
<rect x="324" y="457" width="1" height="1" fill="#000"/>
<rect x="331" y="454" width="4" height="4" fill="#fff"/>
<rect x="331" y="454" width="1" height="1" fill="#000"/>
<rect x="334" y="457" width="1" height="1" fill="#000"/>
<rect x="399" y="454" width="4" height="4" fill="#fff"/>
<rect x="399" y="457" width="1" height="1" fill="#000"/>
<rect x="402" y="457" width="1" height="1" fill="#000"/>
<rect x="406" y="454" width="4" height="4" fill="#fff"/>
<rect x="406" y="454" width="1" height="1" fill="#000"/>
<rect x="409" y="457" width="1" height="1" fill="#000"/>
<rect x="413" y="454" width="4" height="4" fill="#fff"/>
<rect x="413" y="454" width="1" height="1" fill="#000"/>
<rect x="416" y="454" width="1" height="1" fill="#000"/>
<rect x="317" y="460" width="4" height="4" fill="#fff"/>
<rect x="317" y="463" width="1" height="1" fill="#000"/>
<rect x="320" y="463" width="1" height="1" fill="#000"/>
<rect x="324" y="460" width="4" height="4" fill="#fff"/>
<rect x="331" y="460" width="4" height="4" fill="#fff"/>
<rect x="331" y="460" width="1" height="1" fill="#000"/>
<rect x="334" y="460" width="1" height="1" fill="#000"/>
<rect x="399" y="460" width="4" height="4" fill="#fff"/>
<rect x="399" y="463" width="1" height="1" fill="#000"/>
<rect x="402" y="463" width="1" height="1" fill="#000"/>
<rect x="406" y="460" width="4" height="4" fill="#fff"/>
<rect x="406" y="460" width="1" height="1" fill="#000"/>
<rect x="409" y="463" width="1" height="1" fill="#000"/>
<rect x="413" y="460" width="4" height="4" fill="#fff"/>
<rect x="413" y="460" width="1" height="1" fill="#000"/>
<rect x="413" y="463" width="1" height="1" fill="#000"/>
<rect x="317" y="467" width="4" height="4" fill="#fff"/>
<rect x="317" y="467" width="1" height="1" fill="#000"/>
<rect x="317" y="470" width="1" height="1" fill="#000"/>
<rect x="324" y="467" width="4" height="4" fill="#fff"/>
<rect x="324" y="467" width="1" height="1" fill="#000"/>
<rect x="327" y="470" width="1" height="1" fill="#000"/>
<rect x="331" y="467" width="4" height="4" fill="#fff"/>
<rect x="331" y="467" width="1" height="1" fill="#000"/>
<rect x="334" y="467" width="1" height="1" fill="#000"/>
<rect x="399" y="467" width="4" height="4" fill="#fff"/>
<rect x="402" y="467" width="1" height="1" fill="#000"/>
<rect x="402" y="470" width="1" height="1" fill="#000"/>
<rect x="406" y="467" width="4" height="4" fill="#fff"/>
<rect x="406" y="470" width="1" height="1" fill="#000"/>
<rect x="409" y="470" width="1" height="1" fill="#000"/>
<rect x="413" y="467" width="4" height="4" fill="#fff"/>
<rect x="416" y="467" width="1" height="1" fill="#000"/>
<rect x="416" y="470" width="1" height="1" fill="#000"/>
<rect x="317" y="474" width="4" height="4" fill="#fff"/>
<rect x="317" y="474" width="1" height="1" fill="#000"/>
<rect x="320" y="474" width="1" height="1" fill="#000"/>
<rect x="324" y="474" width="4" height="4" fill="#fff"/>
<rect x="324" y="474" width="1" height="1" fill="#000"/>
<rect x="327" y="474" width="1" height="1" fill="#000"/>
<rect x="331" y="474" width="4" height="4" fill="#fff"/>
<rect x="331" y="474" width="1" height="1" fill="#000"/>
<rect x="331" y="477" width="1" height="1" fill="#000"/>
<rect x="399" y="474" width="4" height="4" fill="#fff"/>
<rect x="406" y="474" width="4" height="4" fill="#fff"/>
<rect x="406" y="474" width="1" height="1" fill="#000"/>
<rect x="406" y="477" width="1" height="1" fill="#000"/>
<rect x="413" y="474" width="4" height="4" fill="#fff"/>
<rect x="413" y="474" width="1" height="1" fill="#000"/>
<rect x="416" y="477" width="1" height="1" fill="#000"/>
<rect x="317" y="480" width="4" height="4" fill="#fff"/>
<rect x="317" y="480" width="1" height="1" fill="#000"/>
<rect x="320" y="483" width="1" height="1" fill="#000"/>
<rect x="324" y="480" width="4" height="4" fill="#fff"/>
<rect x="324" y="483" width="1" height="1" fill="#000"/>
<rect x="327" y="483" width="1" height="1" fill="#000"/>
<rect x="331" y="480" width="4" height="4" fill="#fff"/>
<rect x="331" y="483" width="1" height="1" fill="#000"/>
<rect x="334" y="483" width="1" height="1" fill="#000"/>
<rect x="338" y="480" width="4" height="4" fill="#fff"/>
<rect x="344" y="480" width="4" height="4" fill="#fff"/>
<rect x="344" y="483" width="1" height="1" fill="#000"/>
<rect x="347" y="483" width="1" height="1" fill="#000"/>
<rect x="351" y="480" width="4" height="4" fill="#fff"/>
<rect x="351" y="480" width="1" height="1" fill="#000"/>
<rect x="354" y="483" width="1" height="1" fill="#000"/>
<rect x="358" y="480" width="4" height="4" fill="#fff"/>
<rect x="358" y="480" width="1" height="1" fill="#000"/>
<rect x="361" y="480" width="1" height="1" fill="#000"/>
<rect x="365" y="480" width="4" height="4" fill="#fff"/>
<rect x="365" y="480" width="1" height="1" fill="#000"/>
<rect x="368" y="483" width="1" height="1" fill="#000"/>
<rect x="372" y="480" width="4" height="4" fill="#fff"/>
<rect x="372" y="480" width="1" height="1" fill="#000"/>
<rect x="375" y="480" width="1" height="1" fill="#000"/>
<rect x="379" y="480" width="4" height="4" fill="#fff"/>
<rect x="379" y="480" width="1" height="1" fill="#000"/>
<rect x="379" y="483" width="1" height="1" fill="#000"/>
<rect x="385" y="480" width="4" height="4" fill="#fff"/>
<rect x="385" y="480" width="1" height="1" fill="#000"/>
<rect x="385" y="483" width="1" height="1" fill="#000"/>
<rect x="392" y="480" width="4" height="4" fill="#fff"/>
<rect x="392" y="483" width="1" height="1" fill="#000"/>
<rect x="395" y="483" width="1" height="1" fill="#000"/>
<rect x="399" y="480" width="4" height="4" fill="#fff"/>
<rect x="399" y="480" width="1" height="1" fill="#000"/>
<rect x="402" y="480" width="1" height="1" fill="#000"/>
<rect x="406" y="480" width="4" height="4" fill="#fff"/>
<rect x="413" y="480" width="4" height="4" fill="#fff"/>
<rect x="317" y="487" width="4" height="4" fill="#fff"/>
<rect x="317" y="487" width="1" height="1" fill="#000"/>
<rect x="317" y="490" width="1" height="1" fill="#000"/>
<rect x="324" y="487" width="4" height="4" fill="#fff"/>
<rect x="324" y="487" width="1" height="1" fill="#000"/>
<rect x="324" y="490" width="1" height="1" fill="#000"/>
<rect x="331" y="487" width="4" height="4" fill="#fff"/>
<rect x="338" y="487" width="4" height="4" fill="#fff"/>
<rect x="344" y="487" width="4" height="4" fill="#fff"/>
<rect x="344" y="490" width="1" height="1" fill="#000"/>
<rect x="347" y="490" width="1" height="1" fill="#000"/>
<rect x="351" y="487" width="4" height="4" fill="#fff"/>
<rect x="358" y="487" width="4" height="4" fill="#fff"/>
<rect x="358" y="487" width="1" height="1" fill="#000"/>
<rect x="361" y="490" width="1" height="1" fill="#000"/>
<rect x="365" y="487" width="4" height="4" fill="#fff"/>
<rect x="372" y="487" width="4" height="4" fill="#fff"/>
<rect x="372" y="487" width="1" height="1" fill="#000"/>
<rect x="375" y="487" width="1" height="1" fill="#000"/>
<rect x="379" y="487" width="4" height="4" fill="#fff"/>
<rect x="379" y="490" width="1" height="1" fill="#000"/>
<rect x="382" y="490" width="1" height="1" fill="#000"/>
<rect x="385" y="487" width="4" height="4" fill="#fff"/>
<rect x="392" y="487" width="4" height="4" fill="#fff"/>
<rect x="392" y="487" width="1" height="1" fill="#000"/>
<rect x="395" y="487" width="1" height="1" fill="#000"/>
<rect x="399" y="487" width="4" height="4" fill="#fff"/>
<rect x="406" y="487" width="4" height="4" fill="#fff"/>
<rect x="406" y="490" width="1" height="1" fill="#000"/>
<rect x="409" y="490" width="1" height="1" fill="#000"/>
<rect x="413" y="487" width="4" height="4" fill="#fff"/>
<rect x="413" y="487" width="1" height="1" fill="#000"/>
<rect x="413" y="490" width="1" height="1" fill="#000"/>
<rect x="317" y="493" width="4" height="4" fill="#fff"/>
<rect x="317" y="493" width="1" height="1" fill="#000"/>
<rect x="320" y="493" width="1" height="1" fill="#000"/>
<rect x="324" y="493" width="4" height="4" fill="#fff"/>
<rect x="324" y="496" width="1" height="1" fill="#000"/>
<rect x="327" y="496" width="1" height="1" fill="#000"/>
<rect x="331" y="493" width="4" height="4" fill="#fff"/>
<rect x="334" y="493" width="1" height="1" fill="#000"/>
<rect x="334" y="496" width="1" height="1" fill="#000"/>
<rect x="338" y="493" width="4" height="4" fill="#fff"/>
<rect x="338" y="493" width="1" height="1" fill="#000"/>
<rect x="341" y="496" width="1" height="1" fill="#000"/>
<rect x="344" y="493" width="4" height="4" fill="#fff"/>
<rect x="344" y="493" width="1" height="1" fill="#000"/>
<rect x="344" y="496" width="1" height="1" fill="#000"/>
<rect x="351" y="493" width="4" height="4" fill="#fff"/>
<rect x="351" y="493" width="1" height="1" fill="#000"/>
<rect x="354" y="493" width="1" height="1" fill="#000"/>
<rect x="358" y="493" width="4" height="4" fill="#fff"/>
<rect x="358" y="493" width="1" height="1" fill="#000"/>
<rect x="358" y="496" width="1" height="1" fill="#000"/>
<rect x="365" y="493" width="4" height="4" fill="#fff"/>
<rect x="368" y="493" width="1" height="1" fill="#000"/>
<rect x="368" y="496" width="1" height="1" fill="#000"/>
<rect x="372" y="493" width="4" height="4" fill="#fff"/>
<rect x="372" y="496" width="1" height="1" fill="#000"/>
<rect x="375" y="496" width="1" height="1" fill="#000"/>
<rect x="379" y="493" width="4" height="4" fill="#fff"/>
<rect x="382" y="493" width="1" height="1" fill="#000"/>
<rect x="382" y="496" width="1" height="1" fill="#000"/>
<rect x="385" y="493" width="4" height="4" fill="#fff"/>
<rect x="392" y="493" width="4" height="4" fill="#fff"/>
<rect x="395" y="493" width="1" height="1" fill="#000"/>
<rect x="395" y="496" width="1" height="1" fill="#000"/>
<rect x="399" y="493" width="4" height="4" fill="#fff"/>
<rect x="399" y="493" width="1" height="1" fill="#000"/>
<rect x="402" y="493" width="1" height="1" fill="#000"/>
<rect x="406" y="493" width="4" height="4" fill="#fff"/>
<rect x="406" y="493" width="1" height="1" fill="#000"/>
<rect x="409" y="493" width="1" height="1" fill="#000"/>
<rect x="413" y="493" width="4" height="4" fill="#fff"/>
<rect x="413" y="493" width="1" height="1" fill="#000"/>
<rect x="416" y="493" width="1" height="1" fill="#000"/>
<circle cx="389" cy="471" r="2.6" fill="#000" shape-rendering="auto"/>
<rect x="352" y="441" width="29" height="19" fill="#000"/>
<rect x="350" y="442" width="33" height="17" fill="#000"/>
<rect x="352" y="443" width="29" height="15" fill="#fff"/>
<rect x="352" y="443" width="1" height="1" fill="#000"/>
<rect x="380" y="443" width="1" height="1" fill="#000"/>
<rect x="352" y="457" width="1" height="1" fill="#000"/>
<rect x="380" y="457" width="1" height="1" fill="#000"/>
<rect x="355" y="445" width="3" height="1" fill="#000"/>
<rect x="354" y="446" width="1" height="1" fill="#000"/>
<rect x="358" y="446" width="1" height="2" fill="#000"/>
<rect x="353" y="447" width="1" height="6" fill="#000"/>
<rect x="354" y="453" width="1" height="1" fill="#000"/>
<rect x="358" y="451" width="1" height="3" fill="#000"/>
<rect x="355" y="454" width="3" height="1" fill="#000"/>
<rect x="363" y="445" width="1" height="10" fill="#000"/>
<rect x="363" y="445" width="4" height="1" fill="#000"/>
<rect x="367" y="446" width="1" height="4" fill="#000"/>
<rect x="363" y="450" width="4" height="1" fill="#000"/>
<rect x="371" y="445" width="1" height="8" fill="#000"/>
<rect x="376" y="445" width="1" height="8" fill="#000"/>
<rect x="372" y="453" width="1" height="1" fill="#000"/>
<rect x="375" y="453" width="1" height="1" fill="#000"/>
<rect x="373" y="454" width="2" height="1" fill="#000"/>
<rect x="636" y="256" width="1" height="9" fill="#000"/>
<rect x="637" y="257" width="1" height="4" fill="#000"/>
<rect x="640" y="257" width="1" height="4" fill="#000"/>
<rect x="641" y="256" width="1" height="9" fill="#000"/>
<rect x="638" y="261" width="1" height="4" fill="#000"/>
<rect x="639" y="261" width="1" height="3" fill="#000"/>
<rect x="645" y="256" width="1" height="9" fill="#000"/>
<rect x="649" y="256" width="1" height="9" fill="#000"/>
<rect x="646" y="260" width="3" height="1" fill="#000"/>
<rect x="654" y="256" width="3" height="1" fill="#000"/>
<rect x="653" y="257" width="1" height="2" fill="#000"/>
<rect x="657" y="257" width="1" height="3" fill="#000"/>
<rect x="656" y="260" width="1" height="1" fill="#000"/>
<rect x="655" y="261" width="1" height="1" fill="#000"/>
<rect x="654" y="262" width="1" height="1" fill="#000"/>
<rect x="653" y="263" width="1" height="1" fill="#000"/>
<rect x="653" y="264" width="5" height="1" fill="#000"/>
<rect x="660" y="256" width="5" height="1" fill="#000"/>
<rect x="664" y="257" width="1" height="1" fill="#000"/>
<rect x="663" y="258" width="1" height="1" fill="#000"/>
<rect x="662" y="259" width="1" height="3" fill="#000"/>
<rect x="661" y="262" width="1" height="3" fill="#000"/>
<rect x="667" y="256" width="5" height="1" fill="#000"/>
<rect x="671" y="257" width="1" height="1" fill="#000"/>
<rect x="670" y="258" width="1" height="1" fill="#000"/>
<rect x="669" y="259" width="1" height="3" fill="#000"/>
<rect x="668" y="262" width="1" height="3" fill="#000"/>
<rect x="673" y="256" width="5" height="1" fill="#000"/>
<rect x="677" y="257" width="1" height="1" fill="#000"/>
<rect x="676" y="258" width="1" height="1" fill="#000"/>
<rect x="675" y="259" width="1" height="3" fill="#000"/>
<rect x="674" y="262" width="1" height="3" fill="#000"/>
<rect x="59" y="135" width="14" height="7" fill="#000"/>
<rect x="60" y="136" width="1" height="5" fill="#fff"/>
<rect x="65" y="136" width="1" height="5" fill="#fff"/>
<rect x="71" y="136" width="1" height="5" fill="#fff"/>
<rect x="59" y="147" width="14" height="7" fill="#000"/>
<rect x="60" y="148" width="1" height="5" fill="#fff"/>
<rect x="65" y="148" width="1" height="5" fill="#fff"/>
<rect x="71" y="148" width="1" height="5" fill="#fff"/>
<rect x="59" y="157" width="14" height="7" fill="#000"/>
<rect x="60" y="158" width="1" height="5" fill="#fff"/>
<rect x="65" y="158" width="1" height="5" fill="#fff"/>
<rect x="71" y="158" width="1" height="5" fill="#fff"/>
<rect x="59" y="169" width="14" height="7" fill="#000"/>
<rect x="60" y="170" width="1" height="5" fill="#fff"/>
<rect x="65" y="170" width="1" height="5" fill="#fff"/>
<rect x="71" y="170" width="1" height="5" fill="#fff"/>
<rect x="59" y="181" width="26" height="7" fill="#000"/>
<rect x="60" y="182" width="1" height="5" fill="#fff"/>
<rect x="66" y="182" width="1" height="5" fill="#fff"/>
<rect x="71" y="182" width="1" height="5" fill="#fff"/>
<rect x="77" y="182" width="1" height="5" fill="#fff"/>
<rect x="83" y="182" width="1" height="5" fill="#fff"/>
<rect x="80" y="183" width="2" height="3" fill="#fff"/>
<rect x="72" y="182" width="1" height="5" fill="#fff"/>
<rect x="631" y="37" width="30" height="19" fill="#000"/>
<rect x="632" y="38" width="28" height="1" fill="#fff"/>
<rect x="632" y="44" width="28" height="1" fill="#fff"/>
<rect x="632" y="49" width="28" height="1" fill="#fff"/>
<rect x="633" y="40" width="4" height="1" fill="#fff"/>
<rect x="633" y="42" width="4" height="1" fill="#fff"/>
<rect x="633" y="40" width="1" height="3" fill="#fff"/>
<rect x="636" y="40" width="1" height="3" fill="#fff"/>
<rect x="639" y="40" width="4" height="1" fill="#fff"/>
<rect x="639" y="42" width="4" height="1" fill="#fff"/>
<rect x="639" y="40" width="1" height="3" fill="#fff"/>
<rect x="642" y="40" width="1" height="3" fill="#fff"/>
<rect x="645" y="40" width="4" height="1" fill="#fff"/>
<rect x="645" y="42" width="4" height="1" fill="#fff"/>
<rect x="645" y="40" width="1" height="3" fill="#fff"/>
<rect x="648" y="40" width="1" height="3" fill="#fff"/>
<rect x="650" y="40" width="4" height="1" fill="#fff"/>
<rect x="650" y="42" width="4" height="1" fill="#fff"/>
<rect x="650" y="40" width="1" height="3" fill="#fff"/>
<rect x="653" y="40" width="1" height="3" fill="#fff"/>
<rect x="656" y="40" width="4" height="1" fill="#fff"/>
<rect x="656" y="42" width="4" height="1" fill="#fff"/>
<rect x="656" y="40" width="1" height="3" fill="#fff"/>
<rect x="659" y="40" width="1" height="3" fill="#fff"/>
<rect x="636" y="38" width="1" height="17" fill="#fff"/>
<rect x="643" y="38" width="1" height="17" fill="#fff"/>
<rect x="534" y="52" width="14" height="13" fill="#000"/>
<rect x="535" y="53" width="1" height="5" fill="#fff"/>
<rect x="535" y="59" width="1" height="5" fill="#fff"/>
<rect x="541" y="53" width="1" height="5" fill="#fff"/>
<rect x="541" y="59" width="1" height="5" fill="#fff"/>
<rect x="546" y="53" width="1" height="5" fill="#fff"/>
<rect x="546" y="59" width="1" height="5" fill="#fff"/>
<rect x="534" y="77" width="14" height="7" fill="#000"/>
<rect x="535" y="78" width="1" height="5" fill="#fff"/>
<rect x="541" y="78" width="1" height="5" fill="#fff"/>
<rect x="546" y="78" width="1" height="5" fill="#fff"/>
<rect x="435" y="109" width="7" height="26" fill="#000"/>
<rect x="436" y="110" width="1" height="24" fill="#fff"/>
<rect x="436" y="110" width="5" height="6" fill="#fff"/>
<rect x="438" y="112" width="2" height="2" fill="#000"/>
<rect x="436" y="121" width="5" height="1" fill="#fff"/>
<rect x="436" y="128" width="5" height="1" fill="#fff"/>
<rect x="436" y="133" width="5" height="1" fill="#fff"/>
<rect x="435" y="141" width="7" height="13" fill="#000"/>
<rect x="436" y="142" width="1" height="11" fill="#fff"/>
<rect x="436" y="147" width="5" height="1" fill="#fff"/>
<rect x="435" y="159" width="7" height="19" fill="#000"/>
<rect x="436" y="160" width="1" height="17" fill="#fff"/>
<rect x="436" y="160" width="5" height="6" fill="#fff"/>
<rect x="438" y="162" width="2" height="2" fill="#000"/>
<rect x="436" y="170" width="5" height="1" fill="#fff"/>
<rect x="379" y="149" width="20" height="7" fill="#000"/>
<rect x="380" y="150" width="1" height="5" fill="#fff"/>
<rect x="386" y="150" width="1" height="5" fill="#fff"/>
<rect x="391" y="150" width="1" height="5" fill="#fff"/>
<rect x="397" y="150" width="1" height="5" fill="#fff"/>
<rect x="380" y="154" width="18" height="1" fill="#fff"/>
<rect x="393" y="151" width="3" height="2" fill="#fff"/>
<rect x="477" y="181" width="7" height="13" fill="#000"/>
<rect x="478" y="187" width="5" height="1" fill="#fff"/>
<rect x="478" y="192" width="5" height="1" fill="#fff"/>
<rect x="336" y="200" width="14" height="7" fill="#000"/>
<rect x="337" y="201" width="1" height="5" fill="#fff"/>
<rect x="342" y="201" width="1" height="5" fill="#fff"/>
<rect x="348" y="201" width="1" height="5" fill="#fff"/>
<rect x="337" y="205" width="12" height="1" fill="#fff"/>
<rect x="395" y="240" width="7" height="1" fill="#000"/>
<rect x="395" y="253" width="7" height="1" fill="#000"/>
<rect x="395" y="240" width="1" height="14" fill="#000"/>
<rect x="401" y="240" width="1" height="14" fill="#000"/>
<rect x="397" y="242" width="4" height="5" fill="#000"/>
<rect x="397" y="248" width="4" height="4" fill="#000"/>
<rect x="616" y="212" width="7" height="14" fill="#000"/>
<rect x="617" y="213" width="5" height="1" fill="#fff"/>
<rect x="617" y="219" width="5" height="1" fill="#fff"/>
<rect x="617" y="224" width="5" height="1" fill="#fff"/>
<rect x="687" y="210" width="7" height="32" fill="#000"/>
<rect x="688" y="211" width="5" height="1" fill="#fff"/>
<rect x="688" y="216" width="5" height="1" fill="#fff"/>
<rect x="688" y="223" width="5" height="1" fill="#fff"/>
<rect x="688" y="229" width="5" height="1" fill="#fff"/>
<rect x="688" y="235" width="5" height="1" fill="#fff"/>
<rect x="688" y="240" width="5" height="1" fill="#fff"/>
<rect x="689" y="225" width="3" height="3" fill="#fff"/>
<rect x="669" y="365" width="13" height="14" fill="#000"/>
<rect x="670" y="366" width="5" height="1" fill="#fff"/>
<rect x="676" y="366" width="5" height="1" fill="#fff"/>
<rect x="670" y="372" width="5" height="1" fill="#fff"/>
<rect x="676" y="372" width="5" height="1" fill="#fff"/>
<rect x="670" y="377" width="5" height="1" fill="#fff"/>
<rect x="676" y="377" width="5" height="1" fill="#fff"/>
<rect x="197" y="332" width="7" height="19" fill="#000"/>
<rect x="198" y="338" width="5" height="1" fill="#fff"/>
<rect x="198" y="344" width="5" height="1" fill="#fff"/>
<rect x="198" y="349" width="5" height="1" fill="#fff"/>
<rect x="199" y="334" width="3" height="3" fill="#fff"/>
<rect x="195" y="350" width="7" height="20" fill="#000"/>
<rect x="196" y="356" width="5" height="1" fill="#fff"/>
<rect x="196" y="362" width="5" height="1" fill="#fff"/>
<rect x="196" y="367" width="5" height="1" fill="#fff"/>
<rect x="197" y="352" width="3" height="3" fill="#fff"/>
<rect x="150" y="446" width="19" height="19" fill="#000"/>
<rect x="151" y="447" width="17" height="1" fill="#fff"/>
<rect x="151" y="463" width="17" height="1" fill="#fff"/>
<rect x="156" y="448" width="1" height="15" fill="#fff"/>
<rect x="161" y="448" width="2" height="15" fill="#fff"/>
<rect x="167" y="448" width="1" height="15" fill="#fff"/>
<rect x="156" y="452" width="12" height="1" fill="#000"/>
<rect x="156" y="458" width="12" height="1" fill="#000"/>
<rect x="164" y="449" width="2" height="2" fill="#fff"/>
<rect x="164" y="454" width="2" height="3" fill="#fff"/>
<rect x="164" y="460" width="2" height="2" fill="#fff"/>
<rect x="144" y="510" width="14" height="13" fill="#000"/>
<rect x="145" y="511" width="1" height="5" fill="#fff"/>
<rect x="145" y="517" width="1" height="5" fill="#fff"/>
<rect x="150" y="511" width="1" height="5" fill="#fff"/>
<rect x="150" y="517" width="1" height="5" fill="#fff"/>
<rect x="155" y="511" width="1" height="5" fill="#fff"/>
<rect x="155" y="517" width="1" height="5" fill="#fff"/>
<rect x="165" y="510" width="14" height="13" fill="#000"/>
<rect x="166" y="511" width="1" height="5" fill="#fff"/>
<rect x="166" y="517" width="1" height="5" fill="#fff"/>
<rect x="171" y="511" width="1" height="5" fill="#fff"/>
<rect x="171" y="517" width="1" height="5" fill="#fff"/>
<rect x="187" y="510" width="19" height="13" fill="#000"/>
<rect x="193" y="511" width="1" height="5" fill="#fff"/>
<rect x="193" y="517" width="1" height="5" fill="#fff"/>
<rect x="198" y="511" width="1" height="5" fill="#fff"/>
<rect x="198" y="517" width="1" height="5" fill="#fff"/>
<rect x="204" y="511" width="1" height="5" fill="#fff"/>
<rect x="204" y="517" width="1" height="5" fill="#fff"/>
<rect x="200" y="512" width="3" height="3" fill="#fff"/>
<rect x="200" y="518" width="3" height="3" fill="#fff"/>
<rect x="305" y="513" width="26" height="7" fill="#000"/>
<rect x="306" y="514" width="1" height="5" fill="#fff"/>
<rect x="312" y="514" width="1" height="5" fill="#fff"/>
<rect x="318" y="514" width="1" height="5" fill="#fff"/>
<rect x="323" y="514" width="1" height="5" fill="#fff"/>
<rect x="329" y="514" width="1" height="5" fill="#fff"/>
<rect x="306" y="514" width="24" height="1" fill="#fff"/>
<rect x="325" y="515" width="4" height="1" fill="#fff"/>
<rect x="325" y="518" width="4" height="1" fill="#fff"/>
<rect x="325" y="515" width="1" height="4" fill="#fff"/>
<rect x="328" y="515" width="1" height="4" fill="#fff"/>
<rect x="335" y="513" width="13" height="7" fill="#000"/>
<rect x="336" y="514" width="1" height="5" fill="#fff"/>
<rect x="341" y="514" width="1" height="5" fill="#fff"/>
<rect x="346" y="514" width="1" height="5" fill="#fff"/>
<rect x="336" y="514" width="11" height="1" fill="#fff"/>
<rect x="353" y="513" width="19" height="7" fill="#000"/>
<rect x="354" y="514" width="1" height="5" fill="#fff"/>
<rect x="359" y="514" width="1" height="5" fill="#fff"/>
<rect x="364" y="514" width="1" height="5" fill="#fff"/>
<rect x="370" y="514" width="1" height="5" fill="#fff"/>
<rect x="354" y="514" width="17" height="1" fill="#fff"/>
<rect x="366" y="516" width="3" height="2" fill="#fff"/>
<rect x="376" y="513" width="14" height="7" fill="#000"/>
<rect x="377" y="514" width="1" height="5" fill="#fff"/>
<rect x="382" y="514" width="1" height="5" fill="#fff"/>
<rect x="388" y="514" width="1" height="5" fill="#fff"/>
<rect x="377" y="514" width="12" height="1" fill="#fff"/>
<rect x="393" y="513" width="19" height="7" fill="#000"/>
<rect x="394" y="514" width="1" height="5" fill="#fff"/>
<rect x="399" y="514" width="1" height="5" fill="#fff"/>
<rect x="405" y="514" width="1" height="5" fill="#fff"/>
<rect x="410" y="514" width="1" height="5" fill="#fff"/>
<rect x="394" y="514" width="17" height="1" fill="#fff"/>
<rect x="406" y="516" width="3" height="2" fill="#fff"/>
<rect x="5" y="129" width="38" height="19" fill="#000"/>
<rect x="3" y="130" width="42" height="17" fill="#000"/>
<rect x="5" y="131" width="38" height="15" fill="#fff"/>
<rect x="5" y="131" width="1" height="1" fill="#000"/>
<rect x="42" y="131" width="1" height="1" fill="#000"/>
<rect x="5" y="145" width="1" height="1" fill="#000"/>
<rect x="42" y="145" width="1" height="1" fill="#000"/>
<rect x="11" y="133" width="1" height="9" fill="#000"/>
<rect x="9" y="142" width="2" height="1" fill="#000"/>
<rect x="8" y="140" width="1" height="2" fill="#000"/>
<rect x="16" y="133" width="1" height="10" fill="#000"/>
<rect x="16" y="133" width="4" height="1" fill="#000"/>
<rect x="20" y="134" width="1" height="4" fill="#000"/>
<rect x="16" y="138" width="4" height="1" fill="#000"/>
<rect x="27" y="134" width="1" height="9" fill="#000"/>
<rect x="26" y="136" width="1" height="1" fill="#000"/>
<rect x="25" y="137" width="1" height="2" fill="#000"/>
<rect x="24" y="139" width="1" height="2" fill="#000"/>
<rect x="24" y="140" width="5" height="1" fill="#000"/>
<rect x="33" y="134" width="4" height="1" fill="#000"/>
<rect x="32" y="135" width="1" height="4" fill="#000"/>
<rect x="33" y="137" width="3" height="1" fill="#000"/>
<rect x="36" y="138" width="1" height="4" fill="#000"/>
<rect x="33" y="142" width="3" height="1" fill="#000"/>
<rect x="32" y="141" width="1" height="1" fill="#000"/>
<rect x="5" y="150" width="38" height="19" fill="#000"/>
<rect x="3" y="151" width="42" height="17" fill="#000"/>
<rect x="5" y="152" width="38" height="15" fill="#fff"/>
<rect x="5" y="152" width="1" height="1" fill="#000"/>
<rect x="42" y="152" width="1" height="1" fill="#000"/>
<rect x="5" y="166" width="1" height="1" fill="#000"/>
<rect x="42" y="166" width="1" height="1" fill="#000"/>
<rect x="11" y="154" width="1" height="9" fill="#000"/>
<rect x="9" y="163" width="2" height="1" fill="#000"/>
<rect x="8" y="161" width="1" height="2" fill="#000"/>
<rect x="16" y="154" width="1" height="10" fill="#000"/>
<rect x="16" y="154" width="4" height="1" fill="#000"/>
<rect x="20" y="155" width="1" height="4" fill="#000"/>
<rect x="16" y="159" width="4" height="1" fill="#000"/>
<rect x="27" y="155" width="1" height="9" fill="#000"/>
<rect x="26" y="157" width="1" height="1" fill="#000"/>
<rect x="25" y="158" width="1" height="2" fill="#000"/>
<rect x="24" y="160" width="1" height="2" fill="#000"/>
<rect x="24" y="161" width="5" height="1" fill="#000"/>
<rect x="34" y="155" width="2" height="1" fill="#000"/>
<rect x="33" y="156" width="1" height="1" fill="#000"/>
<rect x="36" y="156" width="1" height="1" fill="#000"/>
<rect x="32" y="157" width="1" height="5" fill="#000"/>
<rect x="33" y="158" width="3" height="1" fill="#000"/>
<rect x="36" y="159" width="1" height="4" fill="#000"/>
<rect x="33" y="162" width="1" height="1" fill="#000"/>
<rect x="34" y="163" width="2" height="1" fill="#000"/>
<rect x="21" y="175" width="22" height="19" fill="#000"/>
<rect x="19" y="176" width="26" height="17" fill="#000"/>
<rect x="21" y="177" width="22" height="15" fill="#fff"/>
<rect x="21" y="177" width="1" height="1" fill="#000"/>
<rect x="42" y="177" width="1" height="1" fill="#000"/>
<rect x="21" y="191" width="1" height="1" fill="#000"/>
<rect x="42" y="191" width="1" height="1" fill="#000"/>
<rect x="28" y="178" width="1" height="9" fill="#000"/>
<rect x="26" y="187" width="2" height="1" fill="#000"/>
<rect x="25" y="185" width="1" height="2" fill="#000"/>
<rect x="33" y="179" width="3" height="1" fill="#000"/>
<rect x="32" y="180" width="1" height="4" fill="#000"/>
<rect x="36" y="180" width="1" height="6" fill="#000"/>
<rect x="33" y="184" width="3" height="1" fill="#000"/>
<rect x="35" y="186" width="1" height="1" fill="#000"/>
<rect x="32" y="186" width="1" height="1" fill="#000"/>
<rect x="33" y="187" width="2" height="1" fill="#000"/>
<rect x="89" y="141" width="32" height="19" fill="#000"/>
<rect x="87" y="142" width="36" height="17" fill="#000"/>
<rect x="89" y="143" width="32" height="15" fill="#fff"/>
<rect x="89" y="143" width="1" height="1" fill="#000"/>
<rect x="120" y="143" width="1" height="1" fill="#000"/>
<rect x="89" y="157" width="1" height="1" fill="#000"/>
<rect x="120" y="157" width="1" height="1" fill="#000"/>
<rect x="97" y="145" width="1" height="9" fill="#000"/>
<rect x="95" y="154" width="2" height="1" fill="#000"/>
<rect x="94" y="152" width="1" height="2" fill="#000"/>
<rect x="104" y="146" width="1" height="9" fill="#000"/>
<rect x="102" y="148" width="2" height="1" fill="#000"/>
<rect x="110" y="146" width="1" height="1" fill="#000"/>
<rect x="109" y="147" width="1" height="1" fill="#000"/>
<rect x="111" y="147" width="1" height="1" fill="#000"/>
<rect x="108" y="148" width="1" height="5" fill="#000"/>
<rect x="112" y="148" width="1" height="5" fill="#000"/>
<rect x="109" y="153" width="1" height="1" fill="#000"/>
<rect x="111" y="153" width="1" height="1" fill="#000"/>
<rect x="110" y="154" width="1" height="1" fill="#000"/>
<rect x="89" y="163" width="32" height="19" fill="#000"/>
<rect x="87" y="164" width="36" height="17" fill="#000"/>
<rect x="89" y="165" width="32" height="15" fill="#fff"/>
<rect x="89" y="165" width="1" height="1" fill="#000"/>
<rect x="120" y="165" width="1" height="1" fill="#000"/>
<rect x="89" y="179" width="1" height="1" fill="#000"/>
<rect x="120" y="179" width="1" height="1" fill="#000"/>
<rect x="97" y="167" width="1" height="9" fill="#000"/>
<rect x="95" y="176" width="2" height="1" fill="#000"/>
<rect x="94" y="174" width="1" height="2" fill="#000"/>
<rect x="104" y="168" width="1" height="9" fill="#000"/>
<rect x="102" y="170" width="2" height="1" fill="#000"/>
<rect x="111" y="168" width="1" height="9" fill="#000"/>
<rect x="109" y="170" width="2" height="1" fill="#000"/>
<rect x="633" y="3" width="29" height="19" fill="#000"/>
<rect x="631" y="4" width="33" height="17" fill="#000"/>
<rect x="633" y="5" width="29" height="15" fill="#fff"/>
<rect x="633" y="5" width="1" height="1" fill="#000"/>
<rect x="661" y="5" width="1" height="1" fill="#000"/>
<rect x="633" y="19" width="1" height="1" fill="#000"/>
<rect x="661" y="19" width="1" height="1" fill="#000"/>
<rect x="640" y="7" width="1" height="9" fill="#000"/>
<rect x="638" y="16" width="2" height="1" fill="#000"/>
<rect x="637" y="14" width="1" height="2" fill="#000"/>
<rect x="645" y="7" width="1" height="10" fill="#000"/>
<rect x="645" y="7" width="4" height="1" fill="#000"/>
<rect x="649" y="8" width="1" height="4" fill="#000"/>
<rect x="645" y="12" width="4" height="1" fill="#000"/>
<rect x="655" y="8" width="1" height="9" fill="#000"/>
<rect x="653" y="10" width="2" height="1" fill="#000"/>
<rect x="583" y="36" width="31" height="19" fill="#000"/>
<rect x="581" y="37" width="35" height="17" fill="#000"/>
<rect x="583" y="38" width="31" height="15" fill="#fff"/>
<rect x="583" y="38" width="1" height="1" fill="#000"/>
<rect x="613" y="38" width="1" height="1" fill="#000"/>
<rect x="583" y="52" width="1" height="1" fill="#000"/>
<rect x="613" y="52" width="1" height="1" fill="#000"/>
<rect x="590" y="40" width="1" height="9" fill="#000"/>
<rect x="588" y="49" width="2" height="1" fill="#000"/>
<rect x="587" y="47" width="1" height="2" fill="#000"/>
<rect x="595" y="40" width="1" height="10" fill="#000"/>
<rect x="595" y="40" width="4" height="1" fill="#000"/>
<rect x="599" y="41" width="1" height="4" fill="#000"/>
<rect x="595" y="45" width="4" height="1" fill="#000"/>
<rect x="604" y="41" width="5" height="1" fill="#000"/>
<rect x="608" y="42" width="1" height="1" fill="#000"/>
<rect x="607" y="43" width="1" height="1" fill="#000"/>
<rect x="606" y="44" width="1" height="3" fill="#000"/>
<rect x="605" y="47" width="1" height="3" fill="#000"/>
<rect x="677" y="37" width="32" height="19" fill="#000"/>
<rect x="675" y="38" width="36" height="17" fill="#000"/>
<rect x="677" y="39" width="32" height="15" fill="#fff"/>
<rect x="677" y="39" width="1" height="1" fill="#000"/>
<rect x="708" y="39" width="1" height="1" fill="#000"/>
<rect x="677" y="53" width="1" height="1" fill="#000"/>
<rect x="708" y="53" width="1" height="1" fill="#000"/>
<rect x="685" y="41" width="1" height="9" fill="#000"/>
<rect x="683" y="50" width="2" height="1" fill="#000"/>
<rect x="682" y="48" width="1" height="2" fill="#000"/>
<rect x="690" y="41" width="1" height="10" fill="#000"/>
<rect x="690" y="41" width="4" height="1" fill="#000"/>
<rect x="694" y="42" width="1" height="4" fill="#000"/>
<rect x="690" y="46" width="4" height="1" fill="#000"/>
<rect x="700" y="42" width="3" height="1" fill="#000"/>
<rect x="699" y="43" width="1" height="2" fill="#000"/>
<rect x="703" y="43" width="1" height="3" fill="#000"/>
<rect x="701" y="46" width="2" height="1" fill="#000"/>
<rect x="703" y="47" width="1" height="3" fill="#000"/>
<rect x="699" y="48" width="1" height="2" fill="#000"/>
<rect x="700" y="50" width="3" height="1" fill="#000"/>
<rect x="602" y="62" width="31" height="19" fill="#000"/>
<rect x="600" y="63" width="35" height="17" fill="#000"/>
<rect x="602" y="64" width="31" height="15" fill="#fff"/>
<rect x="602" y="64" width="1" height="1" fill="#000"/>
<rect x="632" y="64" width="1" height="1" fill="#000"/>
<rect x="602" y="78" width="1" height="1" fill="#000"/>
<rect x="632" y="78" width="1" height="1" fill="#000"/>
<rect x="608" y="66" width="1" height="9" fill="#000"/>
<rect x="606" y="75" width="2" height="1" fill="#000"/>
<rect x="605" y="73" width="1" height="2" fill="#000"/>
<rect x="614" y="66" width="1" height="10" fill="#000"/>
<rect x="614" y="66" width="4" height="1" fill="#000"/>
<rect x="618" y="67" width="1" height="4" fill="#000"/>
<rect x="614" y="71" width="4" height="1" fill="#000"/>
<rect x="623" y="67" width="3" height="1" fill="#000"/>
<rect x="622" y="68" width="1" height="2" fill="#000"/>
<rect x="626" y="68" width="1" height="3" fill="#000"/>
<rect x="625" y="71" width="1" height="1" fill="#000"/>
<rect x="624" y="72" width="1" height="1" fill="#000"/>
<rect x="623" y="73" width="1" height="1" fill="#000"/>
<rect x="622" y="74" width="1" height="1" fill="#000"/>
<rect x="622" y="75" width="5" height="1" fill="#000"/>
<rect x="659" y="62" width="31" height="19" fill="#000"/>
<rect x="657" y="63" width="35" height="17" fill="#000"/>
<rect x="659" y="64" width="31" height="15" fill="#fff"/>
<rect x="659" y="64" width="1" height="1" fill="#000"/>
<rect x="689" y="64" width="1" height="1" fill="#000"/>
<rect x="659" y="78" width="1" height="1" fill="#000"/>
<rect x="689" y="78" width="1" height="1" fill="#000"/>
<rect x="665" y="66" width="1" height="9" fill="#000"/>
<rect x="663" y="75" width="2" height="1" fill="#000"/>
<rect x="662" y="73" width="1" height="2" fill="#000"/>
<rect x="670" y="66" width="1" height="10" fill="#000"/>
<rect x="670" y="66" width="4" height="1" fill="#000"/>
<rect x="674" y="67" width="1" height="4" fill="#000"/>
<rect x="670" y="71" width="4" height="1" fill="#000"/>
<rect x="682" y="67" width="1" height="9" fill="#000"/>
<rect x="681" y="69" width="1" height="1" fill="#000"/>
<rect x="680" y="70" width="1" height="2" fill="#000"/>
<rect x="679" y="72" width="1" height="2" fill="#000"/>
<rect x="679" y="73" width="5" height="1" fill="#000"/>
<rect x="488" y="29" width="38" height="19" fill="#000"/>
<rect x="486" y="30" width="42" height="17" fill="#000"/>
<rect x="488" y="31" width="38" height="15" fill="#fff"/>
<rect x="488" y="31" width="1" height="1" fill="#000"/>
<rect x="525" y="31" width="1" height="1" fill="#000"/>
<rect x="488" y="45" width="1" height="1" fill="#000"/>
<rect x="525" y="45" width="1" height="1" fill="#000"/>
<rect x="493" y="33" width="1" height="9" fill="#000"/>
<rect x="491" y="42" width="2" height="1" fill="#000"/>
<rect x="490" y="40" width="1" height="2" fill="#000"/>
<rect x="499" y="33" width="1" height="10" fill="#000"/>
<rect x="499" y="33" width="4" height="1" fill="#000"/>
<rect x="503" y="34" width="1" height="4" fill="#000"/>
<rect x="499" y="38" width="4" height="1" fill="#000"/>
<rect x="508" y="34" width="3" height="1" fill="#000"/>
<rect x="507" y="35" width="1" height="2" fill="#000"/>
<rect x="511" y="35" width="1" height="3" fill="#000"/>
<rect x="510" y="38" width="1" height="1" fill="#000"/>
<rect x="509" y="39" width="1" height="1" fill="#000"/>
<rect x="508" y="40" width="1" height="1" fill="#000"/>
<rect x="507" y="41" width="1" height="1" fill="#000"/>
<rect x="507" y="42" width="5" height="1" fill="#000"/>
<rect x="517" y="34" width="1" height="9" fill="#000"/>
<rect x="515" y="36" width="2" height="1" fill="#000"/>
<rect x="480" y="52" width="38" height="19" fill="#000"/>
<rect x="478" y="53" width="42" height="17" fill="#000"/>
<rect x="480" y="54" width="38" height="15" fill="#fff"/>
<rect x="480" y="54" width="1" height="1" fill="#000"/>
<rect x="517" y="54" width="1" height="1" fill="#000"/>
<rect x="480" y="68" width="1" height="1" fill="#000"/>
<rect x="517" y="68" width="1" height="1" fill="#000"/>
<rect x="488" y="56" width="1" height="9" fill="#000"/>
<rect x="486" y="65" width="2" height="1" fill="#000"/>
<rect x="485" y="63" width="1" height="2" fill="#000"/>
<rect x="493" y="56" width="1" height="10" fill="#000"/>
<rect x="493" y="56" width="4" height="1" fill="#000"/>
<rect x="497" y="57" width="1" height="4" fill="#000"/>
<rect x="493" y="61" width="4" height="1" fill="#000"/>
<rect x="502" y="57" width="3" height="1" fill="#000"/>
<rect x="501" y="58" width="1" height="2" fill="#000"/>
<rect x="505" y="58" width="1" height="3" fill="#000"/>
<rect x="504" y="61" width="1" height="1" fill="#000"/>
<rect x="503" y="62" width="1" height="1" fill="#000"/>
<rect x="502" y="63" width="1" height="1" fill="#000"/>
<rect x="501" y="64" width="1" height="1" fill="#000"/>
<rect x="501" y="65" width="5" height="1" fill="#000"/>
<rect x="510" y="57" width="3" height="1" fill="#000"/>
<rect x="509" y="58" width="1" height="2" fill="#000"/>
<rect x="513" y="58" width="1" height="3" fill="#000"/>
<rect x="512" y="61" width="1" height="1" fill="#000"/>
<rect x="511" y="62" width="1" height="1" fill="#000"/>
<rect x="510" y="63" width="1" height="1" fill="#000"/>
<rect x="509" y="64" width="1" height="1" fill="#000"/>
<rect x="509" y="65" width="5" height="1" fill="#000"/>
<rect x="488" y="87" width="38" height="19" fill="#000"/>
<rect x="486" y="88" width="42" height="17" fill="#000"/>
<rect x="488" y="89" width="38" height="15" fill="#fff"/>
<rect x="488" y="89" width="1" height="1" fill="#000"/>
<rect x="525" y="89" width="1" height="1" fill="#000"/>
<rect x="488" y="103" width="1" height="1" fill="#000"/>
<rect x="525" y="103" width="1" height="1" fill="#000"/>
<rect x="493" y="91" width="1" height="9" fill="#000"/>
<rect x="491" y="100" width="2" height="1" fill="#000"/>
<rect x="490" y="98" width="1" height="2" fill="#000"/>
<rect x="498" y="91" width="1" height="10" fill="#000"/>
<rect x="498" y="91" width="4" height="1" fill="#000"/>
<rect x="502" y="92" width="1" height="4" fill="#000"/>
<rect x="498" y="96" width="4" height="1" fill="#000"/>
<rect x="509" y="92" width="1" height="9" fill="#000"/>
<rect x="508" y="94" width="1" height="1" fill="#000"/>
<rect x="507" y="95" width="1" height="2" fill="#000"/>
<rect x="506" y="97" width="1" height="2" fill="#000"/>
<rect x="506" y="98" width="5" height="1" fill="#000"/>
<rect x="514" y="92" width="5" height="1" fill="#000"/>
<rect x="518" y="93" width="1" height="1" fill="#000"/>
<rect x="517" y="94" width="1" height="1" fill="#000"/>
<rect x="516" y="95" width="1" height="3" fill="#000"/>
<rect x="515" y="98" width="1" height="3" fill="#000"/>
<rect x="397" y="112" width="22" height="19" fill="#000"/>
<rect x="395" y="113" width="26" height="17" fill="#000"/>
<rect x="397" y="114" width="22" height="15" fill="#fff"/>
<rect x="397" y="114" width="1" height="1" fill="#000"/>
<rect x="418" y="114" width="1" height="1" fill="#000"/>
<rect x="397" y="128" width="1" height="1" fill="#000"/>
<rect x="418" y="128" width="1" height="1" fill="#000"/>
<rect x="404" y="115" width="1" height="9" fill="#000"/>
<rect x="402" y="124" width="2" height="1" fill="#000"/>
<rect x="401" y="122" width="1" height="2" fill="#000"/>
<rect x="410" y="116" width="2" height="1" fill="#000"/>
<rect x="409" y="117" width="1" height="3" fill="#000"/>
<rect x="412" y="117" width="1" height="3" fill="#000"/>
<rect x="409" y="120" width="3" height="1" fill="#000"/>
<rect x="408" y="121" width="1" height="3" fill="#000"/>
<rect x="412" y="121" width="1" height="3" fill="#000"/>
<rect x="409" y="124" width="3" height="1" fill="#000"/>
<rect x="459" y="139" width="38" height="19" fill="#000"/>
<rect x="457" y="140" width="42" height="17" fill="#000"/>
<rect x="459" y="141" width="38" height="15" fill="#fff"/>
<rect x="459" y="141" width="1" height="1" fill="#000"/>
<rect x="496" y="141" width="1" height="1" fill="#000"/>
<rect x="459" y="155" width="1" height="1" fill="#000"/>
<rect x="496" y="155" width="1" height="1" fill="#000"/>
<rect x="465" y="143" width="1" height="9" fill="#000"/>
<rect x="463" y="152" width="2" height="1" fill="#000"/>
<rect x="462" y="150" width="1" height="2" fill="#000"/>
<rect x="470" y="143" width="1" height="10" fill="#000"/>
<rect x="470" y="143" width="4" height="1" fill="#000"/>
<rect x="474" y="144" width="1" height="4" fill="#000"/>
<rect x="470" y="148" width="4" height="1" fill="#000"/>
<rect x="479" y="144" width="3" height="1" fill="#000"/>
<rect x="478" y="145" width="1" height="2" fill="#000"/>
<rect x="482" y="145" width="1" height="3" fill="#000"/>
<rect x="481" y="148" width="1" height="1" fill="#000"/>
<rect x="480" y="149" width="1" height="1" fill="#000"/>
<rect x="479" y="150" width="1" height="1" fill="#000"/>
<rect x="478" y="151" width="1" height="1" fill="#000"/>
<rect x="478" y="152" width="5" height="1" fill="#000"/>
<rect x="489" y="144" width="1" height="9" fill="#000"/>
<rect x="488" y="146" width="1" height="1" fill="#000"/>
<rect x="487" y="147" width="1" height="2" fill="#000"/>
<rect x="486" y="149" width="1" height="2" fill="#000"/>
<rect x="486" y="150" width="5" height="1" fill="#000"/>
<rect x="369" y="173" width="39" height="18" fill="#000"/>
<rect x="367" y="174" width="43" height="16" fill="#000"/>
<rect x="369" y="175" width="39" height="14" fill="#fff"/>
<rect x="369" y="175" width="1" height="1" fill="#000"/>
<rect x="407" y="175" width="1" height="1" fill="#000"/>
<rect x="369" y="188" width="1" height="1" fill="#000"/>
<rect x="407" y="188" width="1" height="1" fill="#000"/>
<rect x="375" y="177" width="1" height="9" fill="#000"/>
<rect x="373" y="186" width="2" height="1" fill="#000"/>
<rect x="372" y="184" width="1" height="2" fill="#000"/>
<rect x="380" y="177" width="1" height="10" fill="#000"/>
<rect x="380" y="177" width="4" height="1" fill="#000"/>
<rect x="384" y="178" width="1" height="4" fill="#000"/>
<rect x="380" y="182" width="4" height="1" fill="#000"/>
<rect x="390" y="178" width="3" height="1" fill="#000"/>
<rect x="389" y="179" width="1" height="2" fill="#000"/>
<rect x="393" y="179" width="1" height="3" fill="#000"/>
<rect x="392" y="182" width="1" height="1" fill="#000"/>
<rect x="391" y="183" width="1" height="1" fill="#000"/>
<rect x="390" y="184" width="1" height="1" fill="#000"/>
<rect x="389" y="185" width="1" height="1" fill="#000"/>
<rect x="389" y="186" width="5" height="1" fill="#000"/>
<rect x="398" y="178" width="3" height="1" fill="#000"/>
<rect x="397" y="179" width="1" height="4" fill="#000"/>
<rect x="401" y="179" width="1" height="6" fill="#000"/>
<rect x="398" y="183" width="3" height="1" fill="#000"/>
<rect x="400" y="185" width="1" height="1" fill="#000"/>
<rect x="397" y="185" width="1" height="1" fill="#000"/>
<rect x="398" y="186" width="2" height="1" fill="#000"/>
<rect x="420" y="195" width="39" height="18" fill="#000"/>
<rect x="418" y="196" width="43" height="16" fill="#000"/>
<rect x="420" y="197" width="39" height="14" fill="#fff"/>
<rect x="420" y="197" width="1" height="1" fill="#000"/>
<rect x="458" y="197" width="1" height="1" fill="#000"/>
<rect x="420" y="210" width="1" height="1" fill="#000"/>
<rect x="458" y="210" width="1" height="1" fill="#000"/>
<rect x="427" y="199" width="1" height="9" fill="#000"/>
<rect x="425" y="208" width="2" height="1" fill="#000"/>
<rect x="424" y="206" width="1" height="2" fill="#000"/>
<rect x="432" y="199" width="1" height="10" fill="#000"/>
<rect x="432" y="199" width="4" height="1" fill="#000"/>
<rect x="436" y="200" width="1" height="4" fill="#000"/>
<rect x="432" y="204" width="4" height="1" fill="#000"/>
<rect x="441" y="200" width="3" height="1" fill="#000"/>
<rect x="440" y="201" width="1" height="2" fill="#000"/>
<rect x="444" y="201" width="1" height="3" fill="#000"/>
<rect x="443" y="204" width="1" height="1" fill="#000"/>
<rect x="442" y="205" width="1" height="1" fill="#000"/>
<rect x="441" y="206" width="1" height="1" fill="#000"/>
<rect x="440" y="207" width="1" height="1" fill="#000"/>
<rect x="440" y="208" width="5" height="1" fill="#000"/>
<rect x="449" y="200" width="4" height="1" fill="#000"/>
<rect x="448" y="201" width="1" height="4" fill="#000"/>
<rect x="449" y="203" width="3" height="1" fill="#000"/>
<rect x="452" y="204" width="1" height="4" fill="#000"/>
<rect x="449" y="208" width="3" height="1" fill="#000"/>
<rect x="448" y="207" width="1" height="1" fill="#000"/>
<rect x="500" y="178" width="38" height="19" fill="#000"/>
<rect x="498" y="179" width="42" height="17" fill="#000"/>
<rect x="500" y="180" width="38" height="15" fill="#fff"/>
<rect x="500" y="180" width="1" height="1" fill="#000"/>
<rect x="537" y="180" width="1" height="1" fill="#000"/>
<rect x="500" y="194" width="1" height="1" fill="#000"/>
<rect x="537" y="194" width="1" height="1" fill="#000"/>
<rect x="507" y="182" width="1" height="9" fill="#000"/>
<rect x="505" y="191" width="2" height="1" fill="#000"/>
<rect x="504" y="189" width="1" height="2" fill="#000"/>
<rect x="512" y="182" width="1" height="10" fill="#000"/>
<rect x="512" y="182" width="4" height="1" fill="#000"/>
<rect x="516" y="183" width="1" height="4" fill="#000"/>
<rect x="512" y="187" width="4" height="1" fill="#000"/>
<rect x="522" y="183" width="3" height="1" fill="#000"/>
<rect x="521" y="184" width="1" height="2" fill="#000"/>
<rect x="525" y="184" width="1" height="3" fill="#000"/>
<rect x="524" y="187" width="1" height="1" fill="#000"/>
<rect x="523" y="188" width="1" height="1" fill="#000"/>
<rect x="522" y="189" width="1" height="1" fill="#000"/>
<rect x="521" y="190" width="1" height="1" fill="#000"/>
<rect x="521" y="191" width="5" height="1" fill="#000"/>
<rect x="530" y="183" width="3" height="1" fill="#000"/>
<rect x="529" y="184" width="1" height="2" fill="#000"/>
<rect x="533" y="184" width="1" height="3" fill="#000"/>
<rect x="531" y="187" width="2" height="1" fill="#000"/>
<rect x="533" y="188" width="1" height="3" fill="#000"/>
<rect x="529" y="189" width="1" height="2" fill="#000"/>
<rect x="530" y="191" width="3" height="1" fill="#000"/>
<rect x="282" y="193" width="38" height="19" fill="#000"/>
<rect x="280" y="194" width="42" height="17" fill="#000"/>
<rect x="282" y="195" width="38" height="15" fill="#fff"/>
<rect x="282" y="195" width="1" height="1" fill="#000"/>
<rect x="319" y="195" width="1" height="1" fill="#000"/>
<rect x="282" y="209" width="1" height="1" fill="#000"/>
<rect x="319" y="209" width="1" height="1" fill="#000"/>
<rect x="287" y="197" width="1" height="9" fill="#000"/>
<rect x="285" y="206" width="2" height="1" fill="#000"/>
<rect x="284" y="204" width="1" height="2" fill="#000"/>
<rect x="292" y="197" width="1" height="10" fill="#000"/>
<rect x="292" y="197" width="4" height="1" fill="#000"/>
<rect x="296" y="198" width="1" height="4" fill="#000"/>
<rect x="292" y="202" width="4" height="1" fill="#000"/>
<rect x="301" y="198" width="3" height="1" fill="#000"/>
<rect x="300" y="199" width="1" height="2" fill="#000"/>
<rect x="304" y="199" width="1" height="3" fill="#000"/>
<rect x="302" y="202" width="2" height="1" fill="#000"/>
<rect x="304" y="203" width="1" height="3" fill="#000"/>
<rect x="300" y="204" width="1" height="2" fill="#000"/>
<rect x="301" y="206" width="3" height="1" fill="#000"/>
<rect x="309" y="198" width="3" height="1" fill="#000"/>
<rect x="308" y="199" width="1" height="2" fill="#000"/>
<rect x="312" y="199" width="1" height="3" fill="#000"/>
<rect x="310" y="202" width="2" height="1" fill="#000"/>
<rect x="312" y="203" width="1" height="3" fill="#000"/>
<rect x="308" y="204" width="1" height="2" fill="#000"/>
<rect x="309" y="206" width="3" height="1" fill="#000"/>
<rect x="341" y="237" width="38" height="19" fill="#000"/>
<rect x="339" y="238" width="42" height="17" fill="#000"/>
<rect x="341" y="239" width="38" height="15" fill="#fff"/>
<rect x="341" y="239" width="1" height="1" fill="#000"/>
<rect x="378" y="239" width="1" height="1" fill="#000"/>
<rect x="341" y="253" width="1" height="1" fill="#000"/>
<rect x="378" y="253" width="1" height="1" fill="#000"/>
<rect x="347" y="241" width="1" height="9" fill="#000"/>
<rect x="345" y="250" width="2" height="1" fill="#000"/>
<rect x="344" y="248" width="1" height="2" fill="#000"/>
<rect x="352" y="241" width="1" height="10" fill="#000"/>
<rect x="352" y="241" width="4" height="1" fill="#000"/>
<rect x="356" y="242" width="1" height="4" fill="#000"/>
<rect x="352" y="246" width="4" height="1" fill="#000"/>
<rect x="361" y="242" width="3" height="1" fill="#000"/>
<rect x="360" y="243" width="1" height="2" fill="#000"/>
<rect x="364" y="243" width="1" height="3" fill="#000"/>
<rect x="363" y="246" width="1" height="1" fill="#000"/>
<rect x="362" y="247" width="1" height="1" fill="#000"/>
<rect x="361" y="248" width="1" height="1" fill="#000"/>
<rect x="360" y="249" width="1" height="1" fill="#000"/>
<rect x="360" y="250" width="5" height="1" fill="#000"/>
<rect x="368" y="242" width="5" height="1" fill="#000"/>
<rect x="372" y="243" width="1" height="1" fill="#000"/>
<rect x="371" y="244" width="1" height="1" fill="#000"/>
<rect x="370" y="245" width="1" height="3" fill="#000"/>
<rect x="369" y="248" width="1" height="3" fill="#000"/>
<rect x="562" y="209" width="38" height="19" fill="#000"/>
<rect x="560" y="210" width="42" height="17" fill="#000"/>
<rect x="562" y="211" width="38" height="15" fill="#fff"/>
<rect x="562" y="211" width="1" height="1" fill="#000"/>
<rect x="599" y="211" width="1" height="1" fill="#000"/>
<rect x="562" y="225" width="1" height="1" fill="#000"/>
<rect x="599" y="225" width="1" height="1" fill="#000"/>
<rect x="569" y="213" width="1" height="9" fill="#000"/>
<rect x="567" y="222" width="2" height="1" fill="#000"/>
<rect x="566" y="220" width="1" height="2" fill="#000"/>
<rect x="574" y="213" width="1" height="10" fill="#000"/>
<rect x="574" y="213" width="4" height="1" fill="#000"/>
<rect x="578" y="214" width="1" height="4" fill="#000"/>
<rect x="574" y="218" width="4" height="1" fill="#000"/>
<rect x="583" y="214" width="3" height="1" fill="#000"/>
<rect x="582" y="215" width="1" height="2" fill="#000"/>
<rect x="586" y="215" width="1" height="3" fill="#000"/>
<rect x="585" y="218" width="1" height="1" fill="#000"/>
<rect x="584" y="219" width="1" height="1" fill="#000"/>
<rect x="583" y="220" width="1" height="1" fill="#000"/>
<rect x="582" y="221" width="1" height="1" fill="#000"/>
<rect x="582" y="222" width="5" height="1" fill="#000"/>
<rect x="592" y="214" width="1" height="1" fill="#000"/>
<rect x="591" y="215" width="1" height="1" fill="#000"/>
<rect x="593" y="215" width="1" height="1" fill="#000"/>
<rect x="590" y="216" width="1" height="5" fill="#000"/>
<rect x="594" y="216" width="1" height="5" fill="#000"/>
<rect x="591" y="221" width="1" height="1" fill="#000"/>
<rect x="593" y="221" width="1" height="1" fill="#000"/>
<rect x="592" y="222" width="1" height="1" fill="#000"/>
<rect x="701" y="194" width="31" height="19" fill="#000"/>
<rect x="699" y="195" width="35" height="17" fill="#000"/>
<rect x="701" y="196" width="31" height="15" fill="#fff"/>
<rect x="701" y="196" width="1" height="1" fill="#000"/>
<rect x="731" y="196" width="1" height="1" fill="#000"/>
<rect x="701" y="210" width="1" height="1" fill="#000"/>
<rect x="731" y="210" width="1" height="1" fill="#000"/>
<rect x="707" y="198" width="1" height="9" fill="#000"/>
<rect x="705" y="207" width="2" height="1" fill="#000"/>
<rect x="704" y="205" width="1" height="2" fill="#000"/>
<rect x="713" y="198" width="1" height="10" fill="#000"/>
<rect x="713" y="198" width="4" height="1" fill="#000"/>
<rect x="717" y="199" width="1" height="4" fill="#000"/>
<rect x="713" y="203" width="4" height="1" fill="#000"/>
<rect x="723" y="199" width="4" height="1" fill="#000"/>
<rect x="722" y="200" width="1" height="4" fill="#000"/>
<rect x="723" y="202" width="3" height="1" fill="#000"/>
<rect x="726" y="203" width="1" height="4" fill="#000"/>
<rect x="723" y="207" width="3" height="1" fill="#000"/>
<rect x="722" y="206" width="1" height="1" fill="#000"/>
<rect x="711" y="223" width="31" height="19" fill="#000"/>
<rect x="709" y="224" width="35" height="17" fill="#000"/>
<rect x="711" y="225" width="31" height="15" fill="#fff"/>
<rect x="711" y="225" width="1" height="1" fill="#000"/>
<rect x="741" y="225" width="1" height="1" fill="#000"/>
<rect x="711" y="239" width="1" height="1" fill="#000"/>
<rect x="741" y="239" width="1" height="1" fill="#000"/>
<rect x="715" y="227" width="1" height="9" fill="#000"/>
<rect x="713" y="236" width="2" height="1" fill="#000"/>
<rect x="712" y="234" width="1" height="2" fill="#000"/>
<rect x="722" y="227" width="1" height="10" fill="#000"/>
<rect x="722" y="227" width="4" height="1" fill="#000"/>
<rect x="726" y="228" width="1" height="4" fill="#000"/>
<rect x="722" y="232" width="4" height="1" fill="#000"/>
<rect x="733" y="228" width="2" height="1" fill="#000"/>
<rect x="732" y="229" width="1" height="1" fill="#000"/>
<rect x="735" y="229" width="1" height="1" fill="#000"/>
<rect x="731" y="230" width="1" height="5" fill="#000"/>
<rect x="732" y="231" width="3" height="1" fill="#000"/>
<rect x="735" y="232" width="1" height="4" fill="#000"/>
<rect x="732" y="235" width="1" height="1" fill="#000"/>
<rect x="733" y="236" width="2" height="1" fill="#000"/>
<rect x="698" y="316" width="22" height="19" fill="#000"/>
<rect x="696" y="317" width="26" height="17" fill="#000"/>
<rect x="698" y="318" width="22" height="15" fill="#fff"/>
<rect x="698" y="318" width="1" height="1" fill="#000"/>
<rect x="719" y="318" width="1" height="1" fill="#000"/>
<rect x="698" y="332" width="1" height="1" fill="#000"/>
<rect x="719" y="332" width="1" height="1" fill="#000"/>
<rect x="704" y="319" width="1" height="9" fill="#000"/>
<rect x="702" y="328" width="2" height="1" fill="#000"/>
<rect x="701" y="326" width="1" height="2" fill="#000"/>
<rect x="709" y="320" width="4" height="1" fill="#000"/>
<rect x="708" y="321" width="1" height="4" fill="#000"/>
<rect x="709" y="323" width="3" height="1" fill="#000"/>
<rect x="712" y="324" width="1" height="4" fill="#000"/>
<rect x="709" y="328" width="3" height="1" fill="#000"/>
<rect x="708" y="327" width="1" height="1" fill="#000"/>
<rect x="478" y="346" width="22" height="18" fill="#000"/>
<rect x="476" y="347" width="26" height="16" fill="#000"/>
<rect x="478" y="348" width="22" height="14" fill="#fff"/>
<rect x="478" y="348" width="1" height="1" fill="#000"/>
<rect x="499" y="348" width="1" height="1" fill="#000"/>
<rect x="478" y="361" width="1" height="1" fill="#000"/>
<rect x="499" y="361" width="1" height="1" fill="#000"/>
<rect x="484" y="349" width="1" height="9" fill="#000"/>
<rect x="482" y="358" width="2" height="1" fill="#000"/>
<rect x="481" y="356" width="1" height="2" fill="#000"/>
<rect x="488" y="350" width="5" height="1" fill="#000"/>
<rect x="492" y="351" width="1" height="1" fill="#000"/>
<rect x="491" y="352" width="1" height="1" fill="#000"/>
<rect x="490" y="353" width="1" height="3" fill="#000"/>
<rect x="489" y="356" width="1" height="3" fill="#000"/>
<rect x="621" y="363" width="33" height="19" fill="#000"/>
<rect x="619" y="364" width="37" height="17" fill="#000"/>
<rect x="621" y="365" width="33" height="15" fill="#fff"/>
<rect x="621" y="365" width="1" height="1" fill="#000"/>
<rect x="653" y="365" width="1" height="1" fill="#000"/>
<rect x="621" y="379" width="1" height="1" fill="#000"/>
<rect x="653" y="379" width="1" height="1" fill="#000"/>
<rect x="628" y="367" width="1" height="9" fill="#000"/>
<rect x="626" y="376" width="2" height="1" fill="#000"/>
<rect x="625" y="374" width="1" height="2" fill="#000"/>
<rect x="633" y="367" width="1" height="10" fill="#000"/>
<rect x="633" y="367" width="4" height="1" fill="#000"/>
<rect x="637" y="368" width="1" height="4" fill="#000"/>
<rect x="633" y="372" width="4" height="1" fill="#000"/>
<rect x="644" y="368" width="2" height="1" fill="#000"/>
<rect x="643" y="369" width="1" height="3" fill="#000"/>
<rect x="646" y="369" width="1" height="3" fill="#000"/>
<rect x="643" y="372" width="3" height="1" fill="#000"/>
<rect x="642" y="373" width="1" height="3" fill="#000"/>
<rect x="646" y="373" width="1" height="3" fill="#000"/>
<rect x="643" y="376" width="3" height="1" fill="#000"/>
<rect x="640" y="385" width="31" height="19" fill="#000"/>
<rect x="638" y="386" width="35" height="17" fill="#000"/>
<rect x="640" y="387" width="31" height="15" fill="#fff"/>
<rect x="640" y="387" width="1" height="1" fill="#000"/>
<rect x="670" y="387" width="1" height="1" fill="#000"/>
<rect x="640" y="401" width="1" height="1" fill="#000"/>
<rect x="670" y="401" width="1" height="1" fill="#000"/>
<rect x="646" y="389" width="1" height="9" fill="#000"/>
<rect x="644" y="398" width="2" height="1" fill="#000"/>
<rect x="643" y="396" width="1" height="2" fill="#000"/>
<rect x="651" y="389" width="1" height="10" fill="#000"/>
<rect x="651" y="389" width="4" height="1" fill="#000"/>
<rect x="655" y="390" width="1" height="4" fill="#000"/>
<rect x="651" y="394" width="4" height="1" fill="#000"/>
<rect x="661" y="390" width="3" height="1" fill="#000"/>
<rect x="660" y="391" width="1" height="4" fill="#000"/>
<rect x="664" y="391" width="1" height="6" fill="#000"/>
<rect x="661" y="395" width="3" height="1" fill="#000"/>
<rect x="663" y="397" width="1" height="1" fill="#000"/>
<rect x="660" y="397" width="1" height="1" fill="#000"/>
<rect x="661" y="398" width="2" height="1" fill="#000"/>
<rect x="213" y="317" width="38" height="19" fill="#000"/>
<rect x="211" y="318" width="42" height="17" fill="#000"/>
<rect x="213" y="319" width="38" height="15" fill="#fff"/>
<rect x="213" y="319" width="1" height="1" fill="#000"/>
<rect x="250" y="319" width="1" height="1" fill="#000"/>
<rect x="213" y="333" width="1" height="1" fill="#000"/>
<rect x="250" y="333" width="1" height="1" fill="#000"/>
<rect x="220" y="321" width="1" height="9" fill="#000"/>
<rect x="218" y="330" width="2" height="1" fill="#000"/>
<rect x="217" y="328" width="1" height="2" fill="#000"/>
<rect x="225" y="321" width="1" height="10" fill="#000"/>
<rect x="225" y="321" width="4" height="1" fill="#000"/>
<rect x="229" y="322" width="1" height="4" fill="#000"/>
<rect x="225" y="326" width="4" height="1" fill="#000"/>
<rect x="234" y="322" width="3" height="1" fill="#000"/>
<rect x="233" y="323" width="1" height="2" fill="#000"/>
<rect x="237" y="323" width="1" height="3" fill="#000"/>
<rect x="235" y="326" width="2" height="1" fill="#000"/>
<rect x="237" y="327" width="1" height="3" fill="#000"/>
<rect x="233" y="328" width="1" height="2" fill="#000"/>
<rect x="234" y="330" width="3" height="1" fill="#000"/>
<rect x="244" y="322" width="1" height="9" fill="#000"/>
<rect x="243" y="324" width="1" height="1" fill="#000"/>
<rect x="242" y="325" width="1" height="2" fill="#000"/>
<rect x="241" y="327" width="1" height="2" fill="#000"/>
<rect x="241" y="328" width="5" height="1" fill="#000"/>
<rect x="218" y="351" width="38" height="19" fill="#000"/>
<rect x="216" y="352" width="42" height="17" fill="#000"/>
<rect x="218" y="353" width="38" height="15" fill="#fff"/>
<rect x="218" y="353" width="1" height="1" fill="#000"/>
<rect x="255" y="353" width="1" height="1" fill="#000"/>
<rect x="218" y="367" width="1" height="1" fill="#000"/>
<rect x="255" y="367" width="1" height="1" fill="#000"/>
<rect x="224" y="355" width="1" height="9" fill="#000"/>
<rect x="222" y="364" width="2" height="1" fill="#000"/>
<rect x="221" y="362" width="1" height="2" fill="#000"/>
<rect x="229" y="355" width="1" height="10" fill="#000"/>
<rect x="229" y="355" width="4" height="1" fill="#000"/>
<rect x="233" y="356" width="1" height="4" fill="#000"/>
<rect x="229" y="360" width="4" height="1" fill="#000"/>
<rect x="238" y="356" width="3" height="1" fill="#000"/>
<rect x="237" y="357" width="1" height="2" fill="#000"/>
<rect x="241" y="357" width="1" height="3" fill="#000"/>
<rect x="239" y="360" width="2" height="1" fill="#000"/>
<rect x="241" y="361" width="1" height="3" fill="#000"/>
<rect x="237" y="362" width="1" height="2" fill="#000"/>
<rect x="238" y="364" width="3" height="1" fill="#000"/>
<rect x="247" y="356" width="4" height="1" fill="#000"/>
<rect x="246" y="357" width="1" height="4" fill="#000"/>
<rect x="247" y="359" width="3" height="1" fill="#000"/>
<rect x="250" y="360" width="1" height="4" fill="#000"/>
<rect x="247" y="364" width="3" height="1" fill="#000"/>
<rect x="246" y="363" width="1" height="1" fill="#000"/>
<rect x="103" y="426" width="39" height="18" fill="#000"/>
<rect x="101" y="427" width="43" height="16" fill="#000"/>
<rect x="103" y="428" width="39" height="14" fill="#fff"/>
<rect x="103" y="428" width="1" height="1" fill="#000"/>
<rect x="141" y="428" width="1" height="1" fill="#000"/>
<rect x="103" y="441" width="1" height="1" fill="#000"/>
<rect x="141" y="441" width="1" height="1" fill="#000"/>
<rect x="109" y="430" width="1" height="9" fill="#000"/>
<rect x="107" y="439" width="2" height="1" fill="#000"/>
<rect x="106" y="437" width="1" height="2" fill="#000"/>
<rect x="115" y="430" width="1" height="10" fill="#000"/>
<rect x="115" y="430" width="4" height="1" fill="#000"/>
<rect x="119" y="431" width="1" height="4" fill="#000"/>
<rect x="115" y="435" width="4" height="1" fill="#000"/>
<rect x="124" y="431" width="3" height="1" fill="#000"/>
<rect x="123" y="432" width="1" height="2" fill="#000"/>
<rect x="127" y="432" width="1" height="3" fill="#000"/>
<rect x="125" y="435" width="2" height="1" fill="#000"/>
<rect x="127" y="436" width="1" height="3" fill="#000"/>
<rect x="123" y="437" width="1" height="2" fill="#000"/>
<rect x="124" y="439" width="3" height="1" fill="#000"/>
<rect x="134" y="431" width="2" height="1" fill="#000"/>
<rect x="133" y="432" width="1" height="3" fill="#000"/>
<rect x="136" y="432" width="1" height="3" fill="#000"/>
<rect x="133" y="435" width="3" height="1" fill="#000"/>
<rect x="132" y="436" width="1" height="3" fill="#000"/>
<rect x="136" y="436" width="1" height="3" fill="#000"/>
<rect x="133" y="439" width="3" height="1" fill="#000"/>
<rect x="96" y="446" width="38" height="18" fill="#000"/>
<rect x="94" y="447" width="42" height="16" fill="#000"/>
<rect x="96" y="448" width="38" height="14" fill="#fff"/>
<rect x="96" y="448" width="1" height="1" fill="#000"/>
<rect x="133" y="448" width="1" height="1" fill="#000"/>
<rect x="96" y="461" width="1" height="1" fill="#000"/>
<rect x="133" y="461" width="1" height="1" fill="#000"/>
<rect x="103" y="449" width="1" height="9" fill="#000"/>
<rect x="101" y="458" width="2" height="1" fill="#000"/>
<rect x="100" y="456" width="1" height="2" fill="#000"/>
<rect x="108" y="449" width="1" height="10" fill="#000"/>
<rect x="108" y="449" width="4" height="1" fill="#000"/>
<rect x="112" y="450" width="1" height="4" fill="#000"/>
<rect x="108" y="454" width="4" height="1" fill="#000"/>
<rect x="117" y="450" width="3" height="1" fill="#000"/>
<rect x="116" y="451" width="1" height="2" fill="#000"/>
<rect x="120" y="451" width="1" height="3" fill="#000"/>
<rect x="118" y="454" width="2" height="1" fill="#000"/>
<rect x="120" y="455" width="1" height="3" fill="#000"/>
<rect x="116" y="456" width="1" height="2" fill="#000"/>
<rect x="117" y="458" width="3" height="1" fill="#000"/>
<rect x="125" y="450" width="3" height="1" fill="#000"/>
<rect x="124" y="451" width="1" height="4" fill="#000"/>
<rect x="128" y="451" width="1" height="6" fill="#000"/>
<rect x="125" y="455" width="3" height="1" fill="#000"/>
<rect x="127" y="457" width="1" height="1" fill="#000"/>
<rect x="124" y="457" width="1" height="1" fill="#000"/>
<rect x="125" y="458" width="2" height="1" fill="#000"/>
<rect x="103" y="468" width="38" height="19" fill="#000"/>
<rect x="101" y="469" width="42" height="17" fill="#000"/>
<rect x="103" y="470" width="38" height="15" fill="#fff"/>
<rect x="103" y="470" width="1" height="1" fill="#000"/>
<rect x="140" y="470" width="1" height="1" fill="#000"/>
<rect x="103" y="484" width="1" height="1" fill="#000"/>
<rect x="140" y="484" width="1" height="1" fill="#000"/>
<rect x="109" y="472" width="1" height="9" fill="#000"/>
<rect x="107" y="481" width="2" height="1" fill="#000"/>
<rect x="106" y="479" width="1" height="2" fill="#000"/>
<rect x="114" y="472" width="1" height="10" fill="#000"/>
<rect x="114" y="472" width="4" height="1" fill="#000"/>
<rect x="118" y="473" width="1" height="4" fill="#000"/>
<rect x="114" y="477" width="4" height="1" fill="#000"/>
<rect x="125" y="473" width="1" height="9" fill="#000"/>
<rect x="124" y="475" width="1" height="1" fill="#000"/>
<rect x="123" y="476" width="1" height="2" fill="#000"/>
<rect x="122" y="478" width="1" height="2" fill="#000"/>
<rect x="122" y="479" width="5" height="1" fill="#000"/>
<rect x="132" y="473" width="1" height="1" fill="#000"/>
<rect x="131" y="474" width="1" height="1" fill="#000"/>
<rect x="133" y="474" width="1" height="1" fill="#000"/>
<rect x="130" y="475" width="1" height="5" fill="#000"/>
<rect x="134" y="475" width="1" height="5" fill="#000"/>
<rect x="131" y="480" width="1" height="1" fill="#000"/>
<rect x="133" y="480" width="1" height="1" fill="#000"/>
<rect x="132" y="481" width="1" height="1" fill="#000"/>
<rect x="154" y="476" width="38" height="19" fill="#000"/>
<rect x="152" y="477" width="42" height="17" fill="#000"/>
<rect x="154" y="478" width="38" height="15" fill="#fff"/>
<rect x="154" y="478" width="1" height="1" fill="#000"/>
<rect x="191" y="478" width="1" height="1" fill="#000"/>
<rect x="154" y="492" width="1" height="1" fill="#000"/>
<rect x="191" y="492" width="1" height="1" fill="#000"/>
<rect x="160" y="480" width="1" height="9" fill="#000"/>
<rect x="158" y="489" width="2" height="1" fill="#000"/>
<rect x="157" y="487" width="1" height="2" fill="#000"/>
<rect x="165" y="480" width="1" height="10" fill="#000"/>
<rect x="165" y="480" width="4" height="1" fill="#000"/>
<rect x="169" y="481" width="1" height="4" fill="#000"/>
<rect x="165" y="485" width="4" height="1" fill="#000"/>
<rect x="175" y="481" width="1" height="9" fill="#000"/>
<rect x="174" y="483" width="1" height="1" fill="#000"/>
<rect x="173" y="484" width="1" height="2" fill="#000"/>
<rect x="172" y="486" width="1" height="2" fill="#000"/>
<rect x="172" y="487" width="5" height="1" fill="#000"/>
<rect x="181" y="481" width="3" height="1" fill="#000"/>
<rect x="180" y="482" width="1" height="2" fill="#000"/>
<rect x="184" y="482" width="1" height="3" fill="#000"/>
<rect x="183" y="485" width="1" height="1" fill="#000"/>
<rect x="182" y="486" width="1" height="1" fill="#000"/>
<rect x="181" y="487" width="1" height="1" fill="#000"/>
<rect x="180" y="488" width="1" height="1" fill="#000"/>
<rect x="180" y="489" width="5" height="1" fill="#000"/>
<rect x="90" y="506" width="39" height="18" fill="#000"/>
<rect x="88" y="507" width="43" height="16" fill="#000"/>
<rect x="90" y="508" width="39" height="14" fill="#fff"/>
<rect x="90" y="508" width="1" height="1" fill="#000"/>
<rect x="128" y="508" width="1" height="1" fill="#000"/>
<rect x="90" y="521" width="1" height="1" fill="#000"/>
<rect x="128" y="521" width="1" height="1" fill="#000"/>
<rect x="96" y="510" width="1" height="9" fill="#000"/>
<rect x="94" y="519" width="2" height="1" fill="#000"/>
<rect x="93" y="517" width="1" height="2" fill="#000"/>
<rect x="101" y="510" width="1" height="10" fill="#000"/>
<rect x="101" y="510" width="4" height="1" fill="#000"/>
<rect x="105" y="511" width="1" height="4" fill="#000"/>
<rect x="101" y="515" width="4" height="1" fill="#000"/>
<rect x="112" y="511" width="1" height="9" fill="#000"/>
<rect x="111" y="513" width="1" height="1" fill="#000"/>
<rect x="110" y="514" width="1" height="2" fill="#000"/>
<rect x="109" y="516" width="1" height="2" fill="#000"/>
<rect x="109" y="517" width="5" height="1" fill="#000"/>
<rect x="119" y="511" width="1" height="9" fill="#000"/>
<rect x="117" y="513" width="2" height="1" fill="#000"/>
<rect x="98" y="527" width="38" height="19" fill="#000"/>
<rect x="96" y="528" width="42" height="17" fill="#000"/>
<rect x="98" y="529" width="38" height="15" fill="#fff"/>
<rect x="98" y="529" width="1" height="1" fill="#000"/>
<rect x="135" y="529" width="1" height="1" fill="#000"/>
<rect x="98" y="543" width="1" height="1" fill="#000"/>
<rect x="135" y="543" width="1" height="1" fill="#000"/>
<rect x="102" y="531" width="1" height="9" fill="#000"/>
<rect x="100" y="540" width="2" height="1" fill="#000"/>
<rect x="99" y="538" width="1" height="2" fill="#000"/>
<rect x="107" y="531" width="1" height="10" fill="#000"/>
<rect x="107" y="531" width="4" height="1" fill="#000"/>
<rect x="111" y="532" width="1" height="4" fill="#000"/>
<rect x="107" y="536" width="4" height="1" fill="#000"/>
<rect x="118" y="532" width="1" height="9" fill="#000"/>
<rect x="117" y="534" width="1" height="1" fill="#000"/>
<rect x="116" y="535" width="1" height="2" fill="#000"/>
<rect x="115" y="537" width="1" height="2" fill="#000"/>
<rect x="115" y="538" width="5" height="1" fill="#000"/>
<rect x="125" y="532" width="3" height="1" fill="#000"/>
<rect x="124" y="533" width="1" height="2" fill="#000"/>
<rect x="128" y="533" width="1" height="3" fill="#000"/>
<rect x="126" y="536" width="2" height="1" fill="#000"/>
<rect x="128" y="537" width="1" height="3" fill="#000"/>
<rect x="124" y="538" width="1" height="2" fill="#000"/>
<rect x="125" y="540" width="3" height="1" fill="#000"/>
<rect x="154" y="540" width="38" height="19" fill="#000"/>
<rect x="152" y="541" width="42" height="17" fill="#000"/>
<rect x="154" y="542" width="38" height="15" fill="#fff"/>
<rect x="154" y="542" width="1" height="1" fill="#000"/>
<rect x="191" y="542" width="1" height="1" fill="#000"/>
<rect x="154" y="556" width="1" height="1" fill="#000"/>
<rect x="191" y="556" width="1" height="1" fill="#000"/>
<rect x="160" y="544" width="1" height="9" fill="#000"/>
<rect x="158" y="553" width="2" height="1" fill="#000"/>
<rect x="157" y="551" width="1" height="2" fill="#000"/>
<rect x="165" y="544" width="1" height="10" fill="#000"/>
<rect x="165" y="544" width="4" height="1" fill="#000"/>
<rect x="169" y="545" width="1" height="4" fill="#000"/>
<rect x="165" y="549" width="4" height="1" fill="#000"/>
<rect x="176" y="545" width="1" height="9" fill="#000"/>
<rect x="175" y="547" width="1" height="1" fill="#000"/>
<rect x="174" y="548" width="1" height="2" fill="#000"/>
<rect x="173" y="550" width="1" height="2" fill="#000"/>
<rect x="173" y="551" width="5" height="1" fill="#000"/>
<rect x="183" y="545" width="1" height="9" fill="#000"/>
<rect x="182" y="547" width="1" height="1" fill="#000"/>
<rect x="181" y="548" width="1" height="2" fill="#000"/>
<rect x="180" y="550" width="1" height="2" fill="#000"/>
<rect x="180" y="551" width="5" height="1" fill="#000"/>
<rect x="223" y="505" width="38" height="19" fill="#000"/>
<rect x="221" y="506" width="42" height="17" fill="#000"/>
<rect x="223" y="507" width="38" height="15" fill="#fff"/>
<rect x="223" y="507" width="1" height="1" fill="#000"/>
<rect x="260" y="507" width="1" height="1" fill="#000"/>
<rect x="223" y="521" width="1" height="1" fill="#000"/>
<rect x="260" y="521" width="1" height="1" fill="#000"/>
<rect x="229" y="509" width="1" height="9" fill="#000"/>
<rect x="227" y="518" width="2" height="1" fill="#000"/>
<rect x="226" y="516" width="1" height="2" fill="#000"/>
<rect x="234" y="509" width="1" height="10" fill="#000"/>
<rect x="234" y="509" width="4" height="1" fill="#000"/>
<rect x="238" y="510" width="1" height="4" fill="#000"/>
<rect x="234" y="514" width="4" height="1" fill="#000"/>
<rect x="242" y="510" width="3" height="1" fill="#000"/>
<rect x="241" y="511" width="1" height="2" fill="#000"/>
<rect x="245" y="511" width="1" height="3" fill="#000"/>
<rect x="243" y="514" width="2" height="1" fill="#000"/>
<rect x="245" y="515" width="1" height="3" fill="#000"/>
<rect x="241" y="516" width="1" height="2" fill="#000"/>
<rect x="242" y="518" width="3" height="1" fill="#000"/>
<rect x="251" y="510" width="2" height="1" fill="#000"/>
<rect x="250" y="511" width="1" height="1" fill="#000"/>
<rect x="253" y="511" width="1" height="1" fill="#000"/>
<rect x="249" y="512" width="1" height="5" fill="#000"/>
<rect x="250" y="513" width="3" height="1" fill="#000"/>
<rect x="253" y="514" width="1" height="4" fill="#000"/>
<rect x="250" y="517" width="1" height="1" fill="#000"/>
<rect x="251" y="518" width="2" height="1" fill="#000"/>
<rect x="216" y="528" width="38" height="18" fill="#000"/>
<rect x="214" y="529" width="42" height="16" fill="#000"/>
<rect x="216" y="530" width="38" height="14" fill="#fff"/>
<rect x="216" y="530" width="1" height="1" fill="#000"/>
<rect x="253" y="530" width="1" height="1" fill="#000"/>
<rect x="216" y="543" width="1" height="1" fill="#000"/>
<rect x="253" y="543" width="1" height="1" fill="#000"/>
<rect x="221" y="532" width="1" height="9" fill="#000"/>
<rect x="219" y="541" width="2" height="1" fill="#000"/>
<rect x="218" y="539" width="1" height="2" fill="#000"/>
<rect x="226" y="532" width="1" height="10" fill="#000"/>
<rect x="226" y="532" width="4" height="1" fill="#000"/>
<rect x="230" y="533" width="1" height="4" fill="#000"/>
<rect x="226" y="537" width="4" height="1" fill="#000"/>
<rect x="235" y="533" width="3" height="1" fill="#000"/>
<rect x="234" y="534" width="1" height="2" fill="#000"/>
<rect x="238" y="534" width="1" height="3" fill="#000"/>
<rect x="236" y="537" width="2" height="1" fill="#000"/>
<rect x="238" y="538" width="1" height="3" fill="#000"/>
<rect x="234" y="539" width="1" height="2" fill="#000"/>
<rect x="235" y="541" width="3" height="1" fill="#000"/>
<rect x="243" y="533" width="5" height="1" fill="#000"/>
<rect x="247" y="534" width="1" height="1" fill="#000"/>
<rect x="246" y="535" width="1" height="1" fill="#000"/>
<rect x="245" y="536" width="1" height="3" fill="#000"/>
<rect x="244" y="539" width="1" height="3" fill="#000"/>
<rect x="294" y="488" width="35" height="18" fill="#000"/>
<rect x="292" y="489" width="39" height="16" fill="#000"/>
<rect x="294" y="490" width="35" height="14" fill="#fff"/>
<rect x="294" y="490" width="1" height="1" fill="#000"/>
<rect x="328" y="490" width="1" height="1" fill="#000"/>
<rect x="294" y="503" width="1" height="1" fill="#000"/>
<rect x="328" y="503" width="1" height="1" fill="#000"/>
<rect x="300" y="492" width="1" height="9" fill="#000"/>
<rect x="298" y="501" width="2" height="1" fill="#000"/>
<rect x="297" y="499" width="1" height="2" fill="#000"/>
<rect x="305" y="492" width="1" height="10" fill="#000"/>
<rect x="305" y="492" width="4" height="1" fill="#000"/>
<rect x="309" y="493" width="1" height="4" fill="#000"/>
<rect x="305" y="497" width="4" height="1" fill="#000"/>
<rect x="315" y="493" width="3" height="1" fill="#000"/>
<rect x="314" y="494" width="1" height="2" fill="#000"/>
<rect x="318" y="494" width="1" height="3" fill="#000"/>
<rect x="316" y="497" width="2" height="1" fill="#000"/>
<rect x="318" y="498" width="1" height="3" fill="#000"/>
<rect x="314" y="499" width="1" height="2" fill="#000"/>
<rect x="315" y="501" width="3" height="1" fill="#000"/>
<rect x="324" y="493" width="1" height="9" fill="#000"/>
<rect x="322" y="495" width="2" height="1" fill="#000"/>
<rect x="343" y="478" width="40" height="19" fill="#000"/>
<rect x="341" y="479" width="44" height="17" fill="#000"/>
<rect x="343" y="480" width="40" height="15" fill="#fff"/>
<rect x="343" y="480" width="1" height="1" fill="#000"/>
<rect x="382" y="480" width="1" height="1" fill="#000"/>
<rect x="343" y="494" width="1" height="1" fill="#000"/>
<rect x="382" y="494" width="1" height="1" fill="#000"/>
<rect x="351" y="482" width="1" height="9" fill="#000"/>
<rect x="349" y="491" width="2" height="1" fill="#000"/>
<rect x="348" y="489" width="1" height="2" fill="#000"/>
<rect x="356" y="482" width="1" height="10" fill="#000"/>
<rect x="356" y="482" width="4" height="1" fill="#000"/>
<rect x="360" y="483" width="1" height="4" fill="#000"/>
<rect x="356" y="487" width="4" height="1" fill="#000"/>
<rect x="365" y="483" width="3" height="1" fill="#000"/>
<rect x="364" y="484" width="1" height="2" fill="#000"/>
<rect x="368" y="484" width="1" height="3" fill="#000"/>
<rect x="366" y="487" width="2" height="1" fill="#000"/>
<rect x="368" y="488" width="1" height="3" fill="#000"/>
<rect x="364" y="489" width="1" height="2" fill="#000"/>
<rect x="365" y="491" width="3" height="1" fill="#000"/>
<rect x="374" y="483" width="1" height="1" fill="#000"/>
<rect x="373" y="484" width="1" height="1" fill="#000"/>
<rect x="375" y="484" width="1" height="1" fill="#000"/>
<rect x="372" y="485" width="1" height="5" fill="#000"/>
<rect x="376" y="485" width="1" height="5" fill="#000"/>
<rect x="373" y="490" width="1" height="1" fill="#000"/>
<rect x="375" y="490" width="1" height="1" fill="#000"/>
<rect x="374" y="491" width="1" height="1" fill="#000"/>
<rect x="396" y="488" width="37" height="18" fill="#000"/>
<rect x="394" y="489" width="41" height="16" fill="#000"/>
<rect x="396" y="490" width="37" height="14" fill="#fff"/>
<rect x="396" y="490" width="1" height="1" fill="#000"/>
<rect x="432" y="490" width="1" height="1" fill="#000"/>
<rect x="396" y="503" width="1" height="1" fill="#000"/>
<rect x="432" y="503" width="1" height="1" fill="#000"/>
<rect x="402" y="491" width="1" height="9" fill="#000"/>
<rect x="400" y="500" width="2" height="1" fill="#000"/>
<rect x="399" y="498" width="1" height="2" fill="#000"/>
<rect x="407" y="491" width="1" height="10" fill="#000"/>
<rect x="407" y="491" width="4" height="1" fill="#000"/>
<rect x="411" y="492" width="1" height="4" fill="#000"/>
<rect x="407" y="496" width="4" height="1" fill="#000"/>
<rect x="416" y="492" width="3" height="1" fill="#000"/>
<rect x="415" y="493" width="1" height="2" fill="#000"/>
<rect x="419" y="493" width="1" height="3" fill="#000"/>
<rect x="418" y="496" width="1" height="1" fill="#000"/>
<rect x="417" y="497" width="1" height="1" fill="#000"/>
<rect x="416" y="498" width="1" height="1" fill="#000"/>
<rect x="415" y="499" width="1" height="1" fill="#000"/>
<rect x="415" y="500" width="5" height="1" fill="#000"/>
<rect x="425" y="492" width="2" height="1" fill="#000"/>
<rect x="424" y="493" width="1" height="3" fill="#000"/>
<rect x="427" y="493" width="1" height="3" fill="#000"/>
<rect x="424" y="496" width="3" height="1" fill="#000"/>
<rect x="423" y="497" width="1" height="3" fill="#000"/>
<rect x="427" y="497" width="1" height="3" fill="#000"/>
<rect x="424" y="500" width="3" height="1" fill="#000"/>
<rect x="429" y="507" width="38" height="19" fill="#000"/>
<rect x="427" y="508" width="42" height="17" fill="#000"/>
<rect x="429" y="509" width="38" height="15" fill="#fff"/>
<rect x="429" y="509" width="1" height="1" fill="#000"/>
<rect x="466" y="509" width="1" height="1" fill="#000"/>
<rect x="429" y="523" width="1" height="1" fill="#000"/>
<rect x="466" y="523" width="1" height="1" fill="#000"/>
<rect x="435" y="511" width="1" height="9" fill="#000"/>
<rect x="433" y="520" width="2" height="1" fill="#000"/>
<rect x="432" y="518" width="1" height="2" fill="#000"/>
<rect x="440" y="511" width="1" height="10" fill="#000"/>
<rect x="440" y="511" width="4" height="1" fill="#000"/>
<rect x="444" y="512" width="1" height="4" fill="#000"/>
<rect x="440" y="516" width="4" height="1" fill="#000"/>
<rect x="449" y="512" width="3" height="1" fill="#000"/>
<rect x="448" y="513" width="1" height="2" fill="#000"/>
<rect x="452" y="513" width="1" height="3" fill="#000"/>
<rect x="451" y="516" width="1" height="1" fill="#000"/>
<rect x="450" y="517" width="1" height="1" fill="#000"/>
<rect x="449" y="518" width="1" height="1" fill="#000"/>
<rect x="448" y="519" width="1" height="1" fill="#000"/>
<rect x="448" y="520" width="5" height="1" fill="#000"/>
<rect x="458" y="512" width="2" height="1" fill="#000"/>
<rect x="457" y="513" width="1" height="1" fill="#000"/>
<rect x="460" y="513" width="1" height="1" fill="#000"/>
<rect x="456" y="514" width="1" height="5" fill="#000"/>
<rect x="457" y="515" width="3" height="1" fill="#000"/>
<rect x="460" y="516" width="1" height="4" fill="#000"/>
<rect x="457" y="519" width="1" height="1" fill="#000"/>
<rect x="458" y="520" width="2" height="1" fill="#000"/>
<rect x="336" y="528" width="38" height="18" fill="#000"/>
<rect x="334" y="529" width="42" height="16" fill="#000"/>
<rect x="336" y="530" width="38" height="14" fill="#fff"/>
<rect x="336" y="530" width="1" height="1" fill="#000"/>
<rect x="373" y="530" width="1" height="1" fill="#000"/>
<rect x="336" y="543" width="1" height="1" fill="#000"/>
<rect x="373" y="543" width="1" height="1" fill="#000"/>
<rect x="343" y="532" width="1" height="9" fill="#000"/>
<rect x="341" y="541" width="2" height="1" fill="#000"/>
<rect x="340" y="539" width="1" height="2" fill="#000"/>
<rect x="348" y="532" width="1" height="10" fill="#000"/>
<rect x="348" y="532" width="4" height="1" fill="#000"/>
<rect x="352" y="533" width="1" height="4" fill="#000"/>
<rect x="348" y="537" width="4" height="1" fill="#000"/>
<rect x="357" y="533" width="3" height="1" fill="#000"/>
<rect x="356" y="534" width="1" height="2" fill="#000"/>
<rect x="360" y="534" width="1" height="3" fill="#000"/>
<rect x="358" y="537" width="2" height="1" fill="#000"/>
<rect x="360" y="538" width="1" height="3" fill="#000"/>
<rect x="356" y="539" width="1" height="2" fill="#000"/>
<rect x="357" y="541" width="3" height="1" fill="#000"/>
<rect x="365" y="533" width="3" height="1" fill="#000"/>
<rect x="364" y="534" width="1" height="2" fill="#000"/>
<rect x="368" y="534" width="1" height="3" fill="#000"/>
<rect x="367" y="537" width="1" height="1" fill="#000"/>
<rect x="366" y="538" width="1" height="1" fill="#000"/>
<rect x="365" y="539" width="1" height="1" fill="#000"/>
<rect x="364" y="540" width="1" height="1" fill="#000"/>
<rect x="364" y="541" width="5" height="1" fill="#000"/>
<rect x="565" y="470" width="22" height="19" fill="#000"/>
<rect x="563" y="471" width="26" height="17" fill="#000"/>
<rect x="565" y="472" width="22" height="15" fill="#fff"/>
<rect x="565" y="472" width="1" height="1" fill="#000"/>
<rect x="586" y="472" width="1" height="1" fill="#000"/>
<rect x="565" y="486" width="1" height="1" fill="#000"/>
<rect x="586" y="486" width="1" height="1" fill="#000"/>
<rect x="572" y="474" width="1" height="9" fill="#000"/>
<rect x="570" y="483" width="2" height="1" fill="#000"/>
<rect x="569" y="481" width="1" height="2" fill="#000"/>
<rect x="578" y="475" width="2" height="1" fill="#000"/>
<rect x="577" y="476" width="1" height="1" fill="#000"/>
<rect x="580" y="476" width="1" height="1" fill="#000"/>
<rect x="576" y="477" width="1" height="5" fill="#000"/>
<rect x="577" y="478" width="3" height="1" fill="#000"/>
<rect x="580" y="479" width="1" height="4" fill="#000"/>
<rect x="577" y="482" width="1" height="1" fill="#000"/>
<rect x="578" y="483" width="2" height="1" fill="#000"/>
<rect x="631" y="62" width="4" height="4" fill="#fff"/>
<line x1="631.5" y1="62.5" x2="638.5" y2="55.5" stroke="#000" stroke-width="2"/>
<line x1="633.5" y1="66" x2="641" y2="55.5" stroke="#000" stroke-width="2"/>
<rect x="657" y="62" width="4" height="4" fill="#fff"/>
<line x1="660.5" y1="62.5" x2="650.5" y2="55.5" stroke="#000" stroke-width="2"/>
<line x1="657.5" y1="66" x2="648" y2="55.5" stroke="#000" stroke-width="2"/>
<rect x="669" y="385" width="4" height="4" fill="#fff"/>
<line x1="668.5" y1="385.5" x2="677" y2="378.5" stroke="#000" stroke-width="2"/>
<line x1="671.5" y1="389" x2="679.5" y2="378.5" stroke="#000" stroke-width="2"/>
<rect x="699" y="209" width="4" height="4" fill="#fff"/>
<line x1="699.5" y1="209" x2="693.5" y2="215" stroke="#000" stroke-width="2"/>
<line x1="702.5" y1="211.5" x2="694" y2="219" stroke="#000" stroke-width="2"/>
<rect x="211" y="332" width="4" height="4" fill="#fff"/>
<line x1="211.5" y1="331" x2="203.5" y2="339" stroke="#000" stroke-width="2"/>
<line x1="214.5" y1="334.5" x2="203.5" y2="343" stroke="#000" stroke-width="2"/>
<rect x="524" y="44" width="4" height="4" fill="#fff"/>
<line x1="526.5" y1="44" x2="534" y2="52.5" stroke="#000" stroke-width="2"/>
<line x1="524" y1="46.5" x2="534" y2="53.5" stroke="#000" stroke-width="2"/>
<rect x="524" y="87" width="4" height="4" fill="#fff"/>
<line x1="524" y1="87.5" x2="534" y2="79" stroke="#000" stroke-width="2"/>
<line x1="526.5" y1="90" x2="534" y2="80" stroke="#000" stroke-width="2"/>
<rect x="140" y="440" width="4" height="4" fill="#fff"/>
<line x1="142.5" y1="440" x2="150" y2="450.5" stroke="#000" stroke-width="2"/>
<line x1="140" y1="442.5" x2="150" y2="452.5" stroke="#000" stroke-width="2"/>
<rect x="139" y="468" width="4" height="4" fill="#fff"/>
<line x1="139" y1="468.5" x2="150" y2="459.5" stroke="#000" stroke-width="2"/>
<line x1="141.5" y1="471" x2="150" y2="461.5" stroke="#000" stroke-width="2"/>
<rect x="134" y="527" width="4" height="4" fill="#fff"/>
<line x1="134" y1="527.5" x2="144" y2="519" stroke="#000" stroke-width="2"/>
<line x1="136.5" y1="530" x2="144" y2="520.5" stroke="#000" stroke-width="2"/>
<rect x="214" y="528" width="4" height="4" fill="#fff"/>
<line x1="217" y1="528.5" x2="205.5" y2="519" stroke="#000" stroke-width="2"/>
<line x1="214.5" y1="531" x2="205.5" y2="520.5" stroke="#000" stroke-width="2"/>
<rect x="327" y="502" width="4" height="4" fill="#fff"/>
<line x1="329.5" y1="502" x2="339" y2="513" stroke="#000" stroke-width="2"/>
<line x1="327" y1="504.5" x2="340.5" y2="513" stroke="#000" stroke-width="2"/>
<rect x="394" y="502" width="4" height="4" fill="#fff"/>
<line x1="394.5" y1="502" x2="388" y2="513" stroke="#000" stroke-width="2"/>
<line x1="397" y1="504.5" x2="386.5" y2="513" stroke="#000" stroke-width="2"/>
<rect x="334" y="528" width="4" height="4" fill="#fff"/>
<line x1="337" y1="528.5" x2="326" y2="520" stroke="#000" stroke-width="2"/>
<line x1="334.5" y1="531" x2="327.5" y2="520" stroke="#000" stroke-width="2"/>
<rect x="44" y="137" width="8" height="1" fill="#fff"/>
<rect x="43" y="138" width="9" height="1" fill="#fff"/>
<rect x="43" y="139" width="4" height="1" fill="#fff"/>
<rect x="44" y="135" width="4" height="1" fill="#000"/>
<rect x="44" y="136" width="9" height="1" fill="#000"/>
<rect x="52" y="137" width="6" height="1" fill="#000"/>
<rect x="52" y="138" width="7" height="1" fill="#000"/>
<rect x="47" y="139" width="12" height="1" fill="#000"/>
<rect x="44" y="140" width="13" height="1" fill="#000"/>
<rect x="44" y="141" width="5" height="1" fill="#000"/>
<rect x="80" y="149" width="8" height="1" fill="#fff"/>
<rect x="80" y="150" width="9" height="1" fill="#fff"/>
<rect x="85" y="151" width="4" height="1" fill="#fff"/>
<rect x="84" y="147" width="4" height="1" fill="#000"/>
<rect x="79" y="148" width="9" height="1" fill="#000"/>
<rect x="74" y="149" width="6" height="1" fill="#000"/>
<rect x="73" y="150" width="7" height="1" fill="#000"/>
<rect x="73" y="151" width="12" height="1" fill="#000"/>
<rect x="75" y="152" width="13" height="1" fill="#000"/>
<rect x="83" y="153" width="5" height="1" fill="#000"/>
<rect x="44" y="158" width="8" height="1" fill="#fff"/>
<rect x="43" y="159" width="9" height="1" fill="#fff"/>
<rect x="43" y="160" width="4" height="1" fill="#fff"/>
<rect x="44" y="156" width="4" height="1" fill="#000"/>
<rect x="44" y="157" width="9" height="1" fill="#000"/>
<rect x="52" y="158" width="6" height="1" fill="#000"/>
<rect x="52" y="159" width="7" height="1" fill="#000"/>
<rect x="47" y="160" width="12" height="1" fill="#000"/>
<rect x="44" y="161" width="13" height="1" fill="#000"/>
<rect x="44" y="162" width="5" height="1" fill="#000"/>
<rect x="80" y="171" width="8" height="1" fill="#fff"/>
<rect x="80" y="172" width="9" height="1" fill="#fff"/>
<rect x="85" y="173" width="4" height="1" fill="#fff"/>
<rect x="84" y="169" width="4" height="1" fill="#000"/>
<rect x="79" y="170" width="9" height="1" fill="#000"/>
<rect x="74" y="171" width="6" height="1" fill="#000"/>
<rect x="73" y="172" width="7" height="1" fill="#000"/>
<rect x="73" y="173" width="12" height="1" fill="#000"/>
<rect x="75" y="174" width="13" height="1" fill="#000"/>
<rect x="83" y="175" width="5" height="1" fill="#000"/>
<rect x="44" y="183" width="8" height="1" fill="#fff"/>
<rect x="43" y="184" width="9" height="1" fill="#fff"/>
<rect x="43" y="185" width="4" height="1" fill="#fff"/>
<rect x="44" y="181" width="4" height="1" fill="#000"/>
<rect x="44" y="182" width="9" height="1" fill="#000"/>
<rect x="52" y="183" width="6" height="1" fill="#000"/>
<rect x="52" y="184" width="7" height="1" fill="#000"/>
<rect x="47" y="185" width="12" height="1" fill="#000"/>
<rect x="44" y="186" width="13" height="1" fill="#000"/>
<rect x="44" y="187" width="5" height="1" fill="#000"/>
<rect x="644" y="21" width="1" height="8" fill="#fff"/>
<rect x="645" y="20" width="1" height="9" fill="#fff"/>
<rect x="646" y="20" width="1" height="4" fill="#fff"/>
<rect x="642" y="21" width="1" height="4" fill="#000"/>
<rect x="643" y="21" width="1" height="9" fill="#000"/>
<rect x="644" y="29" width="1" height="6" fill="#000"/>
<rect x="645" y="29" width="1" height="8" fill="#000"/>
<rect x="646" y="24" width="1" height="13" fill="#000"/>
<rect x="647" y="21" width="1" height="13" fill="#000"/>
<rect x="648" y="21" width="1" height="5" fill="#000"/>
<rect x="615" y="44" width="8" height="1" fill="#fff"/>
<rect x="614" y="45" width="9" height="1" fill="#fff"/>
<rect x="614" y="46" width="4" height="1" fill="#fff"/>
<rect x="615" y="42" width="4" height="1" fill="#000"/>
<rect x="615" y="43" width="9" height="1" fill="#000"/>
<rect x="623" y="44" width="6" height="1" fill="#000"/>
<rect x="623" y="45" width="8" height="1" fill="#000"/>
<rect x="618" y="46" width="13" height="1" fill="#000"/>
<rect x="615" y="47" width="13" height="1" fill="#000"/>
<rect x="615" y="48" width="5" height="1" fill="#000"/>
<rect x="668" y="45" width="8" height="1" fill="#fff"/>
<rect x="668" y="46" width="9" height="1" fill="#fff"/>
<rect x="673" y="47" width="4" height="1" fill="#fff"/>
<rect x="672" y="43" width="4" height="1" fill="#000"/>
<rect x="667" y="44" width="9" height="1" fill="#000"/>
<rect x="662" y="45" width="6" height="1" fill="#000"/>
<rect x="661" y="46" width="7" height="1" fill="#000"/>
<rect x="661" y="47" width="12" height="1" fill="#000"/>
<rect x="663" y="48" width="13" height="1" fill="#000"/>
<rect x="671" y="49" width="5" height="1" fill="#000"/>
<rect x="519" y="59" width="8" height="1" fill="#fff"/>
<rect x="518" y="60" width="9" height="1" fill="#fff"/>
<rect x="518" y="61" width="4" height="1" fill="#fff"/>
<rect x="519" y="57" width="4" height="1" fill="#000"/>
<rect x="519" y="58" width="9" height="1" fill="#000"/>
<rect x="527" y="59" width="6" height="1" fill="#000"/>
<rect x="527" y="60" width="7" height="1" fill="#000"/>
<rect x="522" y="61" width="12" height="1" fill="#000"/>
<rect x="519" y="62" width="13" height="1" fill="#000"/>
<rect x="519" y="63" width="5" height="1" fill="#000"/>
<rect x="420" y="120" width="8" height="1" fill="#fff"/>
<rect x="419" y="121" width="9" height="1" fill="#fff"/>
<rect x="419" y="122" width="4" height="1" fill="#fff"/>
<rect x="420" y="118" width="4" height="1" fill="#000"/>
<rect x="420" y="119" width="9" height="1" fill="#000"/>
<rect x="428" y="120" width="6" height="1" fill="#000"/>
<rect x="428" y="121" width="7" height="1" fill="#000"/>
<rect x="423" y="122" width="12" height="1" fill="#000"/>
<rect x="420" y="123" width="13" height="1" fill="#000"/>
<rect x="420" y="124" width="5" height="1" fill="#000"/>
<rect x="450" y="147" width="8" height="1" fill="#fff"/>
<rect x="450" y="148" width="9" height="1" fill="#fff"/>
<rect x="455" y="149" width="4" height="1" fill="#fff"/>
<rect x="454" y="145" width="4" height="1" fill="#000"/>
<rect x="449" y="146" width="9" height="1" fill="#000"/>
<rect x="444" y="147" width="6" height="1" fill="#000"/>
<rect x="442" y="148" width="8" height="1" fill="#000"/>
<rect x="442" y="149" width="13" height="1" fill="#000"/>
<rect x="445" y="150" width="13" height="1" fill="#000"/>
<rect x="453" y="151" width="5" height="1" fill="#000"/>
<rect x="387" y="166" width="1" height="8" fill="#fff"/>
<rect x="388" y="166" width="1" height="9" fill="#fff"/>
<rect x="389" y="171" width="1" height="4" fill="#fff"/>
<rect x="385" y="170" width="1" height="4" fill="#000"/>
<rect x="386" y="165" width="1" height="9" fill="#000"/>
<rect x="387" y="160" width="1" height="6" fill="#000"/>
<rect x="388" y="157" width="1" height="9" fill="#000"/>
<rect x="389" y="157" width="1" height="14" fill="#000"/>
<rect x="390" y="161" width="1" height="13" fill="#000"/>
<rect x="391" y="169" width="1" height="5" fill="#000"/>
<rect x="436" y="188" width="1" height="8" fill="#fff"/>
<rect x="437" y="188" width="1" height="9" fill="#fff"/>
<rect x="438" y="193" width="1" height="4" fill="#fff"/>
<rect x="434" y="192" width="1" height="4" fill="#000"/>
<rect x="435" y="187" width="1" height="9" fill="#000"/>
<rect x="436" y="182" width="1" height="6" fill="#000"/>
<rect x="437" y="178" width="1" height="10" fill="#000"/>
<rect x="438" y="178" width="1" height="15" fill="#000"/>
<rect x="439" y="183" width="1" height="13" fill="#000"/>
<rect x="440" y="191" width="1" height="5" fill="#000"/>
<rect x="491" y="186" width="8" height="1" fill="#fff"/>
<rect x="491" y="187" width="9" height="1" fill="#fff"/>
<rect x="496" y="188" width="4" height="1" fill="#fff"/>
<rect x="495" y="184" width="4" height="1" fill="#000"/>
<rect x="490" y="185" width="9" height="1" fill="#000"/>
<rect x="485" y="186" width="6" height="1" fill="#000"/>
<rect x="484" y="187" width="7" height="1" fill="#000"/>
<rect x="484" y="188" width="12" height="1" fill="#000"/>
<rect x="486" y="189" width="13" height="1" fill="#000"/>
<rect x="494" y="190" width="5" height="1" fill="#000"/>
<rect x="321" y="201" width="8" height="1" fill="#fff"/>
<rect x="320" y="202" width="9" height="1" fill="#fff"/>
<rect x="320" y="203" width="4" height="1" fill="#fff"/>
<rect x="321" y="199" width="4" height="1" fill="#000"/>
<rect x="321" y="200" width="9" height="1" fill="#000"/>
<rect x="329" y="201" width="6" height="1" fill="#000"/>
<rect x="329" y="202" width="7" height="1" fill="#000"/>
<rect x="324" y="203" width="12" height="1" fill="#000"/>
<rect x="321" y="204" width="13" height="1" fill="#000"/>
<rect x="321" y="205" width="5" height="1" fill="#000"/>
<rect x="380" y="245" width="8" height="1" fill="#fff"/>
<rect x="379" y="246" width="9" height="1" fill="#fff"/>
<rect x="379" y="247" width="4" height="1" fill="#fff"/>
<rect x="380" y="243" width="4" height="1" fill="#000"/>
<rect x="380" y="244" width="9" height="1" fill="#000"/>
<rect x="388" y="245" width="6" height="1" fill="#000"/>
<rect x="388" y="246" width="7" height="1" fill="#000"/>
<rect x="383" y="247" width="12" height="1" fill="#000"/>
<rect x="380" y="248" width="13" height="1" fill="#000"/>
<rect x="380" y="249" width="5" height="1" fill="#000"/>
<rect x="601" y="217" width="8" height="1" fill="#fff"/>
<rect x="600" y="218" width="9" height="1" fill="#fff"/>
<rect x="600" y="219" width="4" height="1" fill="#fff"/>
<rect x="601" y="215" width="4" height="1" fill="#000"/>
<rect x="601" y="216" width="9" height="1" fill="#000"/>
<rect x="609" y="217" width="6" height="1" fill="#000"/>
<rect x="609" y="218" width="7" height="1" fill="#000"/>
<rect x="604" y="219" width="12" height="1" fill="#000"/>
<rect x="601" y="220" width="13" height="1" fill="#000"/>
<rect x="601" y="221" width="5" height="1" fill="#000"/>
<rect x="702" y="231" width="8" height="1" fill="#fff"/>
<rect x="702" y="232" width="9" height="1" fill="#fff"/>
<rect x="707" y="233" width="4" height="1" fill="#fff"/>
<rect x="706" y="229" width="4" height="1" fill="#000"/>
<rect x="701" y="230" width="9" height="1" fill="#000"/>
<rect x="696" y="231" width="6" height="1" fill="#000"/>
<rect x="695" y="232" width="7" height="1" fill="#000"/>
<rect x="695" y="233" width="12" height="1" fill="#000"/>
<rect x="697" y="234" width="13" height="1" fill="#000"/>
<rect x="705" y="235" width="5" height="1" fill="#000"/>
<rect x="689" y="324" width="8" height="1" fill="#fff"/>
<rect x="689" y="325" width="9" height="1" fill="#fff"/>
<rect x="694" y="326" width="4" height="1" fill="#fff"/>
<rect x="693" y="322" width="4" height="1" fill="#000"/>
<rect x="688" y="323" width="9" height="1" fill="#000"/>
<rect x="683" y="324" width="6" height="1" fill="#000"/>
<rect x="682" y="325" width="7" height="1" fill="#000"/>
<rect x="682" y="326" width="12" height="1" fill="#000"/>
<rect x="684" y="327" width="13" height="1" fill="#000"/>
<rect x="692" y="328" width="5" height="1" fill="#000"/>
<rect x="486" y="339" width="1" height="8" fill="#fff"/>
<rect x="487" y="339" width="1" height="9" fill="#fff"/>
<rect x="488" y="344" width="1" height="4" fill="#fff"/>
<rect x="484" y="343" width="1" height="4" fill="#000"/>
<rect x="485" y="338" width="1" height="9" fill="#000"/>
<rect x="486" y="333" width="1" height="6" fill="#000"/>
<rect x="487" y="330" width="1" height="9" fill="#000"/>
<rect x="488" y="330" width="1" height="14" fill="#000"/>
<rect x="489" y="334" width="1" height="13" fill="#000"/>
<rect x="490" y="342" width="1" height="5" fill="#000"/>
<rect x="655" y="371" width="8" height="1" fill="#fff"/>
<rect x="654" y="372" width="9" height="1" fill="#fff"/>
<rect x="654" y="373" width="4" height="1" fill="#fff"/>
<rect x="655" y="369" width="4" height="1" fill="#000"/>
<rect x="655" y="370" width="9" height="1" fill="#000"/>
<rect x="663" y="371" width="6" height="1" fill="#000"/>
<rect x="663" y="372" width="6" height="1" fill="#000"/>
<rect x="658" y="373" width="11" height="1" fill="#000"/>
<rect x="655" y="374" width="13" height="1" fill="#000"/>
<rect x="655" y="375" width="5" height="1" fill="#000"/>
<rect x="209" y="359" width="8" height="1" fill="#fff"/>
<rect x="209" y="360" width="9" height="1" fill="#fff"/>
<rect x="214" y="361" width="4" height="1" fill="#fff"/>
<rect x="213" y="357" width="4" height="1" fill="#000"/>
<rect x="208" y="358" width="9" height="1" fill="#000"/>
<rect x="203" y="359" width="6" height="1" fill="#000"/>
<rect x="202" y="360" width="7" height="1" fill="#000"/>
<rect x="202" y="361" width="12" height="1" fill="#000"/>
<rect x="204" y="362" width="13" height="1" fill="#000"/>
<rect x="212" y="363" width="5" height="1" fill="#000"/>
<rect x="135" y="454" width="8" height="1" fill="#fff"/>
<rect x="134" y="455" width="9" height="1" fill="#fff"/>
<rect x="134" y="456" width="4" height="1" fill="#fff"/>
<rect x="135" y="452" width="4" height="1" fill="#000"/>
<rect x="135" y="453" width="9" height="1" fill="#000"/>
<rect x="143" y="454" width="6" height="1" fill="#000"/>
<rect x="143" y="455" width="7" height="1" fill="#000"/>
<rect x="138" y="456" width="12" height="1" fill="#000"/>
<rect x="135" y="457" width="13" height="1" fill="#000"/>
<rect x="135" y="458" width="5" height="1" fill="#000"/>
<rect x="170" y="494" width="1" height="8" fill="#fff"/>
<rect x="171" y="493" width="1" height="9" fill="#fff"/>
<rect x="172" y="493" width="1" height="4" fill="#fff"/>
<rect x="168" y="494" width="1" height="4" fill="#000"/>
<rect x="169" y="494" width="1" height="9" fill="#000"/>
<rect x="170" y="502" width="1" height="6" fill="#000"/>
<rect x="171" y="502" width="1" height="7" fill="#000"/>
<rect x="172" y="497" width="1" height="12" fill="#000"/>
<rect x="173" y="494" width="1" height="13" fill="#000"/>
<rect x="174" y="494" width="1" height="5" fill="#000"/>
<rect x="170" y="533" width="1" height="8" fill="#fff"/>
<rect x="171" y="533" width="1" height="9" fill="#fff"/>
<rect x="172" y="538" width="1" height="4" fill="#fff"/>
<rect x="168" y="537" width="1" height="4" fill="#000"/>
<rect x="169" y="532" width="1" height="9" fill="#000"/>
<rect x="170" y="527" width="1" height="6" fill="#000"/>
<rect x="171" y="523" width="1" height="10" fill="#000"/>
<rect x="172" y="523" width="1" height="15" fill="#000"/>
<rect x="173" y="528" width="1" height="13" fill="#000"/>
<rect x="174" y="536" width="1" height="5" fill="#000"/>
<rect x="130" y="514" width="8" height="1" fill="#fff"/>
<rect x="129" y="515" width="9" height="1" fill="#fff"/>
<rect x="129" y="516" width="4" height="1" fill="#fff"/>
<rect x="130" y="512" width="4" height="1" fill="#000"/>
<rect x="130" y="513" width="9" height="1" fill="#000"/>
<rect x="138" y="514" width="6" height="1" fill="#000"/>
<rect x="138" y="515" width="6" height="1" fill="#000"/>
<rect x="133" y="516" width="11" height="1" fill="#000"/>
<rect x="130" y="517" width="13" height="1" fill="#000"/>
<rect x="130" y="518" width="5" height="1" fill="#000"/>
<rect x="214" y="513" width="8" height="1" fill="#fff"/>
<rect x="214" y="514" width="9" height="1" fill="#fff"/>
<rect x="219" y="515" width="4" height="1" fill="#fff"/>
<rect x="218" y="511" width="4" height="1" fill="#000"/>
<rect x="213" y="512" width="9" height="1" fill="#000"/>
<rect x="208" y="513" width="6" height="1" fill="#000"/>
<rect x="206" y="514" width="8" height="1" fill="#000"/>
<rect x="206" y="515" width="13" height="1" fill="#000"/>
<rect x="209" y="516" width="13" height="1" fill="#000"/>
<rect x="217" y="517" width="5" height="1" fill="#000"/>
<rect x="361" y="496" width="1" height="8" fill="#fff"/>
<rect x="362" y="495" width="1" height="9" fill="#fff"/>
<rect x="363" y="495" width="1" height="4" fill="#fff"/>
<rect x="359" y="496" width="1" height="4" fill="#000"/>
<rect x="360" y="496" width="1" height="9" fill="#000"/>
<rect x="361" y="504" width="1" height="6" fill="#000"/>
<rect x="362" y="504" width="1" height="9" fill="#000"/>
<rect x="363" y="499" width="1" height="14" fill="#000"/>
<rect x="364" y="496" width="1" height="13" fill="#000"/>
<rect x="365" y="496" width="1" height="5" fill="#000"/>
<rect x="420" y="515" width="8" height="1" fill="#fff"/>
<rect x="420" y="516" width="9" height="1" fill="#fff"/>
<rect x="425" y="517" width="4" height="1" fill="#fff"/>
<rect x="424" y="513" width="4" height="1" fill="#000"/>
<rect x="419" y="514" width="9" height="1" fill="#000"/>
<rect x="414" y="515" width="6" height="1" fill="#000"/>
<rect x="412" y="516" width="8" height="1" fill="#000"/>
<rect x="412" y="517" width="13" height="1" fill="#000"/>
<rect x="415" y="518" width="13" height="1" fill="#000"/>
<rect x="423" y="519" width="5" height="1" fill="#000"/>
<rect x="574" y="488" width="1" height="8" fill="#fff"/>
<rect x="575" y="487" width="1" height="9" fill="#fff"/>
<rect x="576" y="487" width="1" height="4" fill="#fff"/>
<rect x="572" y="488" width="1" height="4" fill="#000"/>
<rect x="573" y="488" width="1" height="9" fill="#000"/>
<rect x="574" y="496" width="1" height="6" fill="#000"/>
<rect x="575" y="496" width="1" height="9" fill="#000"/>
<rect x="576" y="491" width="1" height="14" fill="#000"/>
<rect x="577" y="488" width="1" height="13" fill="#000"/>
<rect x="578" y="488" width="1" height="5" fill="#000"/>
</svg></body></html>
